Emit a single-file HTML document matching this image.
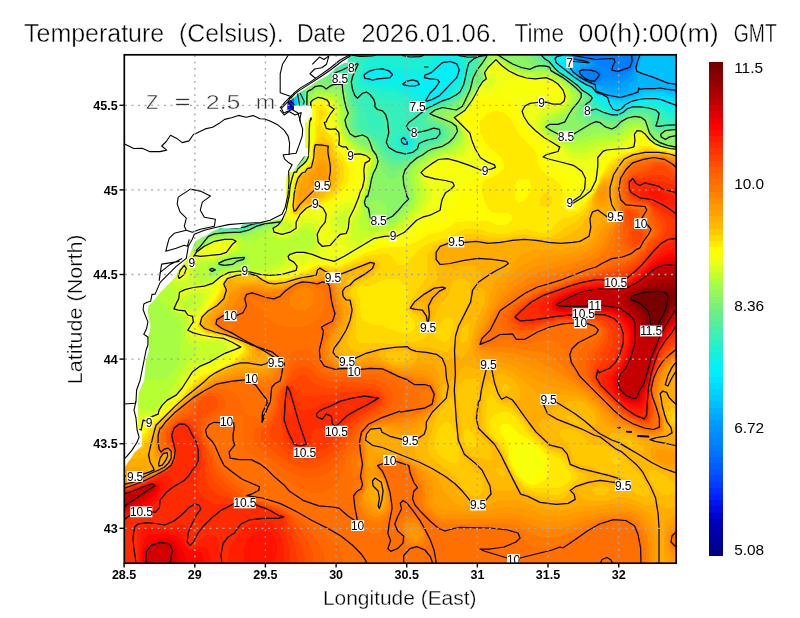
<!DOCTYPE html>
<html><head><meta charset="utf-8"><title>Temperature</title>
<style>
html,body{margin:0;padding:0;background:#fff;}
body{width:800px;height:618px;overflow:hidden;position:relative;}
svg{position:absolute;left:0;top:0;}
.t{font-family:"Liberation Sans",sans-serif;}
</style></head><body>
<svg width="800" height="618" viewBox="0 0 800 618">
<defs><clipPath id="pc"><rect x="124.5" y="54.5" width="552" height="509"/></clipPath></defs>
<g clip-path="url(#pc)">
<g shape-rendering="crispEdges"><rect x="124" y="54" width="553" height="510" fill="#007fff"/><path d="M124.5 54.5L124.5 563.5L676.5 563.5L676.5 54.5L633.5 54.5L633.5 64.5L631.5 66.5L631.5 68.5L628.5 70.5L626.5 70.5L624.5 72.5L620.5 72.5L618.5 74.5L612.5 72.5L609.5 68.5L602.5 65.5L598.5 62.5L596.5 62.5L593.5 59.5L583.5 59.5L581.5 57.5L575.5 57.5L574.5 54.5ZM580.5 73.5L583.5 70.5L591.5 70.5L592.5 69.5L593.5 70.5L598.5 70.5L602.5 73.5L602.5 75.5L600.5 76.5L600.5 78.5L595.5 82.5L594.5 81.5L589.5 81.5L588.5 79.5L585.5 79.5Z" fill="#0087ff"/><path d="M124.5 54.5L124.5 563.5L676.5 563.5L676.5 54.5L634.5 54.5L634.5 65.5L630.5 71.5L620.5 76.5L607.5 76.5L595.5 83.5L592.5 81.5L588.5 81.5L586.5 79.5L584.5 79.5L579.5 74.5L579.5 72.5L582.5 69.5L593.5 67.5L594.5 66.5L594.5 62.5L592.5 60.5L586.5 60.5L581.5 58.5L575.5 58.5L573.5 56.5L573.5 54.5Z" fill="#008fff"/><path d="M124.5 54.5L124.5 563.5L676.5 563.5L676.5 54.5L636.5 54.5L634.5 67.5L632.5 71.5L628.5 75.5L620.5 79.5L607.5 80.5L595.5 84.5L593.5 82.5L589.5 82.5L587.5 80.5L585.5 80.5L579.5 75.5L579.5 71.5L584.5 67.5L589.5 67.5L591.5 66.5L593.5 63.5L589.5 60.5L582.5 60.5L581.5 59.5L574.5 58.5L572.5 54.5Z" fill="#0096ff"/><path d="M124.5 54.5L124.5 563.5L676.5 563.5L676.5 54.5L637.5 54.5L636.5 64.5L632.5 74.5L626.5 80.5L619.5 83.5L614.5 83.5L613.5 84.5L594.5 84.5L593.5 82.5L588.5 82.5L587.5 80.5L584.5 80.5L583.5 78.5L579.5 76.5L578.5 70.5L583.5 66.5L588.5 66.5L592.5 63.5L590.5 61.5L587.5 61.5L586.5 60.5L574.5 59.5L572.5 57.5L572.5 54.5Z" fill="#009eff"/><path d="M124.5 54.5L124.5 563.5L676.5 563.5L676.5 54.5L638.5 54.5L637.5 64.5L635.5 67.5L634.5 75.5L631.5 81.5L626.5 85.5L624.5 85.5L621.5 87.5L615.5 87.5L614.5 88.5L604.5 87.5L598.5 84.5L594.5 84.5L592.5 82.5L588.5 82.5L586.5 80.5L584.5 80.5L581.5 78.5L577.5 73.5L577.5 69.5L580.5 66.5L590.5 64.5L591.5 62.5L588.5 62.5L585.5 60.5L575.5 60.5L571.5 57.5L571.5 54.5Z" fill="#00a9ff"/><path d="M124.5 54.5L124.5 563.5L676.5 563.5L676.5 54.5L640.5 54.5L638.5 60.5L638.5 64.5L636.5 66.5L637.5 80.5L632.5 87.5L625.5 91.5L622.5 91.5L621.5 92.5L609.5 92.5L602.5 90.5L597.5 85.5L595.5 85.5L593.5 83.5L589.5 83.5L587.5 81.5L585.5 81.5L580.5 78.5L575.5 71.5L576.5 67.5L579.5 64.5L590.5 63.5L590.5 62.5L586.5 62.5L580.5 60.5L573.5 60.5L570.5 57.5L570.5 54.5Z" fill="#00b4ff"/><path d="M124.5 54.5L124.5 563.5L676.5 563.5L676.5 54.5L641.5 54.5L641.5 60.5L639.5 61.5L639.5 66.5L637.5 67.5L637.5 72.5L642.5 72.5L643.5 74.5L648.5 74.5L649.5 76.5L654.5 76.5L655.5 78.5L658.5 78.5L659.5 80.5L664.5 80.5L665.5 82.5L668.5 82.5L670.5 85.5L673.5 85.5L674.5 87.5L672.5 88.5L671.5 90.5L668.5 90.5L667.5 91.5L666.5 89.5L643.5 89.5L642.5 91.5L639.5 91.5L638.5 93.5L636.5 93.5L634.5 95.5L630.5 95.5L628.5 97.5L622.5 97.5L620.5 99.5L617.5 97.5L609.5 97.5L608.5 95.5L603.5 95.5L602.5 93.5L597.5 93.5L596.5 92.5L596.5 85.5L584.5 81.5L575.5 73.5L573.5 73.5L572.5 72.5L572.5 68.5L574.5 65.5L574.5 63.5L575.5 62.5L584.5 62.5L584.5 61.5L572.5 61.5L569.5 57.5L569.5 54.5Z" fill="#00c0ff"/><path d="M124.5 54.5L124.5 563.5L676.5 563.5L676.5 93.5L667.5 93.5L663.5 91.5L645.5 91.5L635.5 96.5L632.5 96.5L629.5 98.5L625.5 98.5L621.5 100.5L618.5 100.5L614.5 98.5L610.5 98.5L607.5 95.5L603.5 95.5L601.5 93.5L597.5 93.5L595.5 86.5L592.5 84.5L589.5 84.5L583.5 80.5L581.5 80.5L575.5 74.5L571.5 72.5L571.5 70.5L569.5 68.5L571.5 64.5L568.5 58.5L568.5 54.5Z" fill="#00cbff"/><path d="M124.5 54.5L124.5 563.5L676.5 563.5L676.5 95.5L669.5 95.5L663.5 93.5L650.5 92.5L649.5 93.5L644.5 93.5L641.5 95.5L626.5 100.5L617.5 101.5L611.5 98.5L609.5 98.5L607.5 96.5L603.5 96.5L601.5 94.5L597.5 94.5L595.5 92.5L595.5 88.5L592.5 85.5L588.5 84.5L582.5 80.5L580.5 80.5L570.5 71.5L569.5 69.5L569.5 64.5L567.5 59.5L567.5 54.5Z" fill="#00d3ff"/><path d="M124.5 54.5L124.5 563.5L676.5 563.5L676.5 97.5L670.5 97.5L669.5 96.5L659.5 95.5L658.5 94.5L647.5 94.5L636.5 98.5L633.5 98.5L621.5 103.5L615.5 102.5L608.5 98.5L607.5 96.5L602.5 96.5L601.5 94.5L596.5 94.5L595.5 93.5L595.5 89.5L591.5 85.5L589.5 85.5L581.5 81.5L575.5 75.5L572.5 74.5L568.5 69.5L567.5 66.5L566.5 54.5Z" fill="#00dcff"/><path d="M124.5 54.5L124.5 563.5L676.5 563.5L676.5 99.5L670.5 99.5L660.5 96.5L644.5 96.5L640.5 98.5L631.5 100.5L623.5 104.5L615.5 104.5L606.5 96.5L603.5 97.5L600.5 94.5L597.5 95.5L595.5 93.5L595.5 90.5L593.5 87.5L580.5 81.5L573.5 74.5L571.5 74.5L567.5 69.5L564.5 62.5L565.5 54.5Z" fill="#00e4ff"/><path d="M124.5 54.5L124.5 563.5L676.5 563.5L676.5 102.5L666.5 100.5L665.5 99.5L661.5 99.5L657.5 97.5L645.5 97.5L642.5 99.5L638.5 99.5L631.5 101.5L620.5 107.5L617.5 107.5L613.5 105.5L607.5 97.5L602.5 97.5L600.5 95.5L596.5 95.5L594.5 93.5L594.5 90.5L592.5 87.5L588.5 86.5L582.5 82.5L580.5 82.5L573.5 75.5L570.5 74.5L562.5 63.5L563.5 54.5Z" fill="#00ecff"/><path d="M124.5 54.5L124.5 563.5L676.5 563.5L676.5 105.5L675.5 104.5L672.5 104.5L669.5 102.5L666.5 102.5L657.5 99.5L644.5 99.5L641.5 101.5L634.5 101.5L632.5 103.5L626.5 105.5L620.5 110.5L615.5 110.5L608.5 102.5L608.5 99.5L607.5 99.5L606.5 97.5L602.5 98.5L600.5 96.5L599.5 97.5L594.5 93.5L594.5 91.5L591.5 87.5L589.5 87.5L587.5 85.5L581.5 83.5L566.5 71.5L564.5 68.5L558.5 63.5L558.5 59.5L560.5 57.5L562.5 57.5L562.5 54.5Z" fill="#03f0f8"/><path d="M370.5 77.5L371.5 78.5L376.5 78.5L378.5 76.5L382.5 76.5L385.5 74.5L383.5 73.5L371.5 73.5L370.5 74.5ZM454.5 72.5L451.5 73.5L453.5 74.5ZM124.5 54.5L124.5 563.5L676.5 563.5L676.5 108.5L664.5 103.5L661.5 103.5L652.5 100.5L647.5 100.5L643.5 102.5L635.5 102.5L632.5 104.5L630.5 104.5L628.5 106.5L626.5 106.5L622.5 111.5L612.5 111.5L604.5 100.5L598.5 98.5L593.5 93.5L593.5 91.5L590.5 88.5L588.5 88.5L586.5 86.5L581.5 84.5L577.5 80.5L575.5 80.5L572.5 76.5L565.5 72.5L555.5 62.5L555.5 58.5L557.5 54.5ZM404.5 138.5L409.5 141.5L410.5 144.5L408.5 146.5L405.5 146.5L401.5 142.5ZM394.5 74.5L393.5 79.5L390.5 81.5L371.5 82.5L369.5 80.5L365.5 80.5L363.5 78.5L364.5 75.5L370.5 69.5L380.5 69.5L383.5 67.5L385.5 69.5L389.5 69.5ZM461.5 69.5L460.5 76.5L449.5 88.5L448.5 91.5L440.5 98.5L438.5 98.5L436.5 100.5L434.5 100.5L432.5 102.5L429.5 102.5L428.5 103.5L425.5 102.5L425.5 95.5L422.5 90.5L408.5 89.5L403.5 87.5L401.5 85.5L401.5 83.5L404.5 80.5L409.5 78.5L422.5 80.5L428.5 73.5L431.5 72.5L436.5 68.5L443.5 60.5L448.5 58.5L455.5 60.5L458.5 63.5Z" fill="#0af0ec"/><path d="M124.5 54.5L124.5 563.5L676.5 563.5L676.5 110.5L673.5 110.5L663.5 105.5L657.5 104.5L653.5 102.5L645.5 102.5L644.5 103.5L635.5 103.5L626.5 107.5L622.5 112.5L612.5 112.5L604.5 103.5L600.5 101.5L589.5 89.5L581.5 85.5L577.5 81.5L574.5 80.5L572.5 77.5L562.5 71.5L556.5 65.5L554.5 61.5L554.5 54.5L456.5 54.5L462.5 68.5L462.5 72.5L460.5 78.5L454.5 86.5L443.5 97.5L434.5 102.5L428.5 104.5L425.5 104.5L423.5 102.5L421.5 97.5L418.5 94.5L410.5 91.5L407.5 91.5L401.5 88.5L395.5 83.5L392.5 83.5L391.5 84.5L388.5 83.5L371.5 83.5L368.5 81.5L365.5 81.5L362.5 77.5L364.5 73.5L368.5 69.5L370.5 68.5L378.5 68.5L382.5 66.5L394.5 70.5L401.5 76.5L404.5 76.5L405.5 75.5L421.5 76.5L424.5 73.5L431.5 69.5L437.5 63.5L441.5 56.5L441.5 54.5ZM403.5 137.5L406.5 137.5L411.5 142.5L411.5 144.5L408.5 147.5L404.5 146.5L401.5 143.5L401.5 139.5Z" fill="#10f0e0"/><path d="M124.5 54.5L124.5 563.5L676.5 563.5L676.5 113.5L671.5 112.5L662.5 107.5L653.5 104.5L634.5 104.5L626.5 108.5L623.5 112.5L613.5 113.5L601.5 104.5L595.5 98.5L590.5 91.5L584.5 88.5L576.5 81.5L573.5 80.5L569.5 76.5L562.5 72.5L555.5 65.5L553.5 61.5L553.5 55.5L552.5 54.5L461.5 54.5L461.5 58.5L463.5 64.5L463.5 73.5L461.5 79.5L457.5 85.5L445.5 97.5L428.5 105.5L423.5 104.5L412.5 95.5L405.5 93.5L395.5 88.5L385.5 87.5L379.5 85.5L373.5 85.5L364.5 82.5L362.5 80.5L361.5 76.5L362.5 73.5L368.5 67.5L370.5 66.5L377.5 66.5L378.5 65.5L391.5 65.5L396.5 67.5L400.5 67.5L401.5 68.5L409.5 69.5L410.5 70.5L415.5 70.5L416.5 71.5L421.5 70.5L426.5 67.5L431.5 62.5L433.5 58.5L433.5 54.5ZM403.5 136.5L407.5 136.5L411.5 140.5L412.5 144.5L410.5 147.5L406.5 148.5L401.5 145.5L400.5 139.5Z" fill="#1cf0d4"/><path d="M124.5 54.5L124.5 563.5L676.5 563.5L676.5 116.5L670.5 115.5L663.5 110.5L650.5 105.5L633.5 105.5L627.5 108.5L624.5 112.5L621.5 113.5L611.5 113.5L600.5 106.5L596.5 102.5L593.5 95.5L590.5 92.5L584.5 89.5L576.5 82.5L573.5 81.5L569.5 77.5L562.5 73.5L553.5 64.5L550.5 54.5L465.5 54.5L465.5 71.5L460.5 84.5L450.5 95.5L440.5 101.5L428.5 106.5L421.5 106.5L411.5 99.5L403.5 95.5L393.5 92.5L383.5 91.5L363.5 84.5L360.5 81.5L359.5 76.5L362.5 69.5L372.5 54.5ZM402.5 134.5L406.5 134.5L412.5 138.5L413.5 140.5L413.5 145.5L411.5 148.5L409.5 149.5L404.5 149.5L400.5 146.5L398.5 140.5L399.5 137.5Z" fill="#28f0c8"/><path d="M124.5 54.5L124.5 563.5L676.5 563.5L676.5 119.5L668.5 118.5L658.5 109.5L652.5 107.5L644.5 107.5L643.5 106.5L632.5 106.5L620.5 114.5L611.5 114.5L606.5 112.5L604.5 110.5L599.5 108.5L594.5 103.5L593.5 96.5L591.5 94.5L585.5 91.5L575.5 82.5L573.5 82.5L569.5 78.5L559.5 72.5L552.5 64.5L548.5 56.5L548.5 54.5L469.5 54.5L465.5 77.5L459.5 89.5L454.5 94.5L446.5 99.5L444.5 99.5L436.5 104.5L421.5 109.5L417.5 109.5L410.5 107.5L405.5 103.5L398.5 100.5L391.5 100.5L390.5 99.5L383.5 98.5L368.5 90.5L361.5 90.5L358.5 87.5L357.5 84.5L357.5 75.5L361.5 67.5L361.5 63.5L357.5 56.5L357.5 54.5ZM401.5 131.5L407.5 132.5L415.5 138.5L416.5 143.5L415.5 146.5L411.5 150.5L409.5 151.5L404.5 151.5L400.5 149.5L396.5 145.5L395.5 139.5L397.5 134.5Z" fill="#34f0bc"/><path d="M124.5 54.5L124.5 563.5L676.5 563.5L676.5 123.5L666.5 123.5L662.5 119.5L661.5 114.5L658.5 111.5L653.5 110.5L650.5 108.5L632.5 107.5L620.5 115.5L611.5 115.5L610.5 114.5L607.5 114.5L601.5 110.5L595.5 109.5L591.5 105.5L592.5 96.5L583.5 91.5L575.5 83.5L573.5 83.5L569.5 79.5L559.5 73.5L552.5 66.5L549.5 60.5L545.5 57.5L545.5 54.5L475.5 54.5L474.5 57.5L468.5 65.5L468.5 71.5L466.5 73.5L466.5 79.5L464.5 81.5L464.5 86.5L462.5 89.5L452.5 98.5L449.5 98.5L447.5 100.5L442.5 101.5L439.5 104.5L427.5 108.5L423.5 112.5L419.5 113.5L411.5 118.5L406.5 123.5L405.5 127.5L407.5 130.5L412.5 133.5L416.5 134.5L419.5 137.5L420.5 140.5L418.5 143.5L417.5 148.5L413.5 152.5L408.5 154.5L405.5 154.5L393.5 149.5L390.5 146.5L389.5 140.5L391.5 134.5L391.5 121.5L386.5 111.5L378.5 104.5L371.5 94.5L369.5 94.5L367.5 92.5L364.5 92.5L359.5 96.5L356.5 94.5L353.5 87.5L353.5 80.5L357.5 69.5L359.5 67.5L359.5 64.5L354.5 63.5L351.5 60.5L350.5 54.5ZM365.5 94.5L367.5 94.5L370.5 96.5L373.5 102.5L373.5 112.5L382.5 119.5L383.5 127.5L380.5 130.5L377.5 130.5L371.5 127.5L366.5 121.5L366.5 114.5L359.5 101.5L362.5 96.5ZM470.5 71.5L471.5 74.5L469.5 76.5L468.5 73.5Z" fill="#41f0af"/><path d="M124.5 54.5L124.5 563.5L676.5 563.5L676.5 126.5L658.5 128.5L655.5 125.5L657.5 121.5L656.5 115.5L651.5 111.5L642.5 110.5L639.5 108.5L635.5 108.5L633.5 110.5L629.5 110.5L626.5 113.5L620.5 116.5L607.5 116.5L599.5 112.5L589.5 112.5L586.5 110.5L584.5 106.5L589.5 102.5L589.5 99.5L590.5 98.5L589.5 96.5L584.5 93.5L574.5 83.5L572.5 83.5L563.5 75.5L561.5 75.5L558.5 73.5L550.5 65.5L549.5 62.5L547.5 62.5L541.5 56.5L541.5 54.5L487.5 54.5L483.5 57.5L479.5 58.5L476.5 61.5L475.5 68.5L473.5 74.5L469.5 80.5L469.5 82.5L464.5 88.5L464.5 90.5L456.5 98.5L454.5 98.5L452.5 100.5L449.5 100.5L446.5 102.5L444.5 102.5L442.5 104.5L430.5 108.5L422.5 117.5L421.5 123.5L423.5 126.5L425.5 127.5L436.5 127.5L442.5 131.5L442.5 134.5L436.5 140.5L434.5 140.5L432.5 142.5L427.5 142.5L425.5 144.5L421.5 145.5L420.5 148.5L414.5 154.5L412.5 154.5L410.5 156.5L394.5 156.5L390.5 154.5L386.5 150.5L380.5 141.5L370.5 133.5L363.5 130.5L359.5 126.5L358.5 124.5L358.5 109.5L352.5 95.5L350.5 79.5L348.5 75.5L346.5 74.5L340.5 74.5L337.5 76.5L334.5 75.5L334.5 73.5L337.5 71.5L341.5 65.5L342.5 62.5L342.5 54.5ZM252.5 225.5L250.5 227.5L246.5 227.5L244.5 229.5L219.5 229.5L218.5 228.5L224.5 226.5L244.5 226.5L249.5 224.5ZM251.5 224.5L252.5 223.5L258.5 223.5L259.5 224.5L258.5 225.5L252.5 225.5Z" fill="#4df0a3"/><path d="M124.5 54.5L124.5 563.5L676.5 563.5L676.5 127.5L658.5 129.5L656.5 128.5L654.5 125.5L654.5 118.5L652.5 115.5L647.5 112.5L644.5 112.5L639.5 110.5L632.5 111.5L620.5 117.5L615.5 117.5L614.5 118.5L605.5 117.5L598.5 114.5L590.5 114.5L586.5 112.5L584.5 110.5L583.5 106.5L587.5 101.5L587.5 96.5L575.5 84.5L573.5 84.5L569.5 80.5L567.5 80.5L562.5 75.5L560.5 75.5L548.5 63.5L545.5 62.5L540.5 57.5L540.5 54.5L487.5 54.5L486.5 56.5L479.5 60.5L475.5 72.5L470.5 81.5L469.5 85.5L456.5 99.5L442.5 105.5L434.5 107.5L427.5 113.5L426.5 115.5L426.5 121.5L431.5 125.5L435.5 125.5L441.5 128.5L443.5 131.5L443.5 135.5L437.5 141.5L425.5 145.5L422.5 147.5L416.5 154.5L410.5 157.5L403.5 159.5L392.5 159.5L383.5 151.5L381.5 147.5L370.5 135.5L361.5 132.5L356.5 127.5L355.5 125.5L355.5 108.5L351.5 99.5L348.5 82.5L347.5 80.5L343.5 77.5L335.5 77.5L332.5 75.5L332.5 71.5L334.5 65.5L334.5 56.5L335.5 54.5ZM262.5 222.5L259.5 225.5L253.5 226.5L244.5 230.5L218.5 230.5L217.5 229.5L217.5 227.5L219.5 225.5L227.5 222.5L246.5 222.5L247.5 221.5L261.5 221.5Z" fill="#59f097"/><path d="M124.5 54.5L124.5 563.5L676.5 563.5L676.5 128.5L657.5 130.5L653.5 126.5L652.5 119.5L647.5 114.5L640.5 112.5L634.5 112.5L618.5 119.5L606.5 119.5L597.5 116.5L587.5 115.5L582.5 109.5L582.5 105.5L585.5 102.5L586.5 99.5L585.5 95.5L574.5 84.5L572.5 84.5L563.5 76.5L561.5 76.5L558.5 74.5L548.5 64.5L543.5 62.5L538.5 57.5L537.5 54.5L488.5 54.5L480.5 61.5L475.5 72.5L475.5 74.5L471.5 80.5L471.5 83.5L469.5 87.5L460.5 97.5L448.5 104.5L434.5 108.5L429.5 112.5L428.5 114.5L428.5 119.5L431.5 122.5L437.5 124.5L443.5 128.5L445.5 133.5L443.5 138.5L438.5 142.5L425.5 147.5L419.5 153.5L409.5 159.5L407.5 159.5L401.5 162.5L392.5 162.5L388.5 160.5L384.5 156.5L376.5 144.5L368.5 135.5L359.5 133.5L354.5 128.5L353.5 126.5L353.5 108.5L349.5 98.5L347.5 85.5L345.5 81.5L342.5 79.5L336.5 79.5L333.5 78.5L330.5 75.5L328.5 69.5L328.5 54.5ZM216.5 229.5L217.5 224.5L221.5 220.5L228.5 217.5L246.5 217.5L247.5 218.5L254.5 218.5L262.5 221.5L262.5 223.5L259.5 226.5L254.5 226.5L251.5 228.5L241.5 231.5L218.5 231.5Z" fill="#65f08b"/><path d="M124.5 54.5L124.5 563.5L676.5 563.5L676.5 128.5L675.5 129.5L666.5 129.5L661.5 131.5L656.5 131.5L652.5 127.5L649.5 118.5L647.5 116.5L641.5 114.5L632.5 114.5L617.5 121.5L606.5 121.5L598.5 118.5L588.5 118.5L582.5 114.5L580.5 109.5L580.5 107.5L584.5 101.5L584.5 95.5L573.5 84.5L571.5 84.5L562.5 76.5L560.5 76.5L557.5 74.5L548.5 65.5L540.5 62.5L536.5 58.5L535.5 54.5L488.5 54.5L480.5 63.5L472.5 80.5L471.5 85.5L468.5 90.5L455.5 102.5L449.5 105.5L434.5 109.5L430.5 112.5L429.5 114.5L430.5 118.5L432.5 120.5L441.5 124.5L446.5 129.5L446.5 136.5L445.5 138.5L438.5 144.5L433.5 145.5L425.5 149.5L421.5 153.5L412.5 159.5L400.5 165.5L394.5 166.5L389.5 164.5L382.5 157.5L368.5 136.5L358.5 134.5L353.5 130.5L351.5 126.5L351.5 116.5L352.5 115.5L352.5 112.5L348.5 100.5L345.5 84.5L342.5 81.5L331.5 79.5L325.5 73.5L322.5 67.5L320.5 54.5ZM214.5 228.5L214.5 222.5L215.5 220.5L223.5 213.5L229.5 211.5L240.5 211.5L241.5 212.5L249.5 213.5L255.5 216.5L257.5 216.5L260.5 218.5L263.5 222.5L260.5 226.5L256.5 226.5L244.5 231.5L224.5 231.5L223.5 232.5L218.5 232.5Z" fill="#71f07f"/><path d="M124.5 54.5L124.5 563.5L676.5 563.5L676.5 129.5L674.5 130.5L665.5 130.5L657.5 133.5L651.5 128.5L649.5 121.5L647.5 118.5L638.5 115.5L634.5 115.5L628.5 117.5L617.5 123.5L614.5 123.5L613.5 124.5L606.5 123.5L600.5 120.5L585.5 120.5L579.5 115.5L578.5 112.5L578.5 108.5L583.5 100.5L583.5 94.5L574.5 85.5L571.5 84.5L562.5 76.5L560.5 76.5L552.5 70.5L549.5 66.5L543.5 65.5L536.5 62.5L532.5 58.5L531.5 54.5L488.5 54.5L478.5 68.5L478.5 70.5L476.5 72.5L476.5 75.5L472.5 81.5L472.5 85.5L469.5 91.5L453.5 105.5L436.5 109.5L431.5 112.5L430.5 114.5L431.5 117.5L443.5 123.5L448.5 128.5L449.5 130.5L449.5 135.5L447.5 139.5L443.5 143.5L428.5 149.5L401.5 168.5L396.5 170.5L391.5 170.5L383.5 163.5L369.5 138.5L367.5 136.5L356.5 135.5L351.5 130.5L349.5 125.5L350.5 109.5L346.5 99.5L346.5 92.5L343.5 83.5L340.5 82.5L332.5 82.5L331.5 81.5L328.5 81.5L323.5 78.5L318.5 73.5L313.5 64.5L312.5 54.5ZM210.5 226.5L210.5 218.5L212.5 214.5L221.5 206.5L228.5 204.5L237.5 204.5L247.5 207.5L259.5 214.5L264.5 220.5L264.5 222.5L260.5 226.5L257.5 226.5L254.5 228.5L252.5 228.5L250.5 230.5L246.5 230.5L244.5 232.5L223.5 232.5L222.5 233.5L217.5 233.5L215.5 232.5ZM479.5 73.5L481.5 75.5L481.5 78.5L477.5 83.5L475.5 83.5L474.5 82.5L475.5 78.5Z" fill="#7ef372"/><path d="M475.5 77.5L475.5 78.5ZM477.5 73.5L477.5 74.5ZM124.5 54.5L124.5 563.5L676.5 563.5L676.5 130.5L666.5 131.5L665.5 132.5L662.5 132.5L658.5 135.5L655.5 135.5L653.5 134.5L650.5 130.5L647.5 123.5L647.5 120.5L645.5 118.5L640.5 118.5L637.5 116.5L634.5 116.5L632.5 118.5L628.5 118.5L618.5 125.5L615.5 126.5L608.5 126.5L601.5 122.5L593.5 122.5L588.5 124.5L579.5 123.5L575.5 118.5L575.5 110.5L578.5 104.5L582.5 100.5L583.5 96.5L573.5 85.5L571.5 85.5L562.5 77.5L560.5 77.5L547.5 66.5L539.5 66.5L538.5 65.5L530.5 64.5L524.5 58.5L523.5 54.5L489.5 54.5L478.5 70.5L480.5 71.5L482.5 74.5L482.5 78.5L479.5 83.5L475.5 86.5L473.5 84.5L473.5 81.5L473.5 84.5L470.5 89.5L470.5 92.5L455.5 106.5L450.5 108.5L441.5 108.5L439.5 110.5L435.5 110.5L431.5 114.5L431.5 115.5L434.5 117.5L444.5 121.5L452.5 128.5L453.5 131.5L452.5 137.5L444.5 145.5L442.5 145.5L436.5 148.5L432.5 148.5L422.5 156.5L420.5 156.5L415.5 159.5L408.5 165.5L398.5 176.5L391.5 178.5L386.5 176.5L383.5 173.5L381.5 169.5L380.5 161.5L377.5 156.5L377.5 154.5L374.5 151.5L373.5 147.5L369.5 141.5L369.5 139.5L364.5 136.5L355.5 136.5L349.5 130.5L349.5 128.5L347.5 125.5L347.5 120.5L349.5 117.5L349.5 110.5L345.5 101.5L345.5 92.5L343.5 90.5L343.5 85.5L342.5 84.5L324.5 84.5L312.5 79.5L307.5 74.5L302.5 65.5L300.5 54.5ZM202.5 217.5L205.5 207.5L212.5 199.5L221.5 195.5L235.5 195.5L241.5 197.5L253.5 204.5L264.5 215.5L266.5 221.5L265.5 223.5L260.5 227.5L256.5 227.5L245.5 232.5L215.5 234.5L209.5 232.5L204.5 227.5ZM359.5 140.5L364.5 137.5L367.5 139.5L368.5 143.5L367.5 144.5L363.5 144.5Z" fill="#8af666"/><path d="M374.5 199.5L369.5 202.5L368.5 204.5L372.5 212.5L373.5 217.5L375.5 218.5L380.5 218.5L385.5 214.5L386.5 212.5L386.5 206.5L382.5 201.5L378.5 199.5ZM124.5 54.5L124.5 563.5L676.5 563.5L676.5 147.5L669.5 147.5L667.5 145.5L663.5 145.5L661.5 143.5L659.5 143.5L655.5 139.5L653.5 139.5L652.5 136.5L648.5 131.5L648.5 127.5L645.5 124.5L645.5 122.5L643.5 120.5L638.5 120.5L637.5 119.5L629.5 120.5L627.5 122.5L625.5 122.5L616.5 130.5L613.5 131.5L608.5 130.5L601.5 126.5L594.5 126.5L585.5 130.5L579.5 134.5L577.5 134.5L575.5 136.5L571.5 136.5L568.5 138.5L558.5 135.5L546.5 128.5L551.5 123.5L559.5 123.5L563.5 121.5L565.5 118.5L567.5 117.5L580.5 98.5L580.5 95.5L576.5 89.5L571.5 86.5L565.5 81.5L564.5 79.5L562.5 79.5L559.5 77.5L558.5 75.5L556.5 75.5L553.5 72.5L550.5 71.5L548.5 68.5L536.5 68.5L531.5 71.5L527.5 69.5L520.5 69.5L518.5 67.5L516.5 67.5L514.5 65.5L508.5 63.5L501.5 57.5L499.5 57.5L498.5 54.5L490.5 54.5L483.5 66.5L483.5 69.5L482.5 70.5L483.5 78.5L480.5 83.5L476.5 87.5L472.5 89.5L471.5 93.5L467.5 98.5L467.5 100.5L465.5 101.5L465.5 104.5L464.5 105.5L463.5 103.5L462.5 103.5L460.5 105.5L461.5 108.5L456.5 111.5L448.5 110.5L445.5 111.5L443.5 114.5L444.5 117.5L448.5 121.5L452.5 122.5L457.5 127.5L457.5 129.5L459.5 131.5L457.5 137.5L450.5 144.5L445.5 147.5L440.5 148.5L437.5 150.5L434.5 150.5L432.5 152.5L426.5 154.5L422.5 158.5L420.5 158.5L417.5 160.5L408.5 169.5L408.5 171.5L406.5 174.5L406.5 187.5L408.5 190.5L408.5 194.5L410.5 197.5L410.5 200.5L406.5 205.5L390.5 220.5L388.5 220.5L385.5 222.5L378.5 222.5L377.5 221.5L374.5 221.5L370.5 218.5L369.5 212.5L364.5 205.5L364.5 202.5L366.5 200.5L366.5 196.5L370.5 190.5L370.5 182.5L372.5 180.5L372.5 176.5L377.5 165.5L376.5 156.5L371.5 149.5L360.5 145.5L353.5 137.5L349.5 134.5L349.5 132.5L346.5 127.5L347.5 111.5L343.5 102.5L343.5 95.5L338.5 88.5L331.5 88.5L327.5 91.5L326.5 91.5L324.5 88.5L317.5 88.5L312.5 92.5L310.5 92.5L307.5 97.5L307.5 104.5L306.5 105.5L305.5 104.5L304.5 91.5L287.5 71.5L283.5 62.5L282.5 54.5ZM210.5 271.5L212.5 268.5L217.5 270.5L213.5 273.5ZM218.5 265.5L220.5 262.5L222.5 262.5L224.5 260.5L228.5 260.5L230.5 258.5L244.5 258.5L245.5 259.5L244.5 261.5L240.5 261.5L237.5 263.5L235.5 263.5L233.5 265.5L229.5 265.5L227.5 267.5L219.5 266.5ZM197.5 248.5L198.5 247.5L199.5 248.5L198.5 249.5ZM199.5 245.5L200.5 244.5L201.5 246.5L200.5 247.5ZM189.5 200.5L194.5 189.5L202.5 182.5L213.5 178.5L226.5 179.5L240.5 185.5L248.5 191.5L263.5 207.5L269.5 219.5L271.5 221.5L275.5 221.5L276.5 222.5L275.5 223.5L271.5 223.5L269.5 225.5L263.5 226.5L260.5 228.5L257.5 228.5L244.5 234.5L240.5 234.5L239.5 233.5L225.5 233.5L223.5 235.5L213.5 235.5L211.5 237.5L209.5 237.5L207.5 240.5L201.5 245.5L200.5 244.5L201.5 241.5L200.5 237.5L193.5 226.5L193.5 224.5L190.5 218.5L190.5 215.5L189.5 214.5ZM296.5 166.5L297.5 165.5L299.5 166.5L298.5 167.5ZM299.5 163.5L300.5 162.5L301.5 164.5L300.5 165.5ZM301.5 159.5L302.5 158.5L303.5 160.5L302.5 161.5ZM461.5 106.5L462.5 105.5L463.5 106.5L462.5 107.5Z" fill="#98f957"/><path d="M676.5 149.5L674.5 147.5L668.5 147.5L665.5 145.5L659.5 144.5L655.5 140.5L653.5 140.5L649.5 135.5L649.5 133.5L647.5 131.5L646.5 127.5L643.5 124.5L638.5 122.5L631.5 123.5L625.5 126.5L619.5 131.5L612.5 134.5L611.5 133.5L598.5 132.5L577.5 139.5L572.5 139.5L571.5 140.5L563.5 139.5L554.5 135.5L552.5 133.5L547.5 131.5L545.5 129.5L545.5 127.5L549.5 122.5L562.5 117.5L569.5 110.5L575.5 100.5L575.5 93.5L574.5 91.5L564.5 81.5L561.5 80.5L558.5 77.5L546.5 70.5L537.5 70.5L532.5 72.5L523.5 71.5L511.5 66.5L503.5 60.5L498.5 58.5L495.5 54.5L492.5 54.5L484.5 68.5L483.5 71.5L484.5 77.5L482.5 81.5L470.5 95.5L470.5 97.5L466.5 102.5L466.5 104.5L457.5 112.5L451.5 113.5L449.5 115.5L449.5 118.5L458.5 126.5L458.5 128.5L460.5 130.5L460.5 134.5L458.5 139.5L448.5 148.5L435.5 152.5L429.5 155.5L420.5 161.5L413.5 168.5L410.5 177.5L410.5 183.5L411.5 184.5L411.5 190.5L412.5 191.5L412.5 201.5L408.5 207.5L393.5 221.5L386.5 224.5L377.5 224.5L369.5 220.5L366.5 210.5L363.5 206.5L363.5 202.5L369.5 186.5L370.5 177.5L374.5 169.5L375.5 159.5L373.5 154.5L371.5 152.5L356.5 145.5L348.5 136.5L344.5 127.5L344.5 111.5L343.5 110.5L343.5 107.5L340.5 98.5L337.5 94.5L333.5 92.5L325.5 92.5L320.5 90.5L319.5 91.5L316.5 91.5L309.5 97.5L308.5 99.5L308.5 106.5L306.5 108.5L299.5 100.5L290.5 95.5L262.5 87.5L249.5 86.5L248.5 85.5L240.5 85.5L239.5 86.5L231.5 87.5L224.5 91.5L219.5 97.5L216.5 105.5L216.5 119.5L219.5 129.5L227.5 144.5L254.5 182.5L263.5 199.5L265.5 201.5L272.5 216.5L275.5 219.5L280.5 221.5L281.5 223.5L280.5 224.5L279.5 223.5L273.5 224.5L267.5 228.5L262.5 229.5L246.5 236.5L240.5 236.5L239.5 235.5L216.5 236.5L209.5 239.5L205.5 244.5L196.5 251.5L192.5 241.5L154.5 208.5L138.5 198.5L124.5 195.5L124.5 563.5L676.5 563.5ZM247.5 259.5L244.5 263.5L240.5 263.5L232.5 267.5L219.5 268.5L219.5 270.5L214.5 274.5L211.5 274.5L209.5 272.5L209.5 269.5L212.5 266.5L216.5 266.5L216.5 264.5L219.5 261.5L231.5 256.5L244.5 256.5ZM304.5 155.5L305.5 156.5L304.5 161.5L298.5 168.5L296.5 168.5L295.5 167.5L296.5 161.5L301.5 156.5Z" fill="#a7fc44"/><path d="M676.5 149.5L675.5 148.5L668.5 148.5L666.5 146.5L662.5 146.5L651.5 139.5L647.5 131.5L640.5 125.5L634.5 125.5L628.5 128.5L620.5 134.5L615.5 136.5L612.5 136.5L611.5 137.5L600.5 137.5L599.5 138.5L595.5 138.5L587.5 141.5L578.5 142.5L577.5 143.5L570.5 143.5L556.5 138.5L548.5 133.5L544.5 129.5L544.5 125.5L549.5 119.5L561.5 114.5L565.5 111.5L570.5 105.5L573.5 97.5L570.5 89.5L559.5 79.5L545.5 72.5L536.5 72.5L535.5 73.5L522.5 72.5L507.5 65.5L501.5 60.5L494.5 57.5L489.5 61.5L484.5 70.5L484.5 79.5L471.5 95.5L466.5 105.5L460.5 111.5L453.5 114.5L451.5 117.5L452.5 120.5L458.5 125.5L461.5 130.5L461.5 137.5L458.5 143.5L451.5 149.5L436.5 154.5L428.5 158.5L418.5 166.5L414.5 174.5L414.5 183.5L415.5 184.5L415.5 190.5L416.5 191.5L415.5 201.5L412.5 207.5L399.5 220.5L393.5 224.5L387.5 226.5L374.5 226.5L367.5 221.5L362.5 208.5L362.5 201.5L367.5 189.5L369.5 176.5L374.5 163.5L374.5 159.5L372.5 155.5L368.5 152.5L357.5 148.5L346.5 136.5L342.5 125.5L341.5 108.5L337.5 99.5L333.5 95.5L330.5 94.5L316.5 93.5L310.5 98.5L307.5 108.5L304.5 108.5L300.5 106.5L289.5 106.5L282.5 108.5L275.5 112.5L267.5 121.5L263.5 131.5L263.5 137.5L262.5 138.5L263.5 173.5L264.5 174.5L264.5 180.5L265.5 181.5L266.5 189.5L269.5 196.5L269.5 199.5L271.5 202.5L275.5 215.5L277.5 218.5L282.5 222.5L281.5 224.5L276.5 224.5L272.5 226.5L263.5 235.5L252.5 240.5L244.5 240.5L239.5 237.5L236.5 237.5L235.5 236.5L225.5 236.5L224.5 237.5L213.5 238.5L196.5 252.5L191.5 248.5L181.5 244.5L177.5 244.5L176.5 243.5L163.5 243.5L162.5 244.5L157.5 244.5L148.5 247.5L133.5 255.5L124.5 257.5L124.5 283.5L129.5 283.5L143.5 290.5L161.5 301.5L168.5 309.5L179.5 319.5L181.5 324.5L181.5 327.5L180.5 328.5L180.5 339.5L179.5 340.5L179.5 358.5L176.5 366.5L172.5 372.5L167.5 377.5L163.5 379.5L156.5 380.5L155.5 379.5L146.5 379.5L145.5 378.5L139.5 378.5L138.5 377.5L132.5 377.5L131.5 376.5L124.5 376.5L124.5 563.5L676.5 563.5ZM250.5 258.5L249.5 262.5L245.5 265.5L222.5 270.5L213.5 276.5L210.5 276.5L206.5 273.5L206.5 268.5L209.5 265.5L230.5 255.5L240.5 252.5L244.5 252.5L246.5 253.5ZM304.5 154.5L306.5 156.5L304.5 162.5L301.5 166.5L298.5 168.5L295.5 168.5L292.5 164.5L292.5 159.5L298.5 154.5Z" fill="#b6ff32"/><path d="M675.5 148.5L668.5 148.5L665.5 146.5L661.5 146.5L657.5 144.5L649.5 137.5L646.5 131.5L641.5 127.5L633.5 128.5L619.5 138.5L613.5 140.5L608.5 140.5L607.5 141.5L595.5 143.5L588.5 146.5L573.5 147.5L564.5 144.5L548.5 135.5L543.5 130.5L542.5 124.5L544.5 120.5L548.5 116.5L562.5 110.5L567.5 106.5L570.5 100.5L570.5 93.5L568.5 89.5L561.5 82.5L549.5 75.5L546.5 74.5L532.5 74.5L530.5 75.5L529.5 74.5L521.5 73.5L510.5 68.5L501.5 61.5L497.5 59.5L494.5 59.5L490.5 62.5L484.5 71.5L485.5 78.5L469.5 100.5L467.5 105.5L461.5 111.5L453.5 116.5L453.5 119.5L458.5 124.5L462.5 130.5L462.5 133.5L463.5 134.5L462.5 141.5L460.5 145.5L453.5 151.5L436.5 156.5L430.5 159.5L420.5 167.5L417.5 173.5L417.5 179.5L418.5 180.5L418.5 184.5L420.5 190.5L420.5 197.5L416.5 207.5L406.5 218.5L393.5 227.5L386.5 229.5L378.5 229.5L377.5 230.5L361.5 230.5L358.5 227.5L358.5 220.5L360.5 215.5L360.5 207.5L361.5 206.5L362.5 197.5L366.5 189.5L368.5 175.5L373.5 161.5L372.5 157.5L369.5 154.5L363.5 151.5L357.5 150.5L354.5 148.5L345.5 138.5L340.5 124.5L339.5 108.5L335.5 100.5L329.5 96.5L322.5 95.5L321.5 94.5L314.5 96.5L309.5 102.5L309.5 107.5L307.5 109.5L299.5 110.5L293.5 113.5L288.5 118.5L284.5 126.5L283.5 137.5L285.5 143.5L290.5 148.5L303.5 152.5L307.5 157.5L304.5 163.5L300.5 166.5L298.5 169.5L294.5 169.5L287.5 166.5L282.5 166.5L277.5 170.5L275.5 174.5L274.5 182.5L273.5 183.5L274.5 197.5L275.5 198.5L278.5 215.5L283.5 223.5L281.5 225.5L278.5 224.5L274.5 226.5L271.5 230.5L271.5 233.5L273.5 236.5L277.5 238.5L286.5 238.5L294.5 234.5L296.5 234.5L304.5 228.5L307.5 228.5L311.5 232.5L312.5 235.5L312.5 246.5L309.5 248.5L291.5 250.5L287.5 252.5L277.5 263.5L266.5 268.5L263.5 268.5L262.5 269.5L252.5 269.5L251.5 268.5L231.5 269.5L220.5 273.5L210.5 280.5L198.5 282.5L197.5 281.5L194.5 281.5L192.5 278.5L193.5 270.5L197.5 265.5L202.5 262.5L212.5 261.5L218.5 258.5L224.5 257.5L237.5 250.5L241.5 244.5L238.5 239.5L233.5 237.5L217.5 238.5L210.5 241.5L201.5 249.5L198.5 250.5L197.5 252.5L184.5 252.5L172.5 256.5L166.5 261.5L163.5 267.5L164.5 276.5L176.5 289.5L175.5 298.5L173.5 303.5L173.5 310.5L176.5 313.5L181.5 314.5L185.5 319.5L184.5 334.5L188.5 343.5L195.5 350.5L195.5 352.5L183.5 367.5L168.5 394.5L154.5 408.5L152.5 409.5L142.5 409.5L131.5 404.5L124.5 403.5L124.5 563.5L676.5 563.5L676.5 150.5ZM204.5 350.5L205.5 349.5L209.5 349.5L210.5 350.5L207.5 352.5ZM194.5 300.5L193.5 304.5L190.5 306.5L186.5 306.5L183.5 304.5L184.5 300.5L190.5 297.5Z" fill="#c9ff28"/><path d="M238.5 241.5L235.5 239.5L217.5 239.5L212.5 241.5L197.5 252.5L191.5 254.5L186.5 259.5L177.5 263.5L173.5 268.5L173.5 276.5L174.5 278.5L179.5 282.5L185.5 281.5L188.5 277.5L190.5 267.5L198.5 260.5L201.5 259.5L212.5 259.5L216.5 257.5L226.5 255.5L231.5 252.5L237.5 246.5ZM676.5 150.5L674.5 148.5L667.5 148.5L664.5 146.5L659.5 146.5L655.5 142.5L653.5 142.5L649.5 138.5L646.5 132.5L642.5 129.5L636.5 129.5L626.5 138.5L621.5 141.5L611.5 144.5L603.5 145.5L587.5 152.5L573.5 152.5L547.5 136.5L541.5 130.5L539.5 124.5L541.5 118.5L546.5 113.5L561.5 108.5L567.5 103.5L568.5 93.5L566.5 89.5L559.5 82.5L548.5 76.5L527.5 76.5L518.5 73.5L513.5 70.5L511.5 70.5L502.5 64.5L498.5 60.5L494.5 60.5L484.5 72.5L486.5 75.5L486.5 78.5L482.5 82.5L482.5 84.5L478.5 88.5L470.5 100.5L468.5 105.5L461.5 112.5L458.5 113.5L454.5 117.5L454.5 119.5L462.5 128.5L465.5 135.5L465.5 141.5L463.5 147.5L458.5 152.5L454.5 154.5L445.5 155.5L432.5 160.5L426.5 164.5L420.5 171.5L420.5 178.5L425.5 190.5L425.5 197.5L420.5 208.5L400.5 227.5L390.5 231.5L375.5 233.5L361.5 240.5L354.5 241.5L351.5 239.5L350.5 236.5L351.5 235.5L351.5 225.5L354.5 216.5L356.5 214.5L359.5 207.5L360.5 200.5L366.5 185.5L366.5 178.5L367.5 177.5L368.5 168.5L372.5 161.5L371.5 157.5L365.5 153.5L355.5 151.5L344.5 140.5L341.5 130.5L338.5 124.5L337.5 108.5L333.5 101.5L331.5 99.5L323.5 96.5L317.5 96.5L315.5 97.5L310.5 102.5L309.5 108.5L299.5 115.5L296.5 120.5L294.5 127.5L294.5 133.5L296.5 140.5L300.5 146.5L306.5 152.5L307.5 154.5L307.5 160.5L299.5 169.5L287.5 172.5L283.5 176.5L280.5 184.5L280.5 210.5L281.5 211.5L281.5 219.5L282.5 221.5L290.5 223.5L292.5 226.5L289.5 230.5L283.5 232.5L280.5 230.5L280.5 225.5L277.5 225.5L277.5 226.5L273.5 229.5L273.5 233.5L278.5 236.5L287.5 236.5L289.5 234.5L295.5 232.5L303.5 223.5L309.5 222.5L311.5 223.5L315.5 228.5L315.5 237.5L316.5 238.5L316.5 246.5L317.5 247.5L314.5 251.5L294.5 251.5L288.5 254.5L286.5 257.5L285.5 263.5L281.5 267.5L271.5 271.5L265.5 271.5L264.5 272.5L244.5 271.5L243.5 270.5L228.5 271.5L221.5 274.5L211.5 282.5L205.5 284.5L187.5 286.5L184.5 287.5L179.5 291.5L177.5 300.5L175.5 302.5L174.5 310.5L177.5 312.5L182.5 312.5L186.5 315.5L188.5 319.5L188.5 325.5L186.5 330.5L187.5 334.5L191.5 338.5L196.5 340.5L209.5 340.5L210.5 341.5L220.5 342.5L225.5 346.5L225.5 348.5L220.5 354.5L215.5 357.5L205.5 361.5L195.5 363.5L190.5 366.5L183.5 375.5L174.5 392.5L160.5 407.5L153.5 413.5L141.5 415.5L140.5 414.5L134.5 414.5L133.5 413.5L124.5 412.5L124.5 563.5L676.5 563.5ZM202.5 292.5L204.5 295.5L202.5 302.5L199.5 307.5L195.5 311.5L191.5 312.5L187.5 309.5L180.5 309.5L178.5 307.5L178.5 304.5L181.5 298.5L186.5 293.5L189.5 293.5L190.5 292.5ZM346.5 210.5L347.5 211.5L346.5 221.5L342.5 227.5L339.5 227.5L336.5 222.5L337.5 217.5L343.5 210.5Z" fill="#ddff1f"/><path d="M185.5 265.5L181.5 266.5L178.5 269.5L177.5 277.5L179.5 279.5L182.5 279.5L186.5 276.5L187.5 267.5ZM237.5 242.5L235.5 240.5L216.5 240.5L207.5 246.5L205.5 246.5L197.5 253.5L195.5 253.5L192.5 257.5L191.5 262.5L193.5 263.5L197.5 258.5L213.5 257.5L217.5 255.5L223.5 255.5L227.5 253.5ZM676.5 150.5L675.5 149.5L668.5 149.5L665.5 147.5L658.5 146.5L654.5 142.5L652.5 142.5L647.5 137.5L647.5 135.5L641.5 130.5L637.5 130.5L632.5 135.5L631.5 138.5L626.5 143.5L622.5 145.5L606.5 148.5L588.5 159.5L583.5 159.5L581.5 160.5L580.5 159.5L572.5 158.5L568.5 156.5L559.5 145.5L551.5 141.5L547.5 137.5L543.5 135.5L537.5 128.5L535.5 124.5L535.5 117.5L542.5 109.5L560.5 106.5L565.5 103.5L567.5 98.5L567.5 95.5L565.5 90.5L557.5 82.5L549.5 78.5L546.5 78.5L545.5 77.5L525.5 77.5L504.5 67.5L496.5 60.5L485.5 72.5L486.5 74.5L486.5 79.5L478.5 89.5L478.5 91.5L470.5 102.5L469.5 105.5L460.5 114.5L458.5 114.5L454.5 118.5L458.5 123.5L460.5 124.5L467.5 134.5L467.5 137.5L468.5 138.5L468.5 147.5L465.5 153.5L461.5 156.5L458.5 157.5L445.5 157.5L434.5 161.5L429.5 164.5L422.5 171.5L421.5 174.5L422.5 177.5L430.5 186.5L432.5 191.5L431.5 199.5L424.5 210.5L407.5 226.5L396.5 233.5L384.5 234.5L383.5 235.5L376.5 236.5L359.5 245.5L353.5 247.5L348.5 247.5L343.5 243.5L343.5 240.5L344.5 238.5L347.5 236.5L349.5 232.5L349.5 224.5L351.5 221.5L351.5 218.5L359.5 203.5L359.5 198.5L365.5 185.5L366.5 168.5L371.5 161.5L371.5 159.5L365.5 154.5L359.5 154.5L353.5 152.5L348.5 146.5L343.5 143.5L339.5 129.5L337.5 127.5L335.5 121.5L335.5 108.5L331.5 102.5L328.5 99.5L325.5 99.5L324.5 98.5L316.5 98.5L310.5 103.5L310.5 108.5L309.5 110.5L304.5 115.5L302.5 120.5L302.5 135.5L308.5 153.5L308.5 160.5L299.5 170.5L293.5 172.5L290.5 175.5L287.5 181.5L286.5 188.5L285.5 189.5L284.5 211.5L283.5 212.5L282.5 220.5L283.5 221.5L285.5 219.5L290.5 219.5L295.5 223.5L295.5 228.5L286.5 234.5L281.5 234.5L277.5 231.5L279.5 227.5L279.5 225.5L278.5 225.5L278.5 226.5L274.5 229.5L274.5 233.5L276.5 233.5L278.5 235.5L287.5 235.5L297.5 229.5L299.5 222.5L303.5 218.5L305.5 217.5L314.5 218.5L318.5 222.5L319.5 225.5L317.5 232.5L317.5 238.5L318.5 239.5L318.5 244.5L321.5 249.5L321.5 251.5L318.5 254.5L313.5 254.5L307.5 252.5L294.5 252.5L292.5 254.5L290.5 254.5L288.5 256.5L288.5 260.5L290.5 263.5L290.5 266.5L283.5 271.5L276.5 272.5L272.5 274.5L268.5 274.5L267.5 273.5L256.5 274.5L253.5 272.5L228.5 272.5L220.5 276.5L211.5 284.5L208.5 284.5L205.5 286.5L200.5 286.5L195.5 288.5L189.5 288.5L180.5 292.5L180.5 296.5L178.5 298.5L178.5 301.5L176.5 302.5L176.5 307.5L175.5 309.5L177.5 311.5L184.5 311.5L191.5 320.5L191.5 324.5L188.5 329.5L188.5 332.5L192.5 335.5L202.5 337.5L203.5 338.5L223.5 340.5L229.5 344.5L230.5 348.5L222.5 355.5L214.5 360.5L204.5 363.5L191.5 370.5L178.5 391.5L162.5 406.5L155.5 415.5L138.5 420.5L135.5 420.5L134.5 419.5L124.5 419.5L124.5 563.5L676.5 563.5ZM210.5 289.5L210.5 292.5L204.5 304.5L200.5 310.5L195.5 315.5L191.5 315.5L187.5 310.5L178.5 310.5L176.5 308.5L177.5 307.5L177.5 302.5L179.5 301.5L181.5 295.5L184.5 292.5L194.5 289.5L200.5 289.5L201.5 288.5L209.5 288.5ZM292.5 257.5L295.5 254.5L305.5 254.5L309.5 258.5L307.5 261.5L303.5 263.5L299.5 263.5L294.5 260.5ZM351.5 202.5L353.5 204.5L353.5 209.5L348.5 221.5L347.5 229.5L344.5 232.5L341.5 233.5L332.5 233.5L329.5 229.5L330.5 219.5L332.5 213.5L336.5 208.5L345.5 202.5ZM492.5 72.5L495.5 75.5L495.5 81.5L494.5 83.5L488.5 88.5L484.5 88.5L483.5 87.5L484.5 86.5L484.5 83.5L488.5 79.5L489.5 74.5Z" fill="#efff16"/><path d="M322.5 99.5L317.5 99.5L313.5 103.5L311.5 103.5L311.5 113.5L308.5 115.5L308.5 122.5L309.5 125.5L311.5 126.5L311.5 144.5L309.5 146.5L309.5 160.5L303.5 167.5L301.5 167.5L301.5 169.5L299.5 171.5L295.5 173.5L293.5 176.5L293.5 182.5L291.5 184.5L291.5 196.5L289.5 198.5L289.5 206.5L287.5 208.5L287.5 215.5L296.5 219.5L298.5 219.5L300.5 217.5L300.5 215.5L304.5 212.5L305.5 210.5L306.5 211.5L316.5 211.5L322.5 208.5L324.5 208.5L326.5 211.5L343.5 198.5L353.5 194.5L360.5 194.5L360.5 191.5L362.5 190.5L362.5 185.5L364.5 184.5L364.5 166.5L366.5 163.5L370.5 160.5L370.5 159.5L367.5 159.5L364.5 155.5L351.5 155.5L346.5 147.5L339.5 147.5L338.5 146.5L338.5 143.5L340.5 141.5L340.5 137.5L338.5 135.5L338.5 131.5L334.5 128.5L333.5 122.5L330.5 117.5L330.5 115.5L332.5 114.5L332.5 112.5L334.5 109.5L330.5 106.5L328.5 103.5L328.5 101.5L324.5 101.5ZM676.5 151.5L674.5 149.5L666.5 149.5L664.5 147.5L658.5 147.5L655.5 145.5L654.5 143.5L652.5 143.5L646.5 137.5L646.5 135.5L645.5 135.5L644.5 133.5L641.5 133.5L640.5 131.5L639.5 131.5L639.5 132.5L635.5 135.5L635.5 146.5L633.5 147.5L632.5 149.5L620.5 149.5L618.5 151.5L607.5 151.5L599.5 159.5L599.5 168.5L598.5 169.5L583.5 172.5L580.5 171.5L576.5 167.5L572.5 167.5L570.5 165.5L565.5 165.5L563.5 163.5L559.5 163.5L557.5 161.5L553.5 161.5L551.5 155.5L555.5 152.5L558.5 152.5L558.5 147.5L555.5 147.5L552.5 143.5L550.5 143.5L545.5 139.5L544.5 137.5L542.5 137.5L528.5 124.5L526.5 118.5L522.5 114.5L522.5 111.5L525.5 106.5L527.5 106.5L529.5 104.5L532.5 104.5L534.5 102.5L550.5 102.5L551.5 104.5L560.5 104.5L561.5 102.5L564.5 102.5L564.5 91.5L563.5 91.5L556.5 83.5L553.5 83.5L552.5 81.5L549.5 81.5L548.5 79.5L523.5 79.5L522.5 77.5L519.5 77.5L518.5 75.5L515.5 75.5L514.5 73.5L513.5 77.5L503.5 86.5L490.5 92.5L477.5 94.5L475.5 97.5L475.5 99.5L471.5 103.5L471.5 105.5L461.5 115.5L459.5 115.5L457.5 117.5L457.5 120.5L459.5 121.5L471.5 135.5L471.5 139.5L475.5 145.5L475.5 149.5L479.5 155.5L479.5 158.5L481.5 159.5L476.5 166.5L476.5 168.5L475.5 169.5L474.5 167.5L471.5 167.5L469.5 165.5L464.5 165.5L462.5 163.5L457.5 163.5L456.5 161.5L449.5 161.5L448.5 159.5L445.5 159.5L444.5 161.5L439.5 161.5L438.5 163.5L435.5 163.5L434.5 165.5L431.5 165.5L431.5 166.5L423.5 173.5L425.5 176.5L428.5 176.5L429.5 178.5L438.5 178.5L439.5 180.5L448.5 180.5L452.5 183.5L452.5 187.5L453.5 188.5L451.5 189.5L448.5 193.5L445.5 194.5L445.5 196.5L443.5 198.5L443.5 204.5L441.5 205.5L440.5 207.5L438.5 207.5L433.5 210.5L428.5 217.5L424.5 217.5L419.5 221.5L417.5 221.5L405.5 233.5L402.5 235.5L400.5 235.5L398.5 237.5L383.5 237.5L381.5 239.5L375.5 239.5L373.5 241.5L371.5 241.5L367.5 245.5L365.5 245.5L356.5 251.5L350.5 253.5L346.5 257.5L344.5 257.5L342.5 259.5L339.5 259.5L338.5 261.5L327.5 261.5L325.5 259.5L320.5 259.5L318.5 257.5L315.5 257.5L315.5 259.5L313.5 261.5L304.5 266.5L298.5 267.5L297.5 270.5L292.5 273.5L288.5 273.5L286.5 275.5L276.5 275.5L274.5 277.5L269.5 277.5L267.5 275.5L255.5 275.5L253.5 273.5L229.5 273.5L227.5 275.5L221.5 277.5L219.5 280.5L217.5 281.5L216.5 288.5L203.5 309.5L195.5 318.5L195.5 322.5L191.5 327.5L191.5 332.5L195.5 332.5L197.5 334.5L202.5 334.5L203.5 336.5L212.5 336.5L213.5 338.5L224.5 338.5L226.5 340.5L228.5 340.5L230.5 342.5L236.5 344.5L239.5 348.5L236.5 351.5L233.5 351.5L230.5 353.5L229.5 357.5L222.5 363.5L212.5 367.5L201.5 367.5L197.5 371.5L195.5 371.5L189.5 378.5L189.5 380.5L185.5 384.5L185.5 386.5L179.5 392.5L179.5 394.5L171.5 401.5L169.5 401.5L168.5 404.5L163.5 408.5L156.5 417.5L154.5 417.5L148.5 421.5L145.5 421.5L143.5 423.5L143.5 426.5L142.5 427.5L135.5 425.5L124.5 425.5L124.5 563.5L676.5 563.5Z" fill="#f8ff0a"/><path d="M593.5 180.5L590.5 181.5L589.5 187.5L590.5 188.5L594.5 182.5ZM323.5 102.5L317.5 102.5L315.5 103.5L313.5 106.5L313.5 109.5L314.5 110.5L314.5 121.5L312.5 126.5L312.5 145.5L310.5 147.5L310.5 160.5L294.5 177.5L294.5 182.5L292.5 185.5L292.5 196.5L290.5 199.5L290.5 207.5L289.5 208.5L289.5 213.5L293.5 216.5L297.5 216.5L304.5 209.5L307.5 207.5L309.5 207.5L311.5 205.5L327.5 205.5L331.5 203.5L347.5 191.5L351.5 187.5L355.5 179.5L355.5 168.5L353.5 163.5L345.5 153.5L337.5 147.5L335.5 134.5L327.5 130.5L323.5 125.5L323.5 122.5L326.5 120.5L329.5 114.5L329.5 108.5L328.5 106.5ZM676.5 152.5L674.5 150.5L667.5 150.5L664.5 148.5L658.5 148.5L645.5 141.5L642.5 141.5L640.5 142.5L633.5 150.5L622.5 151.5L619.5 153.5L610.5 155.5L607.5 157.5L603.5 162.5L601.5 171.5L598.5 176.5L598.5 182.5L596.5 184.5L593.5 191.5L589.5 194.5L580.5 204.5L576.5 207.5L571.5 208.5L566.5 205.5L571.5 190.5L570.5 184.5L568.5 180.5L561.5 173.5L548.5 166.5L542.5 160.5L543.5 150.5L541.5 145.5L538.5 141.5L524.5 128.5L517.5 116.5L516.5 111.5L513.5 105.5L508.5 100.5L501.5 97.5L485.5 97.5L484.5 98.5L481.5 98.5L475.5 102.5L473.5 106.5L468.5 111.5L465.5 116.5L465.5 121.5L474.5 133.5L474.5 135.5L482.5 150.5L487.5 155.5L497.5 162.5L499.5 165.5L499.5 169.5L493.5 173.5L480.5 175.5L470.5 180.5L465.5 186.5L456.5 201.5L441.5 215.5L428.5 221.5L416.5 232.5L403.5 240.5L400.5 240.5L399.5 241.5L389.5 241.5L388.5 242.5L383.5 242.5L376.5 244.5L367.5 249.5L361.5 251.5L346.5 260.5L344.5 260.5L336.5 264.5L327.5 263.5L326.5 262.5L316.5 262.5L312.5 265.5L303.5 268.5L293.5 274.5L287.5 276.5L278.5 276.5L275.5 278.5L268.5 278.5L265.5 276.5L254.5 275.5L252.5 273.5L230.5 274.5L224.5 277.5L221.5 280.5L219.5 287.5L214.5 296.5L198.5 317.5L196.5 322.5L196.5 329.5L198.5 331.5L208.5 335.5L213.5 335.5L218.5 337.5L224.5 337.5L231.5 341.5L233.5 341.5L235.5 343.5L237.5 343.5L242.5 347.5L242.5 349.5L224.5 364.5L211.5 370.5L201.5 372.5L197.5 374.5L191.5 380.5L185.5 389.5L171.5 405.5L156.5 419.5L148.5 424.5L143.5 432.5L140.5 433.5L131.5 430.5L124.5 430.5L124.5 563.5L676.5 563.5ZM520.5 444.5L527.5 444.5L533.5 447.5L540.5 454.5L542.5 458.5L542.5 466.5L540.5 472.5L535.5 478.5L532.5 479.5L525.5 478.5L518.5 472.5L514.5 465.5L513.5 457.5L512.5 456.5L514.5 449.5Z" fill="#fffb00"/><path d="M676.5 152.5L668.5 151.5L664.5 149.5L658.5 149.5L649.5 145.5L641.5 145.5L633.5 151.5L625.5 152.5L612.5 158.5L606.5 164.5L602.5 173.5L599.5 177.5L598.5 183.5L596.5 185.5L594.5 191.5L589.5 195.5L585.5 202.5L576.5 210.5L568.5 211.5L564.5 208.5L562.5 204.5L563.5 194.5L560.5 185.5L553.5 178.5L547.5 175.5L541.5 170.5L538.5 165.5L536.5 159.5L536.5 154.5L534.5 149.5L519.5 135.5L511.5 120.5L506.5 114.5L501.5 111.5L498.5 111.5L497.5 110.5L491.5 111.5L486.5 114.5L480.5 120.5L479.5 122.5L479.5 130.5L485.5 143.5L500.5 156.5L503.5 162.5L503.5 168.5L499.5 173.5L494.5 176.5L485.5 179.5L481.5 183.5L481.5 191.5L486.5 205.5L490.5 211.5L492.5 212.5L508.5 213.5L511.5 215.5L511.5 219.5L507.5 223.5L505.5 224.5L495.5 224.5L487.5 220.5L463.5 220.5L462.5 221.5L458.5 221.5L455.5 222.5L442.5 231.5L428.5 234.5L415.5 242.5L413.5 242.5L407.5 245.5L404.5 245.5L403.5 246.5L388.5 246.5L387.5 247.5L378.5 248.5L364.5 253.5L347.5 262.5L335.5 266.5L328.5 265.5L327.5 264.5L317.5 264.5L306.5 270.5L304.5 270.5L297.5 274.5L288.5 277.5L280.5 277.5L275.5 279.5L268.5 279.5L260.5 276.5L255.5 276.5L253.5 274.5L236.5 274.5L235.5 275.5L230.5 275.5L226.5 277.5L222.5 281.5L218.5 293.5L209.5 306.5L200.5 316.5L197.5 323.5L197.5 326.5L201.5 331.5L205.5 333.5L226.5 337.5L240.5 344.5L243.5 347.5L242.5 351.5L233.5 360.5L225.5 365.5L208.5 373.5L203.5 374.5L196.5 378.5L173.5 405.5L164.5 414.5L152.5 423.5L143.5 434.5L141.5 435.5L124.5 435.5L124.5 563.5L676.5 563.5ZM501.5 424.5L503.5 423.5L508.5 423.5L510.5 424.5L517.5 432.5L538.5 446.5L547.5 456.5L549.5 461.5L549.5 467.5L548.5 468.5L548.5 472.5L545.5 478.5L542.5 481.5L535.5 484.5L530.5 484.5L523.5 481.5L517.5 475.5L511.5 464.5L509.5 458.5L508.5 448.5L506.5 441.5L499.5 431.5L499.5 427.5ZM526.5 178.5L528.5 179.5L530.5 182.5L530.5 189.5L526.5 197.5L522.5 201.5L518.5 202.5L514.5 197.5L514.5 185.5L518.5 179.5L520.5 178.5ZM320.5 104.5L315.5 107.5L316.5 120.5L314.5 125.5L314.5 140.5L311.5 148.5L311.5 159.5L309.5 163.5L296.5 176.5L293.5 185.5L292.5 198.5L291.5 199.5L291.5 208.5L290.5 210.5L291.5 213.5L294.5 215.5L298.5 214.5L304.5 208.5L310.5 205.5L324.5 203.5L334.5 197.5L345.5 186.5L348.5 180.5L348.5 176.5L349.5 175.5L348.5 166.5L342.5 155.5L335.5 147.5L333.5 136.5L326.5 131.5L322.5 125.5L322.5 122.5L326.5 116.5L327.5 110.5L323.5 105.5Z" fill="#ffe900"/><path d="M547.5 192.5L543.5 193.5L540.5 198.5L539.5 204.5L542.5 206.5L548.5 206.5L550.5 205.5L551.5 203.5L551.5 197.5ZM676.5 153.5L669.5 152.5L664.5 150.5L658.5 150.5L649.5 147.5L643.5 147.5L633.5 152.5L625.5 154.5L617.5 158.5L610.5 164.5L601.5 176.5L599.5 182.5L597.5 184.5L593.5 193.5L589.5 197.5L585.5 206.5L578.5 213.5L569.5 217.5L561.5 218.5L550.5 230.5L545.5 232.5L537.5 232.5L524.5 228.5L523.5 229.5L518.5 229.5L507.5 233.5L497.5 234.5L496.5 233.5L487.5 232.5L484.5 230.5L477.5 228.5L465.5 228.5L445.5 238.5L439.5 239.5L426.5 244.5L418.5 250.5L413.5 256.5L403.5 265.5L397.5 264.5L394.5 259.5L388.5 254.5L378.5 253.5L377.5 254.5L372.5 254.5L365.5 256.5L340.5 267.5L329.5 267.5L328.5 266.5L320.5 265.5L309.5 271.5L284.5 279.5L269.5 280.5L258.5 276.5L254.5 276.5L253.5 274.5L234.5 275.5L226.5 278.5L222.5 284.5L222.5 288.5L215.5 301.5L200.5 318.5L198.5 325.5L199.5 327.5L205.5 332.5L225.5 336.5L242.5 344.5L244.5 347.5L244.5 351.5L243.5 353.5L233.5 362.5L197.5 380.5L188.5 389.5L181.5 398.5L150.5 428.5L148.5 432.5L143.5 437.5L135.5 440.5L126.5 440.5L124.5 441.5L124.5 563.5L676.5 563.5ZM491.5 417.5L494.5 414.5L502.5 411.5L508.5 412.5L513.5 415.5L518.5 420.5L525.5 431.5L534.5 440.5L542.5 446.5L549.5 453.5L559.5 458.5L564.5 463.5L565.5 466.5L571.5 474.5L570.5 479.5L566.5 483.5L559.5 487.5L533.5 488.5L524.5 485.5L514.5 474.5L509.5 464.5L505.5 450.5L502.5 445.5L492.5 434.5L489.5 428.5L489.5 421.5ZM356.5 289.5L361.5 285.5L371.5 285.5L381.5 280.5L388.5 278.5L396.5 278.5L398.5 279.5L405.5 286.5L408.5 292.5L405.5 309.5L415.5 323.5L414.5 329.5L410.5 332.5L399.5 332.5L387.5 328.5L382.5 325.5L373.5 324.5L364.5 321.5L360.5 316.5L360.5 312.5L359.5 311.5L360.5 300.5L356.5 292.5ZM321.5 109.5L318.5 111.5L319.5 122.5L316.5 128.5L316.5 138.5L312.5 147.5L312.5 158.5L311.5 161.5L298.5 175.5L295.5 181.5L295.5 184.5L293.5 189.5L293.5 197.5L292.5 198.5L292.5 212.5L294.5 214.5L296.5 214.5L304.5 207.5L310.5 204.5L318.5 203.5L329.5 197.5L338.5 189.5L343.5 179.5L343.5 166.5L342.5 163.5L334.5 149.5L332.5 141.5L329.5 135.5L322.5 128.5L319.5 123.5L319.5 121.5L323.5 114.5L323.5 111.5Z" fill="#ffd800"/><path d="M676.5 154.5L669.5 153.5L665.5 151.5L643.5 149.5L637.5 152.5L631.5 153.5L621.5 158.5L616.5 162.5L609.5 171.5L601.5 178.5L599.5 183.5L597.5 185.5L597.5 187.5L595.5 189.5L595.5 191.5L591.5 196.5L588.5 206.5L583.5 214.5L574.5 222.5L568.5 225.5L556.5 234.5L554.5 234.5L551.5 236.5L540.5 237.5L539.5 236.5L534.5 236.5L527.5 234.5L516.5 234.5L506.5 237.5L489.5 237.5L480.5 234.5L467.5 233.5L440.5 242.5L434.5 245.5L428.5 251.5L426.5 255.5L426.5 271.5L427.5 272.5L426.5 273.5L426.5 277.5L411.5 299.5L408.5 308.5L412.5 313.5L415.5 314.5L420.5 319.5L423.5 326.5L427.5 331.5L427.5 334.5L423.5 338.5L416.5 341.5L408.5 341.5L407.5 342.5L402.5 342.5L395.5 344.5L393.5 343.5L385.5 343.5L384.5 342.5L361.5 343.5L359.5 342.5L355.5 337.5L356.5 304.5L355.5 303.5L355.5 300.5L351.5 295.5L350.5 292.5L351.5 289.5L356.5 283.5L369.5 278.5L377.5 271.5L379.5 267.5L379.5 263.5L376.5 259.5L373.5 258.5L365.5 259.5L341.5 269.5L336.5 269.5L335.5 270.5L334.5 269.5L329.5 269.5L324.5 267.5L319.5 267.5L309.5 273.5L300.5 275.5L294.5 278.5L291.5 278.5L286.5 280.5L269.5 281.5L257.5 276.5L254.5 277.5L252.5 274.5L242.5 274.5L239.5 276.5L233.5 276.5L227.5 278.5L223.5 283.5L223.5 289.5L217.5 301.5L201.5 318.5L199.5 325.5L201.5 328.5L207.5 332.5L224.5 335.5L242.5 343.5L246.5 348.5L246.5 352.5L244.5 356.5L236.5 362.5L230.5 365.5L228.5 365.5L218.5 371.5L216.5 371.5L211.5 375.5L199.5 381.5L177.5 404.5L153.5 427.5L148.5 436.5L143.5 441.5L135.5 445.5L124.5 446.5L124.5 563.5L676.5 563.5L676.5 424.5L674.5 424.5L670.5 420.5L670.5 415.5L672.5 413.5L676.5 412.5ZM610.5 458.5L612.5 456.5L616.5 457.5L619.5 460.5L619.5 462.5L618.5 463.5L614.5 463.5ZM467.5 428.5L473.5 434.5L476.5 440.5L476.5 444.5L473.5 447.5L467.5 446.5L463.5 440.5L463.5 433.5L464.5 430.5ZM444.5 421.5L447.5 421.5L451.5 425.5L455.5 433.5L455.5 438.5L456.5 439.5L457.5 447.5L458.5 448.5L458.5 453.5L459.5 454.5L458.5 459.5L455.5 462.5L450.5 462.5L442.5 458.5L437.5 453.5L434.5 446.5L434.5 440.5L436.5 433.5L440.5 425.5ZM489.5 394.5L492.5 395.5L497.5 403.5L506.5 406.5L513.5 410.5L522.5 420.5L529.5 431.5L548.5 449.5L561.5 454.5L567.5 461.5L568.5 465.5L577.5 473.5L578.5 478.5L563.5 492.5L558.5 494.5L549.5 494.5L548.5 493.5L535.5 492.5L524.5 488.5L517.5 481.5L508.5 465.5L503.5 451.5L499.5 445.5L490.5 436.5L485.5 428.5L485.5 423.5L484.5 421.5L485.5 420.5L487.5 398.5ZM449.5 317.5L452.5 320.5L453.5 323.5L452.5 325.5L452.5 330.5L450.5 336.5L445.5 341.5L442.5 341.5L436.5 338.5L433.5 335.5L433.5 332.5L443.5 319.5L446.5 317.5ZM323.5 135.5L320.5 136.5L313.5 147.5L313.5 158.5L311.5 163.5L297.5 178.5L297.5 180.5L295.5 183.5L294.5 194.5L293.5 195.5L293.5 212.5L294.5 213.5L296.5 213.5L302.5 207.5L308.5 204.5L314.5 203.5L322.5 199.5L335.5 188.5L338.5 182.5L338.5 179.5L339.5 178.5L339.5 167.5L338.5 166.5L338.5 163.5L330.5 143.5Z" fill="#ffc800"/><path d="M676.5 155.5L669.5 154.5L665.5 152.5L642.5 151.5L639.5 153.5L632.5 154.5L623.5 159.5L615.5 167.5L609.5 175.5L602.5 179.5L598.5 185.5L592.5 197.5L591.5 206.5L588.5 212.5L588.5 214.5L581.5 225.5L571.5 233.5L560.5 238.5L550.5 239.5L549.5 240.5L542.5 240.5L541.5 239.5L526.5 238.5L525.5 237.5L511.5 238.5L506.5 240.5L486.5 240.5L479.5 238.5L463.5 238.5L439.5 245.5L434.5 250.5L432.5 254.5L432.5 261.5L437.5 271.5L438.5 277.5L430.5 286.5L425.5 289.5L413.5 301.5L411.5 304.5L410.5 309.5L414.5 312.5L419.5 313.5L423.5 317.5L425.5 322.5L427.5 324.5L430.5 324.5L435.5 316.5L438.5 307.5L449.5 292.5L452.5 281.5L458.5 278.5L462.5 278.5L465.5 279.5L469.5 283.5L469.5 298.5L468.5 299.5L468.5 302.5L461.5 315.5L460.5 320.5L458.5 323.5L457.5 329.5L455.5 332.5L454.5 341.5L451.5 347.5L447.5 351.5L442.5 351.5L427.5 346.5L415.5 347.5L410.5 345.5L402.5 345.5L399.5 347.5L380.5 347.5L379.5 348.5L368.5 349.5L363.5 351.5L355.5 351.5L349.5 347.5L347.5 343.5L347.5 338.5L352.5 324.5L352.5 320.5L354.5 315.5L354.5 306.5L352.5 300.5L347.5 294.5L347.5 291.5L351.5 287.5L354.5 282.5L359.5 280.5L361.5 278.5L365.5 277.5L374.5 270.5L376.5 267.5L376.5 264.5L373.5 261.5L368.5 261.5L359.5 265.5L354.5 266.5L349.5 269.5L339.5 272.5L333.5 272.5L322.5 268.5L319.5 268.5L312.5 274.5L299.5 277.5L289.5 281.5L282.5 281.5L281.5 282.5L268.5 282.5L256.5 277.5L255.5 279.5L245.5 279.5L244.5 278.5L245.5 276.5L251.5 276.5L252.5 275.5L242.5 275.5L241.5 276.5L235.5 276.5L232.5 278.5L228.5 278.5L224.5 282.5L224.5 292.5L221.5 298.5L216.5 305.5L202.5 318.5L202.5 320.5L200.5 322.5L200.5 325.5L206.5 331.5L210.5 331.5L213.5 333.5L220.5 333.5L223.5 335.5L232.5 337.5L238.5 341.5L241.5 341.5L247.5 346.5L248.5 348.5L248.5 354.5L243.5 360.5L230.5 366.5L228.5 366.5L218.5 372.5L216.5 372.5L213.5 375.5L197.5 385.5L156.5 425.5L149.5 440.5L143.5 447.5L136.5 451.5L124.5 452.5L124.5 563.5L676.5 563.5L676.5 490.5L669.5 494.5L666.5 494.5L665.5 495.5L664.5 494.5L661.5 494.5L656.5 489.5L648.5 476.5L648.5 471.5L651.5 469.5L664.5 475.5L676.5 485.5L676.5 429.5L668.5 422.5L668.5 419.5L666.5 415.5L667.5 411.5L672.5 407.5L676.5 408.5ZM592.5 491.5L592.5 489.5L599.5 484.5L602.5 484.5L609.5 489.5L609.5 490.5L604.5 494.5L596.5 494.5ZM496.5 468.5L497.5 467.5L501.5 468.5L504.5 472.5L504.5 474.5L502.5 476.5L500.5 475.5L496.5 471.5ZM621.5 439.5L622.5 438.5L627.5 438.5L633.5 443.5L633.5 445.5L632.5 446.5L629.5 446.5L625.5 444.5ZM560.5 430.5L563.5 428.5L568.5 428.5L574.5 430.5L581.5 434.5L588.5 442.5L592.5 444.5L603.5 445.5L609.5 447.5L622.5 454.5L631.5 466.5L640.5 475.5L648.5 488.5L648.5 493.5L645.5 496.5L642.5 496.5L637.5 494.5L630.5 488.5L627.5 480.5L620.5 475.5L603.5 472.5L586.5 465.5L582.5 465.5L575.5 463.5L573.5 461.5L572.5 454.5L568.5 445.5L560.5 436.5L559.5 433.5ZM566.5 416.5L567.5 415.5L571.5 415.5L576.5 418.5L579.5 422.5L578.5 423.5L574.5 423.5L570.5 421.5ZM450.5 396.5L452.5 397.5L455.5 405.5L454.5 423.5L457.5 430.5L457.5 438.5L464.5 459.5L479.5 473.5L483.5 481.5L484.5 489.5L479.5 495.5L476.5 496.5L472.5 495.5L467.5 492.5L461.5 486.5L457.5 479.5L448.5 470.5L438.5 464.5L429.5 455.5L427.5 451.5L427.5 441.5L430.5 435.5L435.5 419.5L438.5 414.5L438.5 412.5ZM502.5 383.5L505.5 383.5L508.5 386.5L508.5 390.5L506.5 392.5L503.5 392.5L501.5 389.5L501.5 384.5ZM489.5 382.5L494.5 386.5L499.5 399.5L502.5 402.5L508.5 402.5L510.5 403.5L524.5 419.5L533.5 432.5L546.5 445.5L550.5 448.5L556.5 449.5L563.5 452.5L567.5 456.5L570.5 465.5L573.5 468.5L577.5 469.5L587.5 476.5L584.5 480.5L576.5 484.5L569.5 490.5L567.5 495.5L563.5 498.5L560.5 498.5L559.5 499.5L549.5 499.5L548.5 498.5L539.5 497.5L527.5 493.5L521.5 489.5L514.5 479.5L501.5 451.5L498.5 448.5L497.5 445.5L486.5 434.5L481.5 425.5L481.5 403.5L482.5 402.5L482.5 395.5L485.5 386.5ZM466.5 378.5L475.5 378.5L479.5 382.5L478.5 398.5L472.5 415.5L472.5 421.5L477.5 432.5L489.5 445.5L491.5 449.5L491.5 458.5L488.5 460.5L479.5 457.5L476.5 457.5L469.5 454.5L463.5 447.5L460.5 440.5L460.5 426.5L459.5 425.5L460.5 416.5L459.5 415.5L458.5 402.5L456.5 398.5L456.5 393.5L457.5 392.5L458.5 385.5ZM409.5 354.5L409.5 357.5L406.5 360.5L403.5 361.5L394.5 361.5L385.5 356.5L385.5 353.5L387.5 351.5L390.5 351.5L391.5 350.5L403.5 350.5L404.5 349.5L406.5 350.5ZM468.5 323.5L469.5 324.5L468.5 336.5L466.5 340.5L462.5 343.5L460.5 341.5L459.5 334.5L462.5 327.5L466.5 323.5ZM353.5 275.5L354.5 278.5L348.5 283.5L346.5 281.5L347.5 278.5ZM326.5 143.5L319.5 142.5L314.5 146.5L314.5 158.5L311.5 165.5L298.5 178.5L298.5 180.5L296.5 182.5L296.5 187.5L294.5 190.5L294.5 212.5L295.5 213.5L303.5 205.5L317.5 200.5L325.5 192.5L329.5 190.5L333.5 186.5L335.5 180.5L335.5 165.5L331.5 154.5L330.5 146.5Z" fill="#ffba00"/><path d="M512.5 477.5L512.5 479.5ZM510.5 473.5L510.5 474.5ZM508.5 469.5L508.5 470.5ZM573.5 466.5L576.5 467.5L576.5 466.5ZM506.5 465.5L506.5 466.5ZM631.5 461.5L635.5 465.5L637.5 465.5L638.5 467.5L642.5 470.5L642.5 472.5L644.5 474.5L646.5 480.5L647.5 480.5L641.5 468.5L637.5 464.5L634.5 464.5L633.5 462.5ZM571.5 461.5L571.5 464.5ZM504.5 461.5L504.5 462.5ZM500.5 453.5L500.5 455.5L502.5 456.5L502.5 459.5L502.5 456.5ZM498.5 451.5ZM619.5 450.5L620.5 450.5ZM463.5 450.5ZM615.5 448.5L616.5 448.5ZM496.5 447.5L496.5 449.5ZM623.5 446.5L623.5 447.5L624.5 447.5L624.5 446.5ZM494.5 445.5ZM458.5 429.5ZM457.5 411.5L456.5 414.5L457.5 426.5ZM478.5 403.5L478.5 413.5L476.5 415.5L476.5 421.5L478.5 423.5L478.5 428.5L484.5 434.5L479.5 429.5L479.5 423.5L477.5 421.5L477.5 414.5L479.5 412.5L479.5 403.5ZM456.5 403.5ZM455.5 400.5ZM480.5 395.5L480.5 400.5ZM481.5 393.5ZM498.5 391.5L499.5 394.5L499.5 391.5ZM459.5 327.5L458.5 330.5ZM446.5 288.5L434.5 288.5L432.5 290.5L430.5 290.5L422.5 296.5L421.5 298.5L419.5 298.5L413.5 304.5L413.5 306.5L411.5 308.5L414.5 310.5L422.5 311.5L426.5 315.5L426.5 318.5L428.5 320.5L428.5 322.5L429.5 322.5L429.5 319.5L431.5 316.5L431.5 311.5L430.5 310.5L431.5 305.5L435.5 299.5L444.5 291.5ZM414.5 308.5L414.5 305.5L419.5 301.5L423.5 301.5L425.5 303.5L425.5 306.5L421.5 309.5L415.5 309.5ZM350.5 285.5L349.5 286.5L350.5 286.5ZM355.5 280.5L356.5 280.5ZM235.5 277.5L240.5 277.5ZM676.5 157.5L673.5 155.5L667.5 155.5L665.5 153.5L642.5 153.5L638.5 155.5L632.5 155.5L629.5 158.5L626.5 159.5L622.5 164.5L618.5 167.5L614.5 175.5L611.5 178.5L602.5 181.5L597.5 188.5L593.5 198.5L594.5 210.5L592.5 212.5L592.5 215.5L590.5 218.5L588.5 231.5L582.5 238.5L578.5 240.5L568.5 241.5L564.5 243.5L540.5 242.5L534.5 240.5L511.5 240.5L509.5 242.5L495.5 242.5L492.5 244.5L487.5 244.5L484.5 242.5L454.5 242.5L451.5 244.5L441.5 246.5L436.5 253.5L436.5 261.5L440.5 265.5L442.5 266.5L448.5 266.5L449.5 267.5L451.5 266.5L456.5 266.5L457.5 265.5L472.5 265.5L476.5 267.5L480.5 272.5L480.5 277.5L477.5 283.5L477.5 285.5L472.5 291.5L472.5 299.5L470.5 301.5L470.5 305.5L468.5 307.5L468.5 309.5L466.5 311.5L466.5 313.5L464.5 315.5L464.5 317.5L462.5 319.5L462.5 321.5L460.5 324.5L461.5 324.5L461.5 322.5L463.5 320.5L463.5 318.5L465.5 316.5L465.5 314.5L471.5 304.5L471.5 300.5L473.5 298.5L473.5 292.5L474.5 290.5L478.5 287.5L481.5 287.5L484.5 291.5L484.5 302.5L476.5 320.5L468.5 349.5L464.5 356.5L461.5 358.5L456.5 354.5L455.5 351.5L455.5 344.5L457.5 342.5L457.5 333.5L457.5 340.5L454.5 345.5L454.5 354.5L452.5 358.5L449.5 360.5L445.5 359.5L437.5 354.5L433.5 354.5L429.5 352.5L417.5 352.5L415.5 350.5L412.5 350.5L409.5 347.5L403.5 347.5L409.5 347.5L411.5 351.5L413.5 351.5L416.5 353.5L417.5 357.5L412.5 362.5L404.5 365.5L393.5 364.5L382.5 359.5L377.5 353.5L382.5 349.5L387.5 349.5L375.5 350.5L373.5 352.5L369.5 352.5L359.5 357.5L348.5 357.5L343.5 355.5L339.5 350.5L340.5 343.5L343.5 339.5L347.5 328.5L349.5 326.5L350.5 319.5L352.5 315.5L352.5 306.5L350.5 300.5L347.5 300.5L343.5 294.5L346.5 288.5L343.5 286.5L341.5 278.5L345.5 273.5L348.5 273.5L350.5 271.5L353.5 271.5L356.5 269.5L363.5 268.5L365.5 266.5L371.5 264.5L373.5 265.5L373.5 267.5L369.5 271.5L365.5 272.5L362.5 276.5L360.5 276.5L363.5 276.5L366.5 273.5L368.5 273.5L374.5 267.5L374.5 264.5L373.5 263.5L365.5 264.5L359.5 268.5L355.5 268.5L353.5 270.5L351.5 270.5L349.5 272.5L345.5 272.5L343.5 274.5L331.5 274.5L320.5 269.5L315.5 276.5L310.5 276.5L282.5 284.5L270.5 284.5L265.5 281.5L262.5 281.5L260.5 279.5L258.5 279.5L256.5 281.5L245.5 281.5L244.5 282.5L235.5 282.5L233.5 279.5L229.5 279.5L229.5 280.5L225.5 283.5L226.5 293.5L223.5 299.5L214.5 309.5L212.5 309.5L203.5 319.5L203.5 321.5L201.5 324.5L207.5 330.5L211.5 330.5L213.5 332.5L220.5 332.5L222.5 334.5L226.5 334.5L228.5 336.5L232.5 336.5L234.5 338.5L237.5 338.5L239.5 340.5L242.5 340.5L248.5 344.5L251.5 347.5L251.5 359.5L247.5 362.5L242.5 362.5L237.5 365.5L234.5 365.5L232.5 367.5L229.5 367.5L219.5 373.5L217.5 373.5L210.5 379.5L208.5 379.5L202.5 385.5L199.5 386.5L191.5 394.5L188.5 395.5L157.5 426.5L149.5 450.5L143.5 457.5L124.5 460.5L124.5 563.5L676.5 563.5L676.5 506.5L671.5 506.5L670.5 507.5L663.5 507.5L658.5 503.5L657.5 498.5L653.5 493.5L653.5 489.5L651.5 487.5L651.5 485.5L650.5 485.5L650.5 486.5L652.5 488.5L652.5 492.5L654.5 494.5L654.5 497.5L655.5 498.5L655.5 502.5L651.5 505.5L643.5 504.5L635.5 500.5L623.5 496.5L620.5 496.5L607.5 500.5L602.5 500.5L601.5 501.5L589.5 500.5L582.5 498.5L577.5 494.5L576.5 490.5L581.5 486.5L585.5 485.5L587.5 483.5L594.5 483.5L596.5 481.5L605.5 481.5L607.5 483.5L622.5 483.5L621.5 480.5L618.5 478.5L614.5 478.5L612.5 476.5L608.5 476.5L605.5 474.5L600.5 474.5L598.5 472.5L592.5 472.5L590.5 470.5L584.5 470.5L582.5 468.5L579.5 468.5L580.5 469.5L583.5 469.5L585.5 471.5L591.5 471.5L593.5 473.5L599.5 473.5L601.5 475.5L607.5 475.5L608.5 477.5L612.5 477.5L614.5 480.5L612.5 482.5L606.5 482.5L604.5 480.5L597.5 480.5L595.5 482.5L587.5 482.5L585.5 484.5L581.5 484.5L579.5 486.5L577.5 486.5L573.5 490.5L571.5 490.5L571.5 492.5L573.5 495.5L573.5 498.5L569.5 502.5L562.5 504.5L549.5 504.5L545.5 502.5L540.5 502.5L537.5 500.5L535.5 500.5L533.5 498.5L531.5 498.5L528.5 496.5L525.5 496.5L519.5 491.5L519.5 489.5L514.5 481.5L514.5 487.5L512.5 489.5L509.5 490.5L496.5 490.5L494.5 489.5L485.5 476.5L483.5 470.5L474.5 462.5L473.5 460.5L470.5 460.5L469.5 458.5L465.5 455.5L465.5 453.5L464.5 453.5L471.5 461.5L473.5 461.5L474.5 463.5L482.5 470.5L482.5 472.5L488.5 482.5L488.5 485.5L490.5 487.5L489.5 496.5L483.5 501.5L478.5 503.5L475.5 503.5L468.5 498.5L467.5 496.5L457.5 487.5L457.5 485.5L447.5 476.5L442.5 474.5L434.5 468.5L423.5 462.5L417.5 457.5L414.5 452.5L414.5 447.5L415.5 445.5L425.5 435.5L425.5 433.5L427.5 431.5L427.5 425.5L430.5 418.5L433.5 415.5L433.5 413.5L444.5 401.5L444.5 400.5L443.5 401.5L441.5 400.5L441.5 389.5L443.5 384.5L446.5 383.5L448.5 385.5L448.5 393.5L446.5 395.5L446.5 398.5L447.5 394.5L449.5 392.5L449.5 384.5L451.5 378.5L453.5 380.5L453.5 383.5L454.5 384.5L454.5 395.5L455.5 381.5L457.5 379.5L459.5 370.5L463.5 366.5L466.5 365.5L474.5 368.5L477.5 368.5L484.5 373.5L484.5 383.5L482.5 385.5L482.5 390.5L483.5 384.5L485.5 382.5L485.5 377.5L488.5 374.5L491.5 374.5L494.5 377.5L494.5 382.5L496.5 384.5L497.5 388.5L497.5 385.5L495.5 383.5L495.5 376.5L499.5 373.5L504.5 374.5L511.5 378.5L515.5 382.5L519.5 389.5L520.5 398.5L518.5 400.5L515.5 400.5L508.5 397.5L506.5 397.5L503.5 399.5L500.5 397.5L502.5 400.5L504.5 399.5L510.5 399.5L513.5 401.5L514.5 403.5L516.5 404.5L516.5 406.5L520.5 410.5L520.5 412.5L534.5 428.5L534.5 430.5L550.5 446.5L563.5 449.5L568.5 454.5L569.5 458.5L569.5 455.5L563.5 448.5L560.5 448.5L555.5 445.5L552.5 445.5L545.5 438.5L540.5 430.5L538.5 422.5L543.5 418.5L551.5 418.5L563.5 423.5L567.5 423.5L573.5 427.5L577.5 427.5L579.5 429.5L583.5 429.5L594.5 437.5L602.5 439.5L609.5 445.5L613.5 446.5L612.5 446.5L610.5 443.5L612.5 441.5L615.5 441.5L620.5 444.5L618.5 442.5L616.5 442.5L614.5 440.5L612.5 440.5L609.5 438.5L608.5 435.5L612.5 432.5L622.5 432.5L634.5 437.5L643.5 445.5L644.5 451.5L640.5 454.5L637.5 452.5L634.5 452.5L628.5 448.5L627.5 448.5L627.5 449.5L629.5 449.5L631.5 451.5L637.5 453.5L640.5 457.5L647.5 460.5L650.5 463.5L676.5 475.5L676.5 438.5L673.5 436.5L673.5 429.5L671.5 427.5L670.5 427.5L670.5 430.5L669.5 431.5L667.5 429.5L668.5 424.5L666.5 422.5L666.5 418.5L664.5 416.5L664.5 413.5L665.5 412.5L664.5 410.5L664.5 405.5L665.5 403.5L668.5 401.5L676.5 404.5ZM455.5 490.5L456.5 489.5L458.5 490.5L462.5 495.5L459.5 496.5L455.5 492.5ZM551.5 410.5L554.5 406.5L560.5 406.5L564.5 409.5L569.5 409.5L573.5 413.5L575.5 413.5L579.5 417.5L581.5 417.5L591.5 426.5L592.5 429.5L590.5 431.5L584.5 430.5L582.5 428.5L578.5 428.5L576.5 426.5L572.5 426.5L566.5 422.5L562.5 422.5L561.5 420.5L559.5 420.5L553.5 415.5ZM564.5 403.5L568.5 400.5L578.5 400.5L586.5 404.5L594.5 413.5L596.5 418.5L596.5 423.5L593.5 425.5L589.5 422.5L586.5 422.5L585.5 420.5L580.5 416.5L578.5 416.5L574.5 412.5L572.5 412.5L569.5 408.5L565.5 407.5L564.5 406.5ZM327.5 146.5L323.5 146.5L320.5 144.5L315.5 147.5L315.5 160.5L313.5 162.5L312.5 167.5L308.5 169.5L307.5 171.5L301.5 176.5L297.5 182.5L297.5 188.5L295.5 190.5L295.5 211.5L301.5 204.5L305.5 202.5L309.5 202.5L315.5 199.5L321.5 190.5L331.5 186.5L331.5 161.5L329.5 158.5L329.5 151.5Z" fill="#ffac00"/><path d="M676.5 515.5L669.5 517.5L664.5 523.5L664.5 527.5L663.5 528.5L663.5 552.5L664.5 553.5L665.5 563.5L676.5 563.5ZM651.5 448.5L650.5 450.5L650.5 456.5L655.5 462.5L666.5 467.5L676.5 468.5L676.5 449.5L674.5 449.5L671.5 447.5L667.5 447.5L663.5 445.5L656.5 445.5ZM124.5 470.5L128.5 476.5L126.5 478.5L124.5 478.5L124.5 563.5L658.5 563.5L657.5 533.5L655.5 528.5L654.5 520.5L652.5 516.5L647.5 511.5L632.5 504.5L625.5 502.5L617.5 502.5L616.5 503.5L604.5 504.5L603.5 505.5L580.5 505.5L567.5 509.5L546.5 509.5L515.5 499.5L501.5 499.5L492.5 502.5L482.5 507.5L472.5 508.5L467.5 506.5L459.5 505.5L452.5 501.5L443.5 490.5L437.5 479.5L429.5 471.5L420.5 465.5L414.5 462.5L412.5 462.5L410.5 460.5L408.5 460.5L406.5 458.5L404.5 458.5L401.5 456.5L398.5 456.5L394.5 454.5L386.5 453.5L385.5 452.5L375.5 452.5L368.5 445.5L365.5 440.5L366.5 434.5L371.5 429.5L373.5 429.5L375.5 427.5L381.5 427.5L390.5 433.5L399.5 434.5L400.5 435.5L410.5 435.5L417.5 432.5L422.5 427.5L426.5 419.5L438.5 404.5L438.5 401.5L439.5 400.5L439.5 377.5L438.5 376.5L438.5 372.5L435.5 367.5L427.5 363.5L423.5 363.5L410.5 367.5L396.5 367.5L371.5 357.5L364.5 358.5L360.5 360.5L338.5 360.5L333.5 355.5L333.5 348.5L339.5 338.5L339.5 336.5L343.5 328.5L347.5 314.5L347.5 306.5L341.5 297.5L341.5 289.5L339.5 282.5L337.5 279.5L335.5 279.5L333.5 277.5L326.5 274.5L321.5 274.5L316.5 278.5L307.5 278.5L306.5 279.5L298.5 280.5L295.5 282.5L292.5 282.5L290.5 284.5L285.5 284.5L282.5 286.5L268.5 286.5L261.5 283.5L244.5 283.5L231.5 287.5L229.5 289.5L228.5 295.5L226.5 297.5L226.5 299.5L219.5 307.5L210.5 315.5L209.5 318.5L209.5 323.5L210.5 325.5L214.5 329.5L233.5 336.5L235.5 338.5L238.5 338.5L240.5 340.5L242.5 340.5L244.5 342.5L246.5 342.5L248.5 344.5L254.5 346.5L255.5 347.5L254.5 348.5L254.5 353.5L257.5 356.5L260.5 356.5L263.5 351.5L264.5 352.5L267.5 352.5L269.5 354.5L271.5 354.5L275.5 357.5L275.5 359.5L272.5 360.5L271.5 362.5L264.5 368.5L257.5 368.5L256.5 367.5L249.5 367.5L248.5 366.5L236.5 368.5L213.5 378.5L200.5 388.5L198.5 388.5L190.5 396.5L186.5 398.5L158.5 426.5L158.5 428.5L156.5 430.5L156.5 434.5L154.5 438.5L154.5 445.5L152.5 448.5L153.5 456.5L155.5 458.5L158.5 458.5L168.5 452.5L169.5 453.5L169.5 457.5L167.5 460.5L167.5 463.5L163.5 467.5L157.5 466.5L156.5 469.5L152.5 473.5L149.5 473.5L147.5 475.5L144.5 475.5L143.5 474.5L144.5 471.5L143.5 469.5L139.5 466.5L132.5 466.5ZM375.5 477.5L377.5 477.5L380.5 479.5L384.5 484.5L384.5 490.5L385.5 491.5L384.5 503.5L382.5 506.5L382.5 508.5L380.5 510.5L368.5 496.5L369.5 484.5L371.5 480.5ZM261.5 351.5L262.5 350.5L263.5 351.5L262.5 352.5ZM608.5 182.5L604.5 182.5L601.5 184.5L598.5 188.5L595.5 195.5L596.5 203.5L599.5 206.5L605.5 207.5L608.5 204.5L608.5 199.5L609.5 198.5L609.5 183.5ZM323.5 158.5L319.5 158.5L314.5 165.5L314.5 169.5L309.5 171.5L303.5 179.5L297.5 193.5L297.5 198.5L299.5 201.5L301.5 201.5L304.5 199.5L313.5 189.5L324.5 185.5L328.5 181.5L328.5 175.5L329.5 174.5L328.5 164.5ZM665.5 154.5L643.5 154.5L640.5 156.5L635.5 156.5L633.5 158.5L627.5 160.5L624.5 163.5L622.5 167.5L618.5 171.5L618.5 173.5L614.5 179.5L614.5 185.5L612.5 187.5L612.5 199.5L614.5 202.5L614.5 206.5L617.5 210.5L617.5 217.5L616.5 218.5L612.5 218.5L609.5 220.5L603.5 220.5L599.5 222.5L595.5 228.5L593.5 237.5L586.5 243.5L579.5 246.5L568.5 247.5L562.5 249.5L532.5 250.5L520.5 254.5L515.5 259.5L512.5 266.5L506.5 272.5L502.5 274.5L494.5 281.5L491.5 287.5L491.5 291.5L490.5 292.5L487.5 306.5L477.5 327.5L472.5 344.5L472.5 352.5L474.5 357.5L477.5 360.5L483.5 363.5L489.5 363.5L511.5 371.5L524.5 381.5L533.5 390.5L542.5 394.5L569.5 394.5L570.5 395.5L575.5 395.5L581.5 397.5L589.5 402.5L594.5 407.5L599.5 414.5L601.5 419.5L606.5 425.5L610.5 427.5L618.5 428.5L628.5 431.5L644.5 440.5L648.5 440.5L654.5 437.5L658.5 437.5L663.5 434.5L664.5 432.5L663.5 411.5L661.5 408.5L661.5 401.5L659.5 399.5L659.5 394.5L664.5 389.5L665.5 387.5L665.5 380.5L667.5 374.5L671.5 366.5L676.5 361.5L676.5 158.5L673.5 156.5L668.5 156.5Z" fill="#ffa200"/><path d="M676.5 522.5L673.5 522.5L668.5 526.5L665.5 534.5L665.5 547.5L670.5 560.5L670.5 563.5L676.5 563.5ZM656.5 450.5L655.5 452.5L655.5 457.5L659.5 461.5L663.5 463.5L673.5 463.5L676.5 462.5L676.5 453.5L674.5 453.5L666.5 449.5L658.5 449.5ZM124.5 479.5L124.5 563.5L654.5 563.5L654.5 539.5L653.5 538.5L653.5 533.5L651.5 526.5L645.5 516.5L641.5 513.5L627.5 507.5L618.5 506.5L617.5 507.5L609.5 507.5L608.5 508.5L594.5 509.5L593.5 510.5L584.5 510.5L583.5 511.5L574.5 512.5L569.5 514.5L563.5 514.5L562.5 515.5L547.5 515.5L546.5 514.5L541.5 514.5L529.5 510.5L526.5 510.5L522.5 508.5L513.5 507.5L512.5 506.5L501.5 506.5L500.5 507.5L496.5 507.5L482.5 511.5L464.5 511.5L457.5 509.5L444.5 509.5L438.5 507.5L433.5 501.5L433.5 485.5L429.5 477.5L419.5 467.5L413.5 463.5L399.5 457.5L391.5 456.5L390.5 455.5L383.5 455.5L376.5 460.5L373.5 466.5L373.5 468.5L371.5 470.5L367.5 465.5L368.5 448.5L365.5 443.5L365.5 434.5L371.5 428.5L375.5 426.5L382.5 426.5L394.5 430.5L406.5 430.5L415.5 427.5L421.5 422.5L436.5 405.5L437.5 396.5L438.5 395.5L437.5 386.5L433.5 375.5L430.5 372.5L423.5 369.5L413.5 369.5L412.5 370.5L396.5 369.5L376.5 361.5L372.5 361.5L371.5 360.5L366.5 360.5L360.5 362.5L341.5 362.5L340.5 361.5L337.5 361.5L331.5 354.5L331.5 348.5L343.5 319.5L344.5 308.5L343.5 307.5L343.5 304.5L339.5 297.5L339.5 291.5L336.5 282.5L331.5 278.5L326.5 276.5L322.5 276.5L317.5 279.5L300.5 280.5L297.5 282.5L282.5 287.5L266.5 287.5L265.5 286.5L250.5 284.5L249.5 285.5L241.5 286.5L231.5 291.5L224.5 304.5L213.5 315.5L211.5 321.5L213.5 326.5L224.5 333.5L227.5 333.5L229.5 335.5L233.5 335.5L235.5 337.5L238.5 337.5L240.5 339.5L242.5 339.5L244.5 341.5L246.5 341.5L248.5 343.5L254.5 345.5L256.5 347.5L255.5 350.5L257.5 352.5L260.5 352.5L262.5 350.5L266.5 351.5L268.5 353.5L274.5 355.5L276.5 357.5L276.5 359.5L273.5 363.5L265.5 370.5L262.5 371.5L257.5 371.5L256.5 370.5L240.5 370.5L239.5 371.5L236.5 371.5L233.5 373.5L217.5 378.5L209.5 382.5L196.5 391.5L181.5 404.5L160.5 425.5L157.5 430.5L156.5 438.5L155.5 439.5L155.5 445.5L154.5 446.5L154.5 452.5L156.5 455.5L159.5 456.5L164.5 453.5L166.5 453.5L168.5 451.5L170.5 453.5L170.5 457.5L168.5 459.5L168.5 462.5L166.5 465.5L162.5 468.5L157.5 468.5L152.5 474.5L148.5 474.5L146.5 476.5L144.5 476.5L142.5 473.5L139.5 471.5L134.5 471.5L130.5 474.5L128.5 478.5ZM372.5 474.5L375.5 474.5L383.5 480.5L385.5 486.5L385.5 490.5L386.5 491.5L385.5 505.5L381.5 511.5L378.5 511.5L372.5 507.5L366.5 501.5L364.5 496.5L365.5 495.5L368.5 480.5ZM606.5 185.5L603.5 185.5L598.5 191.5L597.5 198.5L600.5 201.5L604.5 201.5L606.5 199.5L607.5 196.5L607.5 187.5ZM323.5 164.5L317.5 165.5L315.5 170.5L311.5 173.5L309.5 177.5L308.5 185.5L304.5 189.5L303.5 194.5L306.5 192.5L307.5 189.5L311.5 185.5L320.5 183.5L325.5 179.5L326.5 177.5L326.5 169.5ZM662.5 154.5L644.5 155.5L640.5 157.5L636.5 157.5L628.5 161.5L621.5 169.5L616.5 178.5L615.5 185.5L613.5 190.5L615.5 205.5L618.5 210.5L618.5 217.5L604.5 225.5L600.5 230.5L595.5 240.5L591.5 244.5L580.5 250.5L577.5 250.5L568.5 253.5L564.5 253.5L563.5 254.5L544.5 256.5L530.5 260.5L519.5 267.5L509.5 276.5L497.5 289.5L493.5 300.5L490.5 305.5L490.5 307.5L482.5 322.5L482.5 324.5L479.5 329.5L475.5 340.5L475.5 349.5L478.5 354.5L482.5 357.5L503.5 362.5L514.5 366.5L538.5 381.5L547.5 385.5L571.5 390.5L582.5 394.5L588.5 398.5L599.5 409.5L604.5 417.5L609.5 422.5L615.5 425.5L631.5 430.5L645.5 437.5L650.5 437.5L651.5 436.5L658.5 435.5L660.5 434.5L663.5 430.5L663.5 419.5L662.5 418.5L662.5 413.5L660.5 408.5L660.5 403.5L658.5 399.5L658.5 394.5L662.5 387.5L663.5 380.5L668.5 368.5L670.5 365.5L676.5 360.5L676.5 159.5L670.5 156.5L666.5 156.5Z" fill="#ff9900"/><path d="M674.5 526.5L670.5 529.5L667.5 535.5L667.5 546.5L670.5 552.5L676.5 557.5L676.5 526.5ZM124.5 480.5L124.5 563.5L651.5 563.5L651.5 543.5L650.5 542.5L650.5 536.5L648.5 529.5L643.5 520.5L637.5 515.5L631.5 512.5L624.5 511.5L623.5 510.5L613.5 510.5L612.5 511.5L606.5 511.5L605.5 512.5L600.5 512.5L594.5 514.5L589.5 514.5L588.5 515.5L585.5 515.5L572.5 519.5L563.5 520.5L562.5 521.5L543.5 521.5L542.5 520.5L534.5 519.5L527.5 516.5L524.5 516.5L515.5 513.5L509.5 513.5L508.5 512.5L499.5 512.5L498.5 513.5L491.5 513.5L490.5 514.5L484.5 514.5L483.5 515.5L442.5 514.5L435.5 511.5L430.5 506.5L428.5 501.5L428.5 485.5L425.5 478.5L422.5 474.5L412.5 464.5L398.5 458.5L386.5 457.5L381.5 459.5L377.5 463.5L376.5 465.5L376.5 471.5L385.5 482.5L385.5 486.5L387.5 491.5L387.5 503.5L385.5 509.5L381.5 513.5L376.5 513.5L369.5 509.5L363.5 502.5L362.5 499.5L362.5 495.5L365.5 490.5L365.5 484.5L367.5 477.5L367.5 472.5L365.5 466.5L365.5 453.5L366.5 452.5L365.5 444.5L364.5 443.5L364.5 435.5L365.5 433.5L371.5 427.5L376.5 425.5L402.5 426.5L415.5 422.5L427.5 413.5L434.5 406.5L436.5 402.5L437.5 393.5L434.5 383.5L428.5 376.5L421.5 373.5L412.5 373.5L411.5 372.5L397.5 371.5L383.5 365.5L376.5 364.5L375.5 363.5L360.5 363.5L359.5 364.5L338.5 363.5L331.5 358.5L329.5 354.5L329.5 347.5L334.5 333.5L339.5 324.5L341.5 318.5L341.5 306.5L337.5 296.5L336.5 287.5L334.5 283.5L327.5 278.5L322.5 278.5L317.5 280.5L299.5 281.5L283.5 288.5L264.5 289.5L263.5 288.5L250.5 286.5L249.5 287.5L245.5 287.5L235.5 292.5L230.5 297.5L226.5 305.5L214.5 317.5L213.5 320.5L214.5 325.5L217.5 328.5L224.5 332.5L226.5 332.5L229.5 334.5L232.5 334.5L235.5 337.5L239.5 337.5L240.5 339.5L243.5 339.5L244.5 341.5L247.5 341.5L248.5 343.5L251.5 343.5L252.5 345.5L255.5 345.5L256.5 346.5L256.5 349.5L258.5 351.5L263.5 349.5L264.5 351.5L267.5 351.5L269.5 353.5L275.5 355.5L276.5 356.5L276.5 362.5L269.5 371.5L265.5 373.5L261.5 373.5L260.5 374.5L257.5 373.5L239.5 373.5L238.5 374.5L235.5 374.5L214.5 381.5L199.5 390.5L181.5 405.5L162.5 424.5L158.5 430.5L157.5 437.5L156.5 438.5L155.5 449.5L158.5 454.5L162.5 454.5L167.5 451.5L170.5 452.5L171.5 456.5L168.5 461.5L168.5 463.5L163.5 468.5L159.5 468.5L157.5 469.5L155.5 472.5L152.5 474.5L149.5 474.5L147.5 476.5L142.5 476.5L139.5 474.5L133.5 475.5L127.5 480.5ZM410.5 526.5L414.5 526.5L418.5 531.5L418.5 536.5L416.5 538.5L412.5 538.5L408.5 533.5L408.5 528.5ZM604.5 190.5L601.5 191.5L601.5 195.5L604.5 194.5ZM320.5 172.5L317.5 174.5L318.5 176.5L320.5 175.5ZM663.5 155.5L644.5 156.5L640.5 158.5L636.5 158.5L627.5 163.5L621.5 171.5L617.5 179.5L617.5 182.5L615.5 187.5L615.5 198.5L616.5 199.5L616.5 204.5L618.5 209.5L618.5 217.5L606.5 229.5L600.5 240.5L591.5 249.5L582.5 254.5L535.5 266.5L527.5 270.5L512.5 281.5L502.5 291.5L498.5 297.5L477.5 339.5L477.5 347.5L480.5 351.5L486.5 354.5L505.5 357.5L518.5 361.5L556.5 380.5L570.5 385.5L584.5 392.5L592.5 398.5L612.5 420.5L617.5 423.5L624.5 425.5L642.5 434.5L645.5 434.5L646.5 435.5L656.5 434.5L662.5 430.5L662.5 418.5L659.5 408.5L659.5 403.5L657.5 399.5L657.5 393.5L665.5 370.5L668.5 365.5L672.5 361.5L676.5 359.5L676.5 160.5L670.5 157.5L666.5 157.5Z" fill="#ff9000"/><path d="M675.5 529.5L671.5 532.5L669.5 536.5L669.5 545.5L671.5 549.5L676.5 552.5L676.5 529.5ZM124.5 481.5L124.5 563.5L648.5 563.5L648.5 545.5L647.5 544.5L647.5 538.5L645.5 531.5L638.5 520.5L634.5 517.5L626.5 514.5L617.5 513.5L616.5 514.5L603.5 515.5L591.5 519.5L588.5 519.5L572.5 525.5L560.5 527.5L559.5 528.5L542.5 528.5L528.5 524.5L519.5 520.5L510.5 519.5L509.5 518.5L451.5 519.5L450.5 518.5L442.5 518.5L435.5 515.5L427.5 507.5L424.5 500.5L424.5 485.5L421.5 478.5L415.5 469.5L411.5 465.5L401.5 460.5L386.5 459.5L378.5 464.5L377.5 466.5L378.5 471.5L385.5 480.5L387.5 490.5L388.5 491.5L388.5 507.5L386.5 511.5L380.5 516.5L373.5 516.5L368.5 513.5L362.5 506.5L360.5 501.5L360.5 496.5L364.5 490.5L364.5 482.5L365.5 481.5L364.5 447.5L363.5 446.5L363.5 436.5L364.5 433.5L371.5 426.5L375.5 424.5L378.5 424.5L379.5 423.5L402.5 422.5L403.5 421.5L407.5 421.5L419.5 416.5L430.5 409.5L434.5 405.5L434.5 403.5L436.5 400.5L436.5 392.5L433.5 385.5L428.5 380.5L421.5 377.5L398.5 373.5L382.5 366.5L378.5 366.5L377.5 365.5L339.5 365.5L338.5 364.5L335.5 364.5L329.5 359.5L327.5 355.5L327.5 345.5L331.5 333.5L334.5 329.5L339.5 318.5L339.5 307.5L337.5 303.5L334.5 287.5L332.5 283.5L328.5 280.5L302.5 281.5L296.5 283.5L285.5 289.5L277.5 290.5L276.5 291.5L262.5 291.5L256.5 289.5L248.5 289.5L242.5 292.5L238.5 296.5L234.5 303.5L229.5 308.5L219.5 314.5L215.5 319.5L215.5 325.5L218.5 328.5L220.5 328.5L223.5 331.5L233.5 334.5L236.5 337.5L239.5 337.5L241.5 339.5L243.5 339.5L245.5 341.5L247.5 341.5L249.5 343.5L255.5 345.5L258.5 350.5L263.5 349.5L265.5 351.5L268.5 351.5L270.5 353.5L272.5 353.5L275.5 355.5L277.5 358.5L277.5 365.5L275.5 369.5L270.5 374.5L263.5 377.5L257.5 377.5L250.5 375.5L236.5 376.5L232.5 378.5L215.5 382.5L199.5 391.5L182.5 405.5L159.5 429.5L157.5 435.5L157.5 445.5L156.5 448.5L157.5 451.5L161.5 454.5L168.5 450.5L171.5 452.5L171.5 458.5L169.5 460.5L168.5 464.5L164.5 468.5L159.5 469.5L153.5 474.5L150.5 474.5L148.5 476.5L145.5 477.5L139.5 476.5L132.5 478.5L127.5 481.5ZM407.5 522.5L412.5 521.5L417.5 524.5L422.5 532.5L422.5 537.5L419.5 541.5L417.5 542.5L411.5 542.5L408.5 539.5L404.5 531.5L404.5 526.5ZM663.5 156.5L651.5 156.5L650.5 157.5L645.5 157.5L644.5 158.5L637.5 159.5L630.5 162.5L625.5 167.5L618.5 179.5L618.5 183.5L616.5 188.5L617.5 202.5L619.5 209.5L619.5 217.5L611.5 228.5L602.5 245.5L595.5 252.5L585.5 258.5L571.5 263.5L568.5 263.5L564.5 265.5L557.5 266.5L553.5 268.5L550.5 268.5L538.5 272.5L528.5 277.5L516.5 285.5L504.5 296.5L497.5 305.5L492.5 313.5L482.5 334.5L480.5 336.5L478.5 342.5L478.5 345.5L480.5 348.5L482.5 349.5L491.5 350.5L492.5 351.5L503.5 351.5L504.5 352.5L513.5 353.5L534.5 359.5L547.5 365.5L591.5 394.5L615.5 419.5L622.5 423.5L624.5 423.5L631.5 427.5L633.5 427.5L642.5 432.5L645.5 432.5L646.5 433.5L655.5 433.5L661.5 430.5L661.5 417.5L656.5 399.5L656.5 390.5L658.5 386.5L658.5 383.5L661.5 374.5L666.5 365.5L672.5 359.5L676.5 358.5L676.5 161.5Z" fill="#ff8400"/><path d="M675.5 531.5L671.5 536.5L671.5 545.5L673.5 548.5L676.5 549.5L676.5 531.5ZM124.5 483.5L124.5 563.5L645.5 563.5L645.5 547.5L644.5 546.5L644.5 539.5L642.5 532.5L639.5 526.5L633.5 520.5L626.5 517.5L609.5 517.5L608.5 518.5L601.5 519.5L595.5 522.5L590.5 523.5L585.5 526.5L583.5 526.5L571.5 532.5L557.5 536.5L539.5 536.5L533.5 534.5L519.5 526.5L512.5 524.5L508.5 524.5L507.5 523.5L497.5 523.5L496.5 522.5L492.5 522.5L491.5 523.5L445.5 523.5L439.5 521.5L429.5 514.5L423.5 507.5L421.5 503.5L421.5 498.5L420.5 497.5L421.5 496.5L421.5 486.5L412.5 468.5L408.5 464.5L403.5 463.5L400.5 461.5L386.5 461.5L381.5 463.5L378.5 466.5L378.5 468.5L383.5 475.5L388.5 487.5L390.5 507.5L389.5 508.5L389.5 511.5L386.5 516.5L380.5 521.5L375.5 522.5L368.5 519.5L364.5 515.5L358.5 504.5L358.5 496.5L359.5 494.5L363.5 491.5L363.5 455.5L362.5 454.5L362.5 436.5L363.5 433.5L369.5 426.5L375.5 423.5L385.5 420.5L391.5 420.5L392.5 419.5L411.5 416.5L430.5 408.5L435.5 401.5L435.5 392.5L433.5 387.5L424.5 381.5L416.5 380.5L409.5 377.5L402.5 376.5L381.5 367.5L372.5 367.5L371.5 366.5L368.5 366.5L367.5 367.5L343.5 367.5L342.5 366.5L334.5 366.5L327.5 361.5L324.5 354.5L325.5 343.5L328.5 333.5L330.5 329.5L334.5 325.5L338.5 315.5L337.5 308.5L335.5 303.5L335.5 299.5L333.5 295.5L332.5 286.5L328.5 281.5L322.5 281.5L321.5 282.5L300.5 282.5L298.5 284.5L296.5 284.5L290.5 287.5L282.5 293.5L280.5 293.5L277.5 295.5L269.5 295.5L268.5 294.5L251.5 291.5L244.5 294.5L242.5 298.5L242.5 304.5L237.5 310.5L219.5 316.5L216.5 319.5L216.5 325.5L218.5 327.5L220.5 327.5L224.5 331.5L226.5 331.5L229.5 333.5L232.5 333.5L234.5 335.5L238.5 336.5L240.5 338.5L242.5 338.5L252.5 344.5L254.5 344.5L258.5 349.5L263.5 349.5L269.5 351.5L271.5 353.5L273.5 353.5L279.5 360.5L279.5 367.5L277.5 372.5L270.5 379.5L265.5 381.5L255.5 380.5L251.5 378.5L236.5 378.5L232.5 380.5L228.5 380.5L220.5 383.5L216.5 383.5L198.5 393.5L185.5 405.5L182.5 406.5L164.5 425.5L160.5 428.5L160.5 431.5L158.5 434.5L158.5 445.5L157.5 446.5L160.5 453.5L162.5 453.5L166.5 450.5L169.5 450.5L172.5 453.5L172.5 457.5L169.5 461.5L168.5 465.5L165.5 468.5L158.5 470.5L152.5 475.5L147.5 476.5L144.5 478.5L138.5 478.5L129.5 482.5ZM406.5 518.5L410.5 517.5L415.5 519.5L419.5 523.5L424.5 531.5L425.5 538.5L424.5 541.5L421.5 544.5L410.5 545.5L407.5 542.5L406.5 537.5L401.5 530.5L401.5 524.5ZM357.5 460.5L360.5 461.5L360.5 465.5L358.5 467.5L356.5 466.5L356.5 461.5ZM301.5 286.5L308.5 287.5L313.5 292.5L314.5 299.5L312.5 303.5L307.5 308.5L305.5 309.5L295.5 309.5L290.5 305.5L289.5 303.5L289.5 298.5L292.5 292.5ZM663.5 157.5L651.5 157.5L650.5 158.5L645.5 158.5L644.5 159.5L634.5 161.5L627.5 166.5L623.5 174.5L620.5 177.5L619.5 185.5L617.5 189.5L618.5 197.5L619.5 198.5L620.5 216.5L615.5 226.5L610.5 241.5L605.5 250.5L596.5 258.5L584.5 264.5L554.5 274.5L545.5 276.5L526.5 285.5L518.5 290.5L507.5 299.5L496.5 311.5L488.5 328.5L482.5 336.5L479.5 344.5L483.5 347.5L509.5 346.5L519.5 349.5L539.5 351.5L548.5 354.5L554.5 358.5L575.5 379.5L591.5 391.5L615.5 416.5L619.5 419.5L639.5 429.5L645.5 431.5L651.5 431.5L652.5 432.5L661.5 429.5L661.5 418.5L659.5 416.5L659.5 412.5L657.5 408.5L657.5 405.5L654.5 396.5L656.5 382.5L662.5 368.5L667.5 361.5L672.5 357.5L676.5 356.5L676.5 162.5L674.5 162.5Z" fill="#ff7800"/><path d="M675.5 533.5L672.5 537.5L672.5 544.5L676.5 547.5L676.5 533.5ZM124.5 484.5L124.5 563.5L642.5 563.5L641.5 539.5L638.5 530.5L631.5 522.5L627.5 520.5L609.5 520.5L600.5 523.5L576.5 536.5L574.5 538.5L570.5 539.5L563.5 543.5L553.5 545.5L552.5 546.5L547.5 546.5L546.5 547.5L535.5 547.5L530.5 545.5L524.5 539.5L519.5 531.5L516.5 531.5L512.5 529.5L507.5 529.5L500.5 527.5L453.5 527.5L452.5 528.5L443.5 528.5L436.5 524.5L419.5 508.5L416.5 501.5L416.5 495.5L419.5 488.5L411.5 473.5L411.5 469.5L406.5 464.5L402.5 464.5L400.5 462.5L387.5 462.5L384.5 464.5L381.5 464.5L379.5 466.5L382.5 470.5L384.5 476.5L386.5 478.5L390.5 490.5L390.5 498.5L392.5 501.5L392.5 510.5L390.5 513.5L389.5 519.5L386.5 525.5L379.5 532.5L376.5 533.5L371.5 533.5L369.5 532.5L364.5 527.5L358.5 514.5L358.5 511.5L355.5 504.5L355.5 498.5L357.5 494.5L362.5 490.5L362.5 480.5L361.5 479.5L361.5 474.5L362.5 473.5L361.5 436.5L362.5 433.5L367.5 428.5L368.5 425.5L370.5 425.5L372.5 423.5L374.5 423.5L376.5 421.5L378.5 421.5L381.5 419.5L394.5 416.5L398.5 414.5L406.5 414.5L409.5 412.5L419.5 411.5L421.5 409.5L426.5 409.5L428.5 407.5L430.5 407.5L434.5 401.5L434.5 392.5L433.5 389.5L430.5 386.5L427.5 386.5L425.5 384.5L414.5 383.5L405.5 378.5L401.5 378.5L399.5 376.5L392.5 374.5L390.5 372.5L388.5 372.5L386.5 370.5L384.5 370.5L381.5 368.5L366.5 368.5L363.5 370.5L358.5 370.5L355.5 368.5L337.5 368.5L335.5 369.5L329.5 367.5L325.5 364.5L322.5 359.5L322.5 353.5L321.5 352.5L322.5 344.5L325.5 336.5L326.5 329.5L334.5 322.5L336.5 316.5L335.5 308.5L333.5 305.5L333.5 298.5L331.5 296.5L331.5 287.5L328.5 282.5L323.5 282.5L320.5 284.5L300.5 283.5L298.5 285.5L292.5 287.5L282.5 296.5L280.5 296.5L278.5 298.5L268.5 298.5L265.5 296.5L261.5 296.5L259.5 294.5L255.5 294.5L254.5 293.5L247.5 294.5L244.5 298.5L245.5 300.5L245.5 307.5L240.5 313.5L236.5 315.5L222.5 316.5L217.5 320.5L217.5 325.5L218.5 326.5L220.5 326.5L225.5 330.5L227.5 330.5L229.5 332.5L232.5 332.5L237.5 336.5L239.5 336.5L241.5 338.5L243.5 338.5L245.5 340.5L247.5 340.5L249.5 342.5L255.5 344.5L258.5 348.5L263.5 348.5L265.5 350.5L269.5 350.5L271.5 352.5L273.5 352.5L279.5 357.5L283.5 364.5L281.5 369.5L281.5 373.5L279.5 377.5L271.5 385.5L267.5 387.5L260.5 386.5L258.5 384.5L253.5 383.5L249.5 380.5L236.5 380.5L233.5 382.5L225.5 382.5L222.5 384.5L217.5 384.5L215.5 386.5L213.5 386.5L207.5 389.5L204.5 392.5L202.5 392.5L195.5 398.5L193.5 398.5L185.5 406.5L182.5 407.5L165.5 424.5L164.5 427.5L161.5 429.5L161.5 431.5L159.5 434.5L159.5 445.5L158.5 446.5L160.5 452.5L163.5 452.5L166.5 449.5L169.5 449.5L173.5 453.5L173.5 457.5L169.5 462.5L169.5 464.5L164.5 469.5L158.5 471.5L153.5 475.5L150.5 475.5L144.5 479.5L141.5 479.5L135.5 482.5L131.5 482.5L128.5 484.5ZM406.5 512.5L412.5 513.5L422.5 524.5L422.5 526.5L426.5 531.5L426.5 535.5L428.5 539.5L428.5 544.5L425.5 547.5L418.5 547.5L416.5 546.5L413.5 548.5L408.5 548.5L405.5 545.5L405.5 537.5L398.5 529.5L398.5 522.5L401.5 516.5ZM355.5 479.5L357.5 479.5L361.5 483.5L361.5 488.5L358.5 491.5L355.5 491.5L352.5 488.5L352.5 483.5ZM359.5 454.5L362.5 457.5L362.5 470.5L355.5 478.5L350.5 471.5L350.5 462.5L354.5 455.5ZM425.5 389.5L429.5 389.5L434.5 395.5L434.5 399.5L429.5 405.5L423.5 405.5L419.5 400.5L419.5 394.5ZM224.5 325.5L226.5 323.5L229.5 323.5L231.5 324.5L233.5 327.5L231.5 329.5L228.5 329.5L225.5 327.5ZM324.5 308.5L319.5 317.5L309.5 324.5L303.5 326.5L284.5 326.5L274.5 323.5L268.5 319.5L264.5 315.5L262.5 311.5L258.5 307.5L254.5 306.5L248.5 299.5L250.5 296.5L254.5 296.5L256.5 297.5L261.5 303.5L265.5 303.5L272.5 300.5L278.5 300.5L284.5 297.5L286.5 294.5L293.5 287.5L295.5 287.5L296.5 285.5L299.5 285.5L301.5 283.5L308.5 283.5L319.5 288.5L322.5 291.5L324.5 295.5ZM662.5 158.5L651.5 158.5L650.5 159.5L646.5 159.5L645.5 160.5L641.5 160.5L637.5 162.5L634.5 162.5L626.5 169.5L624.5 175.5L620.5 180.5L620.5 186.5L618.5 189.5L620.5 193.5L620.5 201.5L621.5 202.5L620.5 205.5L620.5 219.5L616.5 232.5L614.5 247.5L611.5 254.5L607.5 258.5L593.5 266.5L575.5 272.5L567.5 276.5L564.5 276.5L561.5 278.5L558.5 278.5L555.5 280.5L552.5 280.5L549.5 282.5L546.5 282.5L543.5 284.5L536.5 286.5L515.5 298.5L498.5 312.5L489.5 331.5L482.5 339.5L482.5 341.5L480.5 343.5L481.5 345.5L483.5 345.5L484.5 344.5L488.5 344.5L500.5 339.5L510.5 339.5L515.5 342.5L518.5 342.5L519.5 343.5L527.5 343.5L528.5 342.5L531.5 342.5L536.5 340.5L542.5 340.5L543.5 339.5L548.5 339.5L557.5 342.5L564.5 350.5L568.5 362.5L577.5 375.5L622.5 419.5L624.5 419.5L626.5 421.5L628.5 421.5L630.5 423.5L632.5 423.5L643.5 429.5L650.5 429.5L653.5 431.5L660.5 428.5L660.5 418.5L658.5 416.5L658.5 412.5L655.5 405.5L655.5 401.5L653.5 398.5L653.5 384.5L655.5 381.5L655.5 378.5L657.5 375.5L657.5 373.5L659.5 371.5L659.5 369.5L663.5 365.5L663.5 363.5L671.5 355.5L673.5 355.5L676.5 353.5L676.5 164.5L674.5 164.5L670.5 161.5L668.5 161.5ZM658.5 420.5L659.5 421.5L659.5 424.5L658.5 425.5L657.5 424.5L657.5 421.5Z" fill="#ff7000"/><path d="M400.5 387.5L392.5 380.5L376.5 373.5L354.5 373.5L353.5 372.5L338.5 372.5L335.5 373.5L331.5 371.5L328.5 371.5L324.5 369.5L320.5 365.5L315.5 355.5L310.5 350.5L306.5 348.5L298.5 348.5L293.5 350.5L288.5 356.5L287.5 366.5L285.5 369.5L284.5 377.5L282.5 379.5L282.5 382.5L277.5 385.5L274.5 391.5L274.5 395.5L272.5 398.5L272.5 405.5L266.5 416.5L266.5 419.5L262.5 424.5L257.5 418.5L254.5 416.5L246.5 414.5L243.5 411.5L243.5 407.5L240.5 399.5L235.5 393.5L230.5 390.5L223.5 388.5L216.5 388.5L209.5 390.5L204.5 394.5L198.5 396.5L193.5 400.5L185.5 409.5L175.5 416.5L166.5 425.5L166.5 427.5L162.5 432.5L161.5 435.5L161.5 444.5L164.5 447.5L168.5 447.5L173.5 452.5L173.5 459.5L169.5 463.5L169.5 465.5L165.5 469.5L163.5 469.5L161.5 471.5L159.5 471.5L157.5 473.5L155.5 473.5L153.5 475.5L151.5 475.5L149.5 477.5L147.5 477.5L137.5 483.5L131.5 483.5L129.5 485.5L124.5 485.5L124.5 563.5L343.5 563.5L341.5 553.5L337.5 546.5L324.5 533.5L304.5 520.5L301.5 517.5L290.5 510.5L288.5 510.5L286.5 508.5L280.5 506.5L278.5 504.5L273.5 504.5L270.5 502.5L267.5 502.5L265.5 500.5L258.5 500.5L255.5 498.5L247.5 498.5L246.5 495.5L248.5 490.5L246.5 486.5L233.5 477.5L222.5 467.5L210.5 441.5L205.5 436.5L205.5 428.5L209.5 423.5L214.5 420.5L222.5 419.5L233.5 415.5L238.5 415.5L239.5 414.5L243.5 417.5L242.5 440.5L245.5 449.5L249.5 453.5L263.5 461.5L278.5 474.5L296.5 487.5L310.5 492.5L323.5 492.5L331.5 488.5L337.5 481.5L341.5 473.5L345.5 460.5L350.5 452.5L355.5 447.5L358.5 440.5L358.5 437.5L364.5 427.5L368.5 423.5L394.5 410.5L400.5 405.5L402.5 401.5L402.5 391.5ZM663.5 160.5L648.5 160.5L645.5 162.5L634.5 165.5L628.5 170.5L626.5 173.5L626.5 175.5L622.5 180.5L622.5 187.5L621.5 188.5L622.5 199.5L625.5 203.5L628.5 203.5L630.5 205.5L629.5 206.5L622.5 206.5L621.5 209.5L621.5 222.5L620.5 223.5L619.5 244.5L620.5 245.5L620.5 248.5L622.5 251.5L624.5 252.5L630.5 252.5L635.5 249.5L638.5 250.5L631.5 256.5L623.5 260.5L611.5 262.5L604.5 266.5L600.5 267.5L597.5 270.5L592.5 270.5L584.5 274.5L581.5 274.5L578.5 276.5L575.5 276.5L572.5 278.5L570.5 278.5L568.5 280.5L565.5 280.5L562.5 282.5L559.5 282.5L556.5 284.5L553.5 284.5L550.5 286.5L541.5 288.5L539.5 290.5L537.5 290.5L527.5 296.5L521.5 298.5L517.5 302.5L514.5 303.5L503.5 313.5L500.5 320.5L500.5 325.5L504.5 330.5L509.5 332.5L512.5 332.5L520.5 337.5L526.5 337.5L531.5 334.5L540.5 331.5L542.5 329.5L544.5 329.5L547.5 327.5L550.5 327.5L553.5 325.5L558.5 325.5L561.5 323.5L590.5 323.5L593.5 325.5L595.5 325.5L600.5 330.5L600.5 333.5L596.5 338.5L583.5 346.5L578.5 353.5L577.5 361.5L581.5 373.5L592.5 387.5L617.5 411.5L618.5 413.5L623.5 417.5L644.5 427.5L650.5 426.5L653.5 423.5L656.5 414.5L655.5 407.5L652.5 399.5L652.5 382.5L654.5 380.5L654.5 376.5L656.5 374.5L658.5 368.5L661.5 365.5L661.5 363.5L670.5 353.5L672.5 353.5L676.5 350.5L676.5 169.5L671.5 164.5L669.5 164.5ZM637.5 249.5L639.5 247.5L641.5 248.5L640.5 250.5ZM643.5 244.5L644.5 246.5L642.5 247.5L641.5 246.5ZM645.5 240.5L646.5 242.5L644.5 243.5L643.5 242.5ZM646.5 238.5L647.5 237.5L648.5 238.5L647.5 239.5ZM630.5 205.5L642.5 205.5L647.5 207.5L648.5 213.5L646.5 219.5L647.5 222.5L654.5 230.5L652.5 234.5L648.5 238.5L647.5 235.5L649.5 232.5L649.5 230.5L647.5 227.5L643.5 226.5L641.5 224.5L641.5 218.5L643.5 215.5L643.5 209.5L641.5 208.5L633.5 208.5L629.5 206.5Z" fill="#ff6700"/><path d="M124.5 486.5L124.5 563.5L325.5 563.5L324.5 555.5L320.5 545.5L312.5 534.5L293.5 515.5L278.5 506.5L272.5 505.5L263.5 501.5L258.5 501.5L253.5 499.5L247.5 499.5L244.5 496.5L241.5 489.5L229.5 480.5L220.5 471.5L214.5 459.5L211.5 449.5L203.5 435.5L203.5 426.5L205.5 422.5L211.5 417.5L219.5 413.5L224.5 407.5L224.5 404.5L225.5 403.5L224.5 402.5L224.5 399.5L219.5 393.5L210.5 392.5L205.5 395.5L203.5 395.5L193.5 404.5L192.5 407.5L187.5 412.5L175.5 419.5L168.5 426.5L164.5 434.5L164.5 441.5L174.5 452.5L172.5 461.5L164.5 470.5L162.5 470.5L160.5 472.5L158.5 472.5L156.5 474.5L140.5 482.5L131.5 484.5L128.5 486.5ZM300.5 359.5L295.5 361.5L291.5 365.5L283.5 383.5L279.5 387.5L275.5 397.5L274.5 406.5L268.5 419.5L263.5 425.5L258.5 426.5L255.5 428.5L253.5 433.5L253.5 438.5L256.5 445.5L266.5 455.5L285.5 469.5L300.5 476.5L303.5 476.5L304.5 477.5L317.5 477.5L327.5 473.5L337.5 463.5L352.5 441.5L358.5 430.5L365.5 422.5L384.5 411.5L390.5 405.5L392.5 401.5L392.5 393.5L390.5 389.5L385.5 384.5L378.5 380.5L371.5 378.5L362.5 378.5L361.5 377.5L347.5 377.5L346.5 376.5L334.5 377.5L333.5 376.5L329.5 376.5L321.5 372.5L309.5 361.5L304.5 359.5ZM624.5 207.5L622.5 212.5L623.5 242.5L627.5 248.5L630.5 249.5L636.5 248.5L641.5 245.5L643.5 240.5L646.5 236.5L646.5 230.5L643.5 228.5L639.5 223.5L640.5 211.5L637.5 209.5ZM662.5 161.5L653.5 161.5L645.5 165.5L638.5 167.5L632.5 170.5L627.5 175.5L624.5 180.5L623.5 191.5L624.5 192.5L625.5 199.5L630.5 203.5L633.5 204.5L647.5 205.5L649.5 209.5L650.5 218.5L655.5 228.5L654.5 234.5L647.5 241.5L644.5 248.5L632.5 258.5L625.5 262.5L607.5 267.5L596.5 272.5L593.5 272.5L583.5 276.5L574.5 278.5L569.5 281.5L566.5 281.5L557.5 285.5L554.5 285.5L551.5 287.5L543.5 289.5L527.5 297.5L514.5 306.5L510.5 310.5L506.5 318.5L507.5 324.5L512.5 329.5L522.5 333.5L530.5 332.5L542.5 327.5L548.5 326.5L552.5 324.5L556.5 324.5L560.5 322.5L592.5 322.5L596.5 324.5L601.5 329.5L602.5 333.5L598.5 341.5L590.5 349.5L585.5 358.5L585.5 363.5L584.5 365.5L585.5 366.5L585.5 372.5L587.5 375.5L587.5 377.5L594.5 387.5L617.5 410.5L624.5 416.5L641.5 424.5L648.5 424.5L652.5 420.5L654.5 409.5L651.5 399.5L651.5 385.5L655.5 372.5L657.5 370.5L657.5 368.5L659.5 366.5L661.5 361.5L669.5 352.5L676.5 348.5L676.5 171.5L670.5 165.5Z" fill="#ff5e00"/><path d="M124.5 487.5L124.5 563.5L313.5 563.5L312.5 552.5L306.5 538.5L292.5 518.5L286.5 512.5L276.5 507.5L268.5 505.5L262.5 502.5L247.5 500.5L243.5 498.5L239.5 493.5L228.5 486.5L217.5 475.5L213.5 467.5L208.5 449.5L202.5 438.5L201.5 431.5L200.5 430.5L200.5 422.5L201.5 419.5L205.5 415.5L214.5 410.5L217.5 406.5L217.5 399.5L212.5 395.5L209.5 395.5L202.5 398.5L198.5 402.5L196.5 409.5L192.5 414.5L175.5 421.5L169.5 428.5L167.5 432.5L166.5 439.5L167.5 442.5L174.5 451.5L174.5 459.5L171.5 462.5L170.5 465.5L165.5 470.5L163.5 470.5L161.5 472.5L159.5 472.5L157.5 474.5L141.5 482.5L139.5 482.5L137.5 484.5L132.5 484.5L129.5 486.5ZM377.5 385.5L371.5 383.5L367.5 383.5L366.5 382.5L356.5 382.5L355.5 381.5L328.5 381.5L327.5 380.5L324.5 380.5L320.5 378.5L309.5 368.5L305.5 366.5L299.5 366.5L292.5 371.5L290.5 376.5L281.5 388.5L278.5 395.5L277.5 404.5L274.5 414.5L270.5 421.5L261.5 430.5L260.5 433.5L261.5 439.5L269.5 448.5L279.5 456.5L294.5 465.5L301.5 467.5L316.5 467.5L322.5 465.5L329.5 461.5L338.5 452.5L355.5 428.5L362.5 421.5L383.5 407.5L386.5 402.5L387.5 397.5L385.5 392.5ZM625.5 209.5L624.5 211.5L624.5 220.5L627.5 228.5L627.5 242.5L629.5 245.5L631.5 246.5L637.5 246.5L641.5 243.5L644.5 237.5L644.5 232.5L643.5 230.5L637.5 225.5L637.5 212.5L634.5 210.5ZM661.5 162.5L654.5 163.5L644.5 169.5L632.5 173.5L627.5 178.5L625.5 184.5L625.5 192.5L627.5 197.5L633.5 202.5L647.5 204.5L650.5 208.5L652.5 215.5L658.5 227.5L658.5 231.5L656.5 235.5L648.5 242.5L644.5 250.5L632.5 261.5L623.5 266.5L617.5 267.5L610.5 270.5L607.5 270.5L600.5 273.5L593.5 274.5L589.5 276.5L582.5 277.5L570.5 282.5L542.5 291.5L532.5 296.5L520.5 304.5L514.5 309.5L510.5 316.5L510.5 321.5L511.5 323.5L515.5 327.5L519.5 329.5L531.5 329.5L559.5 321.5L571.5 321.5L572.5 320.5L590.5 320.5L598.5 323.5L604.5 330.5L604.5 338.5L590.5 361.5L589.5 374.5L591.5 380.5L595.5 386.5L619.5 410.5L627.5 416.5L643.5 423.5L648.5 422.5L650.5 420.5L652.5 414.5L652.5 404.5L650.5 398.5L650.5 389.5L651.5 388.5L651.5 382.5L654.5 373.5L663.5 356.5L671.5 348.5L676.5 346.5L676.5 173.5L667.5 165.5Z" fill="#ff5100"/><path d="M124.5 487.5L124.5 563.5L304.5 563.5L304.5 555.5L300.5 541.5L289.5 520.5L288.5 516.5L286.5 514.5L264.5 504.5L261.5 504.5L256.5 502.5L251.5 502.5L250.5 501.5L245.5 501.5L237.5 496.5L224.5 490.5L214.5 481.5L209.5 470.5L204.5 446.5L199.5 436.5L197.5 426.5L193.5 420.5L190.5 420.5L189.5 419.5L178.5 421.5L172.5 426.5L169.5 432.5L168.5 438.5L169.5 439.5L169.5 442.5L175.5 452.5L174.5 453.5L174.5 460.5L171.5 463.5L171.5 465.5L166.5 470.5L164.5 470.5L157.5 475.5L155.5 475.5L145.5 481.5L140.5 482.5L138.5 484.5L134.5 484.5L128.5 487.5ZM269.5 436.5L286.5 453.5L295.5 458.5L303.5 459.5L304.5 460.5L309.5 460.5L310.5 459.5L316.5 459.5L323.5 457.5L328.5 454.5L335.5 447.5L341.5 438.5L356.5 422.5L377.5 408.5L382.5 403.5L383.5 397.5L380.5 392.5L373.5 388.5L364.5 387.5L363.5 386.5L335.5 386.5L334.5 387.5L325.5 387.5L324.5 386.5L317.5 385.5L312.5 382.5L305.5 375.5L299.5 374.5L294.5 379.5L287.5 383.5L282.5 390.5L278.5 412.5L275.5 421.5L269.5 430.5ZM633.5 230.5L631.5 233.5L631.5 241.5L633.5 243.5L638.5 243.5L642.5 237.5L642.5 234.5L637.5 230.5ZM628.5 212.5L627.5 213.5L627.5 218.5L631.5 221.5L633.5 219.5L633.5 214.5L630.5 212.5ZM662.5 165.5L655.5 166.5L646.5 172.5L633.5 175.5L628.5 179.5L627.5 182.5L627.5 193.5L628.5 195.5L634.5 200.5L647.5 203.5L650.5 206.5L661.5 223.5L661.5 232.5L658.5 237.5L649.5 245.5L645.5 252.5L635.5 262.5L628.5 267.5L621.5 270.5L581.5 279.5L539.5 294.5L530.5 299.5L518.5 308.5L513.5 315.5L513.5 321.5L517.5 325.5L524.5 327.5L535.5 326.5L543.5 323.5L552.5 322.5L557.5 320.5L579.5 319.5L580.5 318.5L594.5 319.5L601.5 322.5L607.5 329.5L608.5 338.5L604.5 349.5L593.5 366.5L592.5 369.5L592.5 377.5L593.5 380.5L599.5 389.5L620.5 409.5L631.5 417.5L641.5 421.5L647.5 421.5L650.5 416.5L650.5 412.5L651.5 411.5L650.5 386.5L651.5 385.5L651.5 380.5L654.5 374.5L654.5 371.5L664.5 352.5L669.5 347.5L674.5 344.5L676.5 344.5L676.5 175.5L672.5 174.5L666.5 167.5Z" fill="#ff4500"/><path d="M124.5 488.5L124.5 563.5L297.5 563.5L295.5 546.5L287.5 525.5L287.5 521.5L285.5 515.5L263.5 505.5L260.5 505.5L256.5 503.5L243.5 502.5L235.5 499.5L221.5 496.5L214.5 492.5L210.5 488.5L205.5 479.5L205.5 475.5L204.5 474.5L204.5 459.5L203.5 458.5L202.5 447.5L193.5 426.5L188.5 422.5L180.5 422.5L176.5 424.5L171.5 431.5L170.5 440.5L175.5 450.5L175.5 454.5L174.5 455.5L174.5 461.5L172.5 462.5L172.5 464.5L170.5 467.5L168.5 468.5L167.5 470.5L165.5 470.5L163.5 472.5L159.5 473.5L156.5 476.5L154.5 476.5L144.5 482.5L135.5 484.5L132.5 486.5L130.5 486.5L128.5 488.5ZM284.5 441.5L287.5 446.5L291.5 450.5L298.5 453.5L309.5 453.5L310.5 452.5L314.5 452.5L324.5 449.5L330.5 443.5L333.5 438.5L343.5 430.5L354.5 419.5L375.5 406.5L380.5 401.5L380.5 397.5L377.5 394.5L370.5 391.5L341.5 391.5L331.5 394.5L304.5 396.5L301.5 395.5L293.5 386.5L288.5 385.5L286.5 386.5L284.5 390.5L284.5 400.5L280.5 413.5L280.5 425.5L281.5 426.5ZM662.5 174.5L653.5 174.5L643.5 177.5L632.5 177.5L629.5 180.5L628.5 190.5L630.5 195.5L639.5 200.5L647.5 202.5L663.5 217.5L667.5 225.5L666.5 231.5L663.5 236.5L649.5 250.5L646.5 255.5L637.5 264.5L629.5 270.5L620.5 274.5L612.5 275.5L611.5 276.5L592.5 278.5L588.5 280.5L579.5 281.5L555.5 289.5L550.5 292.5L545.5 293.5L530.5 301.5L525.5 306.5L521.5 308.5L515.5 315.5L515.5 320.5L518.5 323.5L521.5 324.5L534.5 324.5L535.5 323.5L539.5 323.5L544.5 321.5L549.5 321.5L550.5 320.5L554.5 320.5L560.5 318.5L572.5 318.5L573.5 317.5L593.5 317.5L594.5 318.5L601.5 319.5L607.5 323.5L612.5 331.5L612.5 335.5L613.5 336.5L612.5 344.5L607.5 355.5L596.5 368.5L594.5 372.5L594.5 378.5L599.5 387.5L621.5 408.5L630.5 415.5L642.5 420.5L646.5 420.5L648.5 418.5L649.5 410.5L650.5 409.5L649.5 387.5L651.5 384.5L651.5 377.5L653.5 375.5L653.5 372.5L658.5 362.5L658.5 360.5L664.5 349.5L670.5 343.5L676.5 341.5L676.5 180.5L671.5 179.5Z" fill="#ff3800"/><path d="M124.5 489.5L124.5 563.5L290.5 563.5L289.5 546.5L283.5 528.5L283.5 521.5L285.5 517.5L284.5 516.5L282.5 516.5L271.5 510.5L269.5 510.5L263.5 506.5L259.5 506.5L256.5 504.5L243.5 504.5L242.5 503.5L217.5 504.5L216.5 503.5L213.5 503.5L207.5 500.5L199.5 492.5L197.5 488.5L196.5 480.5L200.5 466.5L200.5 448.5L191.5 428.5L186.5 424.5L178.5 424.5L174.5 428.5L174.5 430.5L172.5 432.5L172.5 441.5L174.5 444.5L174.5 448.5L176.5 450.5L175.5 460.5L172.5 465.5L166.5 471.5L160.5 473.5L157.5 476.5L143.5 483.5L140.5 483.5L138.5 485.5L134.5 485.5L129.5 488.5ZM283.5 423.5L285.5 426.5L285.5 429.5L289.5 440.5L292.5 445.5L299.5 449.5L303.5 449.5L306.5 448.5L310.5 443.5L310.5 435.5L311.5 432.5L314.5 429.5L319.5 427.5L323.5 427.5L329.5 429.5L336.5 429.5L340.5 427.5L349.5 418.5L376.5 402.5L379.5 398.5L371.5 395.5L361.5 394.5L356.5 396.5L351.5 396.5L344.5 399.5L326.5 402.5L317.5 405.5L312.5 408.5L303.5 410.5L300.5 409.5L297.5 406.5L296.5 402.5L294.5 400.5L294.5 396.5L292.5 393.5L292.5 390.5L290.5 387.5L288.5 386.5L286.5 388.5L286.5 403.5L284.5 406.5L284.5 410.5L283.5 411.5ZM343.5 408.5L343.5 406.5L345.5 404.5L349.5 404.5L350.5 405.5L350.5 407.5L347.5 409.5L344.5 409.5ZM289.5 398.5L291.5 399.5L293.5 403.5L293.5 412.5L291.5 414.5L289.5 414.5L286.5 411.5L286.5 407.5ZM676.5 232.5L664.5 240.5L655.5 248.5L648.5 257.5L628.5 275.5L619.5 278.5L614.5 278.5L613.5 279.5L598.5 279.5L597.5 280.5L592.5 280.5L587.5 282.5L580.5 282.5L577.5 284.5L574.5 284.5L571.5 286.5L568.5 286.5L565.5 288.5L556.5 290.5L554.5 292.5L552.5 292.5L549.5 294.5L546.5 294.5L544.5 296.5L542.5 296.5L534.5 300.5L516.5 316.5L516.5 319.5L518.5 321.5L521.5 321.5L522.5 322.5L534.5 322.5L535.5 321.5L540.5 321.5L544.5 319.5L553.5 319.5L556.5 317.5L571.5 317.5L575.5 315.5L601.5 316.5L602.5 317.5L605.5 317.5L611.5 321.5L615.5 325.5L619.5 336.5L619.5 341.5L618.5 342.5L617.5 349.5L613.5 358.5L610.5 362.5L603.5 368.5L601.5 368.5L597.5 371.5L596.5 373.5L596.5 379.5L598.5 381.5L600.5 387.5L606.5 393.5L608.5 393.5L623.5 407.5L626.5 411.5L628.5 411.5L632.5 415.5L634.5 415.5L636.5 417.5L640.5 417.5L642.5 419.5L646.5 419.5L647.5 418.5L647.5 412.5L649.5 409.5L648.5 390.5L650.5 385.5L650.5 379.5L653.5 370.5L655.5 368.5L655.5 364.5L657.5 362.5L657.5 359.5L659.5 357.5L660.5 351.5L665.5 344.5L671.5 338.5L676.5 336.5ZM630.5 180.5L630.5 193.5L640.5 199.5L647.5 200.5L655.5 207.5L662.5 210.5L676.5 220.5L676.5 186.5L658.5 180.5L639.5 181.5L633.5 178.5Z" fill="#ff2b00"/><path d="M219.5 545.5L218.5 544.5L218.5 541.5L215.5 536.5L210.5 534.5L207.5 534.5L202.5 536.5L191.5 547.5L187.5 542.5L187.5 533.5L186.5 532.5L187.5 531.5L186.5 530.5L186.5 527.5L185.5 525.5L181.5 523.5L174.5 525.5L170.5 525.5L166.5 527.5L163.5 527.5L162.5 526.5L151.5 526.5L147.5 524.5L144.5 526.5L138.5 527.5L136.5 530.5L136.5 555.5L137.5 556.5L137.5 563.5L220.5 563.5ZM275.5 525.5L271.5 522.5L261.5 521.5L257.5 523.5L252.5 523.5L245.5 526.5L238.5 533.5L229.5 546.5L228.5 555.5L227.5 556.5L227.5 563.5L283.5 563.5L283.5 544.5L280.5 534.5ZM171.5 478.5L169.5 476.5L162.5 475.5L154.5 479.5L151.5 479.5L145.5 483.5L141.5 483.5L139.5 485.5L135.5 485.5L129.5 489.5L124.5 489.5L124.5 518.5L129.5 515.5L141.5 511.5L153.5 511.5L157.5 509.5L161.5 497.5L163.5 494.5L169.5 489.5L172.5 483.5ZM676.5 241.5L666.5 244.5L663.5 246.5L648.5 260.5L648.5 262.5L645.5 265.5L642.5 266.5L638.5 271.5L629.5 279.5L624.5 279.5L621.5 281.5L594.5 281.5L591.5 283.5L583.5 283.5L579.5 285.5L576.5 285.5L573.5 287.5L570.5 287.5L559.5 292.5L556.5 292.5L554.5 294.5L546.5 297.5L539.5 303.5L537.5 307.5L538.5 312.5L544.5 316.5L549.5 316.5L551.5 317.5L555.5 315.5L557.5 316.5L568.5 316.5L572.5 314.5L607.5 314.5L609.5 316.5L615.5 318.5L621.5 324.5L625.5 334.5L625.5 343.5L622.5 350.5L621.5 357.5L619.5 361.5L608.5 372.5L601.5 377.5L601.5 382.5L603.5 385.5L603.5 387.5L622.5 405.5L624.5 405.5L632.5 412.5L637.5 414.5L643.5 413.5L647.5 407.5L648.5 386.5L650.5 384.5L650.5 376.5L652.5 374.5L652.5 370.5L654.5 368.5L654.5 363.5L656.5 361.5L656.5 358.5L658.5 356.5L658.5 351.5L662.5 346.5L662.5 344.5L666.5 340.5L666.5 338.5L674.5 330.5L674.5 328.5L676.5 326.5ZM639.5 190.5L640.5 195.5L643.5 197.5L648.5 197.5L652.5 200.5L658.5 201.5L660.5 203.5L663.5 203.5L668.5 206.5L676.5 205.5L676.5 196.5L671.5 194.5L669.5 192.5L663.5 192.5L661.5 190.5L661.5 188.5L657.5 188.5L653.5 186.5L644.5 186.5Z" fill="#ff1e00"/><path d="M269.5 532.5L264.5 530.5L256.5 531.5L252.5 533.5L247.5 538.5L243.5 550.5L244.5 563.5L274.5 563.5L275.5 556.5L276.5 555.5L276.5 542.5L274.5 537.5ZM140.5 533.5L139.5 546.5L138.5 547.5L139.5 563.5L211.5 563.5L210.5 554.5L205.5 547.5L203.5 546.5L197.5 546.5L193.5 548.5L189.5 548.5L185.5 543.5L182.5 536.5L177.5 531.5L174.5 530.5L163.5 530.5L157.5 528.5L145.5 528.5L143.5 529.5ZM162.5 482.5L159.5 480.5L153.5 480.5L147.5 482.5L145.5 484.5L141.5 484.5L139.5 486.5L136.5 486.5L133.5 488.5L131.5 488.5L129.5 490.5L124.5 490.5L124.5 515.5L134.5 512.5L137.5 510.5L148.5 508.5L152.5 506.5L156.5 502.5L163.5 489.5L163.5 484.5ZM676.5 247.5L667.5 249.5L660.5 253.5L644.5 267.5L638.5 274.5L634.5 276.5L630.5 280.5L624.5 281.5L620.5 283.5L594.5 283.5L590.5 285.5L582.5 285.5L579.5 287.5L576.5 287.5L567.5 291.5L562.5 292.5L554.5 296.5L549.5 300.5L547.5 304.5L548.5 310.5L552.5 313.5L556.5 313.5L557.5 314.5L569.5 314.5L574.5 312.5L604.5 312.5L615.5 316.5L623.5 324.5L627.5 334.5L627.5 343.5L621.5 361.5L607.5 378.5L607.5 384.5L611.5 391.5L623.5 403.5L632.5 408.5L637.5 409.5L640.5 408.5L644.5 404.5L646.5 398.5L647.5 386.5L649.5 384.5L649.5 377.5L651.5 374.5L651.5 370.5L653.5 368.5L653.5 363.5L655.5 360.5L655.5 358.5L657.5 356.5L657.5 351.5L661.5 346.5L661.5 344.5L664.5 341.5L667.5 335.5L676.5 325.5ZM647.5 192.5L647.5 193.5L653.5 198.5L656.5 198.5L660.5 200.5L662.5 200.5L665.5 198.5L664.5 195.5L658.5 190.5L651.5 189.5Z" fill="#ff1200"/><path d="M141.5 547.5L141.5 551.5L140.5 552.5L141.5 563.5L203.5 563.5L203.5 557.5L200.5 552.5L188.5 550.5L182.5 544.5L180.5 540.5L176.5 536.5L172.5 534.5L168.5 534.5L167.5 533.5L149.5 533.5L146.5 535.5ZM159.5 484.5L157.5 482.5L150.5 482.5L144.5 485.5L141.5 485.5L138.5 487.5L136.5 487.5L133.5 489.5L124.5 491.5L124.5 513.5L142.5 507.5L150.5 503.5L155.5 498.5L160.5 489.5ZM676.5 252.5L668.5 253.5L658.5 258.5L648.5 266.5L639.5 275.5L628.5 282.5L621.5 284.5L598.5 284.5L597.5 285.5L581.5 287.5L558.5 296.5L553.5 300.5L551.5 304.5L552.5 309.5L557.5 312.5L606.5 311.5L616.5 315.5L624.5 322.5L627.5 327.5L629.5 334.5L628.5 346.5L625.5 353.5L625.5 356.5L621.5 364.5L611.5 377.5L611.5 386.5L615.5 393.5L623.5 401.5L631.5 405.5L638.5 405.5L642.5 402.5L644.5 398.5L645.5 390.5L648.5 384.5L649.5 375.5L652.5 368.5L653.5 361.5L656.5 356.5L657.5 350.5L665.5 336.5L671.5 328.5L676.5 324.5Z" fill="#ff0500"/><path d="M142.5 552.5L142.5 563.5L186.5 563.5L185.5 556.5L180.5 546.5L174.5 539.5L170.5 537.5L160.5 537.5L149.5 542.5L144.5 547.5ZM155.5 483.5L149.5 483.5L133.5 490.5L124.5 492.5L124.5 511.5L132.5 509.5L149.5 500.5L156.5 492.5L158.5 487.5ZM676.5 256.5L667.5 257.5L658.5 261.5L652.5 265.5L635.5 280.5L627.5 284.5L619.5 285.5L618.5 286.5L594.5 286.5L593.5 287.5L588.5 287.5L587.5 288.5L579.5 289.5L560.5 297.5L555.5 301.5L553.5 306.5L556.5 310.5L560.5 310.5L561.5 311.5L567.5 311.5L568.5 310.5L608.5 310.5L618.5 314.5L625.5 320.5L630.5 329.5L631.5 340.5L626.5 358.5L623.5 364.5L616.5 373.5L613.5 380.5L613.5 384.5L618.5 394.5L623.5 399.5L631.5 403.5L637.5 403.5L641.5 400.5L643.5 396.5L645.5 387.5L648.5 381.5L648.5 376.5L650.5 373.5L650.5 369.5L656.5 351.5L667.5 331.5L670.5 327.5L676.5 322.5Z" fill="#f50000"/><path d="M175.5 544.5L172.5 541.5L166.5 539.5L159.5 540.5L151.5 544.5L147.5 547.5L144.5 552.5L144.5 563.5L179.5 563.5L178.5 562.5L178.5 551.5ZM156.5 486.5L154.5 484.5L149.5 484.5L133.5 491.5L124.5 493.5L124.5 509.5L130.5 508.5L143.5 501.5L155.5 490.5ZM676.5 260.5L668.5 260.5L657.5 264.5L651.5 268.5L639.5 279.5L629.5 285.5L616.5 287.5L615.5 288.5L598.5 287.5L597.5 288.5L590.5 288.5L585.5 290.5L581.5 290.5L572.5 293.5L559.5 300.5L555.5 305.5L555.5 307.5L558.5 309.5L610.5 309.5L620.5 313.5L627.5 319.5L632.5 328.5L633.5 339.5L632.5 340.5L631.5 349.5L624.5 366.5L617.5 375.5L615.5 383.5L616.5 384.5L616.5 387.5L620.5 394.5L623.5 397.5L630.5 401.5L637.5 401.5L640.5 398.5L643.5 389.5L647.5 382.5L647.5 377.5L657.5 347.5L666.5 330.5L673.5 322.5L676.5 321.5Z" fill="#e40000"/><path d="M172.5 544.5L165.5 541.5L162.5 541.5L151.5 546.5L146.5 551.5L145.5 563.5L174.5 563.5L175.5 561.5L175.5 551.5ZM155.5 486.5L153.5 484.5L151.5 484.5L148.5 486.5L145.5 486.5L142.5 488.5L140.5 488.5L134.5 492.5L129.5 492.5L126.5 494.5L124.5 494.5L124.5 507.5L128.5 507.5L140.5 500.5L144.5 496.5L153.5 490.5ZM676.5 263.5L668.5 263.5L667.5 264.5L660.5 265.5L651.5 270.5L642.5 279.5L628.5 287.5L624.5 287.5L618.5 289.5L603.5 289.5L600.5 288.5L599.5 289.5L587.5 290.5L586.5 291.5L579.5 292.5L565.5 298.5L562.5 301.5L559.5 302.5L556.5 306.5L556.5 307.5L563.5 307.5L564.5 308.5L567.5 307.5L607.5 307.5L622.5 312.5L631.5 320.5L634.5 326.5L634.5 330.5L635.5 331.5L635.5 340.5L633.5 345.5L633.5 349.5L631.5 352.5L631.5 355.5L629.5 358.5L629.5 360.5L624.5 370.5L619.5 375.5L617.5 381.5L619.5 390.5L624.5 396.5L629.5 399.5L637.5 399.5L639.5 397.5L641.5 390.5L645.5 385.5L645.5 383.5L647.5 380.5L647.5 374.5L649.5 372.5L649.5 367.5L651.5 364.5L651.5 360.5L653.5 358.5L653.5 355.5L655.5 352.5L655.5 350.5L657.5 348.5L657.5 345.5L659.5 343.5L659.5 341.5L661.5 339.5L661.5 337.5L663.5 335.5L665.5 329.5L668.5 325.5L676.5 318.5Z" fill="#d40000"/><path d="M152.5 485.5L151.5 485.5L150.5 487.5L145.5 487.5L144.5 489.5L141.5 489.5L140.5 491.5L137.5 491.5L136.5 493.5L129.5 493.5L128.5 495.5L124.5 495.5L124.5 506.5L126.5 506.5L127.5 504.5L130.5 504.5L133.5 500.5L136.5 500.5L143.5 492.5L146.5 492.5L149.5 488.5L152.5 488.5ZM676.5 267.5L672.5 267.5L671.5 266.5L669.5 267.5L661.5 267.5L659.5 269.5L653.5 271.5L651.5 274.5L643.5 281.5L641.5 281.5L633.5 287.5L630.5 287.5L628.5 289.5L621.5 289.5L619.5 291.5L589.5 291.5L588.5 293.5L581.5 293.5L580.5 295.5L575.5 295.5L574.5 297.5L571.5 297.5L570.5 299.5L567.5 299.5L564.5 303.5L561.5 303.5L561.5 304.5L559.5 305.5L559.5 306.5L613.5 306.5L615.5 308.5L621.5 308.5L625.5 312.5L631.5 315.5L631.5 317.5L635.5 321.5L635.5 323.5L637.5 325.5L637.5 344.5L635.5 345.5L635.5 352.5L633.5 353.5L633.5 358.5L631.5 359.5L631.5 362.5L629.5 363.5L629.5 366.5L627.5 367.5L627.5 372.5L625.5 373.5L624.5 375.5L621.5 375.5L621.5 380.5L619.5 381.5L619.5 384.5L621.5 385.5L621.5 390.5L622.5 390.5L627.5 396.5L630.5 396.5L631.5 398.5L636.5 398.5L636.5 397.5L638.5 396.5L638.5 391.5L640.5 390.5L640.5 387.5L644.5 384.5L644.5 381.5L646.5 380.5L646.5 373.5L648.5 372.5L648.5 365.5L650.5 364.5L650.5 359.5L652.5 358.5L652.5 353.5L654.5 352.5L654.5 349.5L656.5 348.5L656.5 344.5L662.5 334.5L662.5 331.5L670.5 321.5L672.5 315.5L676.5 312.5Z" fill="#c50000"/><path d="M676.5 272.5L666.5 272.5L665.5 273.5L658.5 274.5L638.5 286.5L631.5 289.5L629.5 291.5L625.5 292.5L621.5 296.5L620.5 299.5L621.5 303.5L623.5 306.5L631.5 312.5L636.5 318.5L639.5 324.5L640.5 331.5L643.5 337.5L648.5 340.5L654.5 339.5L659.5 335.5L661.5 330.5L668.5 321.5L671.5 314.5L676.5 309.5Z" fill="#b50000"/><path d="M676.5 277.5L665.5 277.5L664.5 278.5L656.5 279.5L628.5 293.5L625.5 297.5L625.5 302.5L627.5 306.5L635.5 313.5L638.5 317.5L644.5 331.5L649.5 335.5L654.5 335.5L658.5 333.5L664.5 325.5L670.5 313.5L676.5 308.5Z" fill="#a90000"/><path d="M676.5 282.5L659.5 282.5L658.5 283.5L651.5 284.5L645.5 287.5L643.5 287.5L631.5 293.5L628.5 297.5L628.5 302.5L629.5 304.5L638.5 313.5L644.5 324.5L645.5 328.5L650.5 332.5L656.5 332.5L658.5 331.5L662.5 326.5L670.5 311.5L676.5 306.5Z" fill="#9c0000"/><path d="M676.5 287.5L672.5 287.5L671.5 286.5L655.5 286.5L654.5 287.5L650.5 287.5L640.5 290.5L631.5 295.5L630.5 297.5L630.5 302.5L641.5 313.5L645.5 320.5L647.5 327.5L651.5 330.5L657.5 330.5L661.5 326.5L670.5 308.5L676.5 303.5Z" fill="#8f0000"/><path d="M633.5 295.5L631.5 298.5L632.5 302.5L637.5 305.5L643.5 311.5L647.5 317.5L649.5 326.5L654.5 329.5L657.5 329.5L659.5 327.5L668.5 310.5L669.5 306.5L676.5 297.5L675.5 294.5L666.5 289.5L647.5 290.5L646.5 291.5L642.5 291.5L635.5 295.5Z" fill="#840000"/><path d="M633.5 297.5L633.5 300.5L642.5 305.5L650.5 315.5L650.5 323.5L651.5 326.5L653.5 326.5L656.5 328.5L660.5 323.5L660.5 321.5L666.5 311.5L667.5 304.5L669.5 302.5L669.5 296.5L666.5 292.5L647.5 292.5L646.5 293.5L642.5 293.5L635.5 297.5Z" fill="#790000"/></g>
<g><polygon points="287.2,102 291,100 294,101 294,110.2 287.2,110.2" fill="#0a14ff"/><polygon points="291,100 294,97.8 296.5,98.5 294.5,105.5 292.5,105.5" fill="#0068ff"/><polygon points="294,98 297,95.5 299,96 298.8,105.5 294,105.5" fill="#00ccff"/><polygon points="297.5,94 301,92 305,90.5 305,105.5 297.5,105.5" fill="#38f0c0"/></g><g fill="none" stroke="#000" stroke-width="1.1"><polyline points="288.2,101.8 293.4,109.5"/><polyline points="290.3,100.7 295.5,105.9"/><polyline points="297.5,93 299.6,105.4"/><polyline points="300.1,93 304.3,101.5 303.3,104.4"/><polyline points="352,55.2 360,56.4 372,56 376,55.2"/><polyline points="402,55.5 410,57 420,56.6 424,55.2"/><polyline points="458,55.4 468,57.2 478,56.8 486,55.4"/><polyline points="424,67 428.5,67"/></g><g stroke="#000" stroke-linecap="round"><line x1="618" y1="427.6" x2="620" y2="427.6" stroke-width="1.6"/><line x1="626.8" y1="431.6" x2="631.2" y2="432" stroke-width="1.8"/><line x1="638" y1="436" x2="648.3" y2="436.6" stroke-width="2"/></g>
<g fill="none" stroke="#000" stroke-width="1.25" stroke-linejoin="round"><polyline points="306.9,105.2 306.9,98.2 307.1,92.1 309.1,90.6 312.1,89.1 315.1,86.6 320.2,85.6 323.2,86.6 326.2,89.1 330.2,86.1 333.2,84.6 338,84.4 342.2,84.1 342.7,90.1 344.3,100.2 346.3,108.2 348.3,113.2 346.3,117.2 345,120 346.3,126.3 350,133.8 355,136.9 362.5,135 367.5,137.5 370,142.5 372.5,150 376.3,155 378.1,161.3 376.3,167.5 373.1,173.8 371.3,180 370,187.5 367.5,197"/><polyline points="311.1,120.2 310.6,102.2 313.1,99.7 318.2,97.3 322.2,98.2 327.2,100.2 329.2,103.2 329.2,105.7 334.2,109.2 330.2,114.2 327.2,119.2 326.2,122 324.2,122.3 326.2,128.3 330,129.4 335.6,128.8 338.8,132.5 339.4,138.8 338.8,145 342.5,146.9 346.3,146.9 350,153 353.8,154.4 360,153.8 366.3,155.6 370,158.8 369.4,160.6 365,163.1 363.8,170 364.4,178.8 362.5,187.5 360,192.5 358.8,197"/><polyline points="353.8,65.8 357.5,63.3 358.1,64.5 355,70.8 352.5,77 351.3,82 352.5,89.5 355,95.8 357.5,98.3 362.5,93.3 366.3,92 370,94.5 373.8,99.5 375,103.3 375,107 377.5,109.5 382.5,110.8 385.6,114.5 387.5,120.8 388.8,132.5 386.3,142.5 388.8,147.5 396.3,151.9 405,153.8 412.5,152.5 417.5,148.8 418.8,143.8 423.8,141.3 427.5,140 436.3,138.1 440,133.8 439.4,129.4 433.8,128.1 426.3,130.6 417.5,132.5 413,132 408.8,130 406.3,126.3 408.8,122.5 415,118.1 426.3,108.8 435,104.5 442.5,100.8 450,98.3"/><polyline points="363.8,75.1 368.8,71.4 375,69.5 382.5,68.9 388.8,70.8 392.5,74.5 390,77.6 383.8,78.3 377.5,78.9 372.5,80.1 368.8,78.9 365,78.3 363.8,75.1"/><polyline points="402.5,83.9 406.3,81.4 412.5,79.8 417.5,81.4 419.4,84.5 415,86 408.8,85.8 403.8,84.8 402.5,83.9"/><polyline points="401.5,139 403.5,137.5 406.5,140.5 407.5,144 404.5,144.4 401.5,142 401.5,139"/><polyline points="470,90 462.5,106.3 456.3,110 442.5,107.5 435,110 430,113.8 433.8,115.6 442.5,118.8 451.3,122.5 456.3,126.3 457.5,131.3 453.8,137.5 448.8,142.5 442.5,146.3 432.5,148.8 427.5,151.3 422.5,155 417.5,157.5 410,163.8 405,170 403.1,176.3 403.8,185 406.3,192.5 406.9,197"/><polyline points="333,74 337.2,72 342.2,70 347.3,67.5 350.5,66.5 353.8,65.8"/><polyline points="450,98.3 456,95 460,92 463.5,85 465.3,78 467,69.3 468.8,63.1 474,58.8 479.3,56.1 485,54"/><polyline points="425,102 426.3,99.5 430,93.3 435,88.3 439.4,82 437.5,79.5 430,78.9 424.4,77.6 425,75.1 431.3,72.6 437.5,67 442.5,62.6 450,61.4 456.8,63.8 459.3,70.1 456.8,77.6 450.6,83.9 445,90 439.4,95.6 432.5,99.4 426.3,101.3"/><polyline points="568,203 572.4,201.3 580.3,196 584.6,189 585.5,178.5 582,171.5 575,166.3 572.6,165.1 560.6,162 548.5,159 543,157 545.8,155 551,153.3 558,151.5 559.8,147.1 552.8,142.8 544,137.5 535.3,130.5 528.3,123.5 523.9,116.5 522.1,111.3 524.8,106 530,103.4 537,102.5 541,102.3 546,102.2 553.1,104.2 560.1,104.2 564.1,101.2 565.1,96.2 563.1,90.2 558.1,84.1 552,80.1 546,77.6 535.3,78.9 526.5,78 517.8,75.4 509,71 502,65.8 497.6,61.4 495.9,59.6 492.4,63.1 488,67.5 484.5,72.8 486.3,78.9 482.8,81.5 479.3,86.8 475.8,93.8 472,100.5 464.8,110.5 454.3,117.5 457.8,121 464.8,128 470,133.3 471.8,140.3 475.3,149 480.5,157.8 487.5,162.1 494.5,164.8 495.4,167.4 491,169.1 485,170 480.5,170 470,165.6 457.8,161.3 447.3,158.6 438.5,159.5 431.5,163.9 424.5,169.1 421,172.6 424.5,176.1 435,178.8 445.5,180.5 452.5,182.3 454.3,185.8 450.8,189.3 445.5,192.8 442,199.8 441.1,204.2 440.1,210.2 432,214.3 430,215.2"/><polyline points="497,54 498.5,55.3 503.8,58.8 512.5,64 521.3,67.5 530,69.3 535.3,66.6 540,65.6 546,66.1 549.5,67.1 551,70.6 555.1,73.1 562.1,77.1 570.1,83.1 576.1,88.1 581.2,93.2 581.2,97.2 578.2,102.2 573.1,108.2 569.1,114 565,121.8 558,124.4 549.3,124.4 545.8,127 551,130.5 558,134 566,136 573.8,134 582.5,128.8 591.3,123.5 596,121.6 600.2,122.7 605.5,126.9 611.8,129 616,126.9 621.2,121.6 627.5,118 634.9,116.4 641.2,117.4 645.4,120.6 647.5,126.9 649.6,133.2 653.8,138.5 660.1,142.7 667.5,145.3 674.9,146.9 678,147.5"/><polyline points="487,54 486.3,57 482.8,62.3 477.5,69.3 473.1,78 470.5,88.5 470,90"/><polyline points="541,54 541.5,55.5 545,59 549,61.5 552,65 556,69.6 560,73.1 566.1,77.1 573.1,82.1 578.2,86.1 582.2,90.2 587.2,93.2 591.2,96.2 592.2,98.2 590.2,101.2 587.2,103.2 584.2,106.2 587,110 590.9,110.3 596,109 604.4,112.7 611.8,114.8 618.1,114.8 623.3,112.2 627.5,108.5 632.8,106.9 640.2,106.9 648.6,108 655.9,110.1 659.1,113.2 658,119.5 655.9,125.9 659.1,126.4 665.4,125.3 674.9,124.8 678,124.8"/><polyline points="562.1,54 562.1,55.3 557.1,56.5 555.1,58.5 556.1,62.5 559.6,65.6 564.1,69.1 569.1,73.1 574.1,77.1 580.2,81.1 586.2,84.6 592.2,87.1 596,92.2 602.3,94.3 607.6,97.5 609.7,103.8 612.8,109 617,110.6 621.2,109 625.4,104.8 630.7,101.7 638.1,99.6 646.5,98.5 654.9,98.5 661.2,99.6 667.5,102.2 674.9,104.8 678,105.5"/><polyline points="570.1,67.6 573.1,72.1 578.2,76.1 583.2,79.1 589.2,82.1 595.2,84.6 596,91.2 606.5,94.8 620.2,97.5 629.6,94.8 638.1,92.2 638.6,88 639.9,89.3 646.1,88.5 655.5,88.5 660.1,88 665.4,89.1 674.9,90.1 678,90.3"/><polyline points="573.1,61.5 580.2,62 589.2,62.8 587.2,61.5 580.2,60.2 574.1,59.2"/><polyline points="639.9,54 639.9,55.1 637.6,61.3 636,67.5 636.8,71.4 643,73.8 652.3,76.9 661.7,80.7 667.9,83.1 678,84.6"/><polyline points="573.1,54 573.1,55.5 582.2,57 590.2,58.5 596.2,59.5 602.2,59 610.3,58.5 614.3,59 614.8,62 612.8,66.1 611.8,70.1 616.3,71.1 618.2,71.4 624.4,69.1 629.8,67.5 632.1,61.3 631.4,54"/><polyline points="579.2,71.1 583.2,69.6 590.2,70.1 596.2,71.6 599.7,74.6 597.2,78.1 594.7,81.1 590.2,80.6 585.2,78.6 580.2,74.1 579.2,71.1"/><polyline points="678,129.5 674.9,129.5 665.4,130.6 660.7,134.3 661.2,136.9 665.4,139.5 669.6,136.9 674.9,135.8 678,135.8"/><polyline points="568,203 573.3,203 582,197.8 590.8,190.8 596,180.3 597.8,166.3 597.8,157.5 603,151.4 606.5,150 617,149 627.5,148.5 633.9,146.9 634.9,140.6 634.4,134.3 637,130.6 641.2,131.1 645.4,134.3 649.6,139.5 654.9,143.7 661.2,146.4 669.6,148.5 678,149.5"/><polyline points="358.8,197 354.3,208.2 349.3,218.2 348.3,228.2 346.3,233.3 340.3,234.3 336.3,238.3 330.2,245.3 322.2,246.3 318.2,242.3 317.2,234.3 320.2,228.2 325.2,222.2 326.2,214.2 323.2,208.2 318.2,205.1 315,205 312.2,205.1 306.1,208.2 300.1,214.2 296.1,222.2 296.1,228.2 290.1,232.2 282,234.3 274,232.2 273,228.2 278,225.2 282,220.2 286.1,210.2 289.1,196.1 290.1,186.1 292.1,178 294.1,172 296.6,172 297.6,169.2 300.2,166.7 303.2,164.2 306.2,161.2 308.2,157.2 308.7,150.2 309.2,140.1 309.2,130.1 309.7,122 311.2,117.5 311.1,112 310.6,102.2"/><polyline points="315.2,144.6 322.2,145.1 328.3,146.1 327.8,150.2 328.3,155.2 329.3,160.2 330.3,166.2 330.3,172 329.2,178 330.2,185.1 322,188 314.2,190.1 310.2,194.1 306.1,198.1 300.1,204.1 296.1,210.2 294.1,211.2 293.1,206.1 294.1,194.1 296.1,184.1 298.1,178 302.1,173 305.2,172 307.2,168.7 311.2,167.7 312.2,164.2 313.7,158.2 314.2,150.2 315.2,144.6"/><polyline points="367.5,197 366.4,196.1 364.4,202.1 365.4,206.1 368.4,208.2 369.4,213.2 370.4,218.2 378,220 386.5,219.2 392.5,216.2 398.5,210.2 403.5,204.1 408.6,199.1 407,196.5"/><polyline points="270,275.4 282,274.4 296.1,270.4 297.1,266.4 294.1,262.4 289.1,259.4 288.1,256.3 290.1,254.3 296.1,252.3 304.1,252.3 312.2,254.3 322.2,258.4 334.3,261.4 344.3,256.3 354.3,250.3 364.4,244.3 374.4,238.3 384.5,236.3 390,236 396.5,236.3 404.5,232.2 410.6,226.2 416.6,220.2 422.6,217.2 430,215.2"/><polyline points="274.5,357.4 267.5,353 258.8,347.8 250,344.3 237.8,339 225.5,334.6 215,332 204.5,328.5 200.1,324.1 201.9,317.1 208,311 216.8,305.8 223.8,298.8 226.4,290 223.8,283.9 227.3,278.6 236,275.7 244,274.3 250,273.8 256.3,275.6 262.5,280 268.8,283.1 275,283.8 285,282.5 295,279.4 302.5,277.5 310,276.3 316.3,275 317.5,270 320,268.1 325,271.3 333,275 340.3,274.4 350.3,270.4 360.4,266.4 370.4,262.4 374.4,263.4 372.4,268.4 364.4,274.4 354.3,280.4 350,285 345,287.5 342.5,291.3 343.1,296.3 346.3,300 350.1,300.1 352.1,310.2 350.1,320.2 346.1,330.2 340,340.3 334,348.3 333,352.3 336,356.3 339,358 347,358.5 355.1,358.4 366.1,353.3 380.2,349.3 394.3,347.3 407.3,346.7 410.3,349.3 416.3,351.3 426.4,352.3 436.4,354.3 442.4,358.4 445.5,366.4 446.5,378.4 448.3,386.1 446.3,398.1 440.2,404.1 432.2,412.2 426.2,422.2 426.2,428.2 424.2,434.3 418.2,438.3 410,440 402.1,439.3 390,436.3 382,432.2 380.6,428.2 370.5,429.2 366.5,434.2 365.5,440.2 372.5,445.3 382.5,447.5 395,452.5 407.5,457.5 420,462.5 432.5,468.8 445,476.3 455,483.8 462.5,491.3 468.8,498.8 472,503 478,503.5"/><polyline points="304.2,156.2 302.2,159.2 299.1,163.2 296.6,166.2"/><polyline points="580,241.4 572.6,242.4 560.6,243.4 548.5,242.4 536.5,240.4 524.4,239.4 512.4,240.4 500.3,242.4 488.3,243.4 476.2,241.4 464.6,242.4 456,242 448.1,243.4 440.1,246.4 436.1,252.4 436.1,259.4 440.1,264.5 450.1,263.5 464.2,260.4 478.2,258.4 492.3,259.4 506.3,261.4 508.4,263.5 504.3,266.5 496.3,270.5 490.3,274.1 478.6,282 472.6,290.1 470.6,302.1 464.5,314.2 458.5,326.2 455.5,336.3 454.5,350.3 455.4,374 454.3,390.1 456.3,420.2 458.3,440.3 464.3,454.3 474.4,462.4 482,470 486,478 490,486 491,494 486,500 478,503.5"/><polyline points="580,241.4 589,236.3 590.8,227.5 589.9,218.8 592.5,211.8 597.8,210 607.4,217 615,216 615.3,210.9 611.8,204.8 610,196 610,187.3 613.5,175 618.8,166.3 624,159.3 632.8,154.9 645,152.3 659,152.3 669.5,154 675.6,155.8 678,156.5"/><polyline points="678,169 676.5,168 673,164.5 664.3,159.3 653.8,157.5 643.3,159.3 632.8,162.8 625.8,169.8 620.5,178.5 618.8,189 620.5,199.5 625.8,204.8 634.5,205.6 645,206.5 646.8,210 641.5,218.8 641,224 646.8,224 651.1,229.3 648.5,234.5 643.3,241.5 639.8,248.2"/><polyline points="678,193 675.6,192.5 669.5,190.8 662.5,189 659,186.4 652,184.6 645,182.9 639.8,185.5 636.3,183.8 632.8,178.5 629.3,182 629.3,189 631,192.5 639.8,197.8 652,199.5 662.5,204.8 669.5,209.1 675.6,213.5 678,215"/><polyline points="124,484.3 136,481.5 143.1,477.2 151.1,473.2 158.1,470.2 164.2,467.2 168.2,463.2 171.2,458.2 171.2,451.1 168.2,448.1 164.2,449.1 161.1,452.1 159.1,449.1 158.1,442.1 158.1,435.1 160.1,428 161.1,428.2 161.1,428.2 166.2,421.2 174.2,413.1 184.2,405.1 194.3,397.1 204,391 216.4,384.2 232.4,381.2 240,380.4 245.2,379.8 251,383 255.5,384.9 259.4,390.1 263.3,395.3 266.5,399.2 267.2,403 264.6,408.2 262.6,412.1 262,417.3 263.9,418.6 262,422.5 262,419.9 263.3,416 265.9,412.1 267.8,406.9 270.4,401.7 271,394 271.7,387.5 274.9,383.6 280.1,381 281.4,375.9 282.7,368.1 284.5,364 283,361 278.1,356.7 272.5,352.2 264.6,349.3 256.6,346.5 247.6,342 239.6,337.5 231.7,332.9 222,328.5 215.9,324.1 216.8,319.8 223.8,315.4 230,315.5 236.9,315.4 243,312.8 246.5,305.8 244.8,298.8 246.5,294.4 252,292.8 258.8,295 266.3,297.5 273.8,298.8 280,296.3 285,291.3 290,287.5 296.3,283.8 302.5,281.9 310,282.5 317.5,283.8 322.5,281.9 327.5,282.8 329.4,286.3 330.6,293.8 331.3,300 333.1,307.5 335,313.8 332.5,321.3 325,325 321.3,327.3"/><polyline points="248.3,271.6 241.3,271.6 240,271 229,272.4 220.8,276.5 212.5,283.4 204.3,286.1 193.3,287.5 185,289.6 179.5,292.3 178.8,298.5 175.4,305.4 174,308.8 178.1,310.2 185,310.9 187.8,315 192.6,316.4 193.3,321.9 190.5,326 187.8,330.2 193.3,332.9 201.5,335 212.5,337 223.5,338.4 231.7,342 240.8,347.1 234,349.9 224.9,353.3 217,357.8 209.1,362.4 200.3,366.1 192.3,372.1 187.3,380 182.2,388 176.2,395.1 167.2,400.1 162.2,405.1 159.1,410.1 158.1,414.1 153.1,416.1 149,418 146,421 143.1,420.2 142.1,425.2 141.1,430.2 139.1,429.2"/><polyline points="248.3,271.6 260,274.4 270,275.4"/><polyline points="218.4,228.2 224.4,227.2 236.5,228.2 244.5,227.2 252.5,224.2 260.6,222.6"/><polyline points="196,251 200.3,246.3 208.4,236.3 214.4,233.9 226.4,232.7 240.5,232.2 248.5,230.2 256.5,226.2 264.6,223.8 280,221.8"/><polyline points="192,262 194.3,255.3 196.3,252.3 204.3,246.3 214.4,241.3 224.4,239.3 232.4,239.3 236.1,241.3 232.4,244.3 229.4,248.3 226.4,252.3 220.4,254.3 210.4,255.3 200.3,256.3 194.3,255.3"/><polyline points="218.4,263.4 224.4,260.4 232.4,258.4 244.5,257.3 243.5,259.4 236.5,261.4 232.4,264.4 224.4,265.4 219.4,264.4 218.4,263.4"/><polyline points="209.4,269.5 212,268.4 215.4,269.8 212,271.4 209.4,269.5"/><polyline points="178.2,276.4 180.2,270.4 184.3,265.4 186.3,268.4 184.3,274.4 179.2,278.4 178.2,276.4"/><polyline points="321.3,327.3 323.5,331 322.3,338 319.3,350.1 320.3,360.1 324.3,366.1 334.3,369.2 347.1,368.4 354,369 361.1,369.4 370.2,368.4 382.2,368.8 390.2,372.4 398.3,376.4 406.3,379.4 414.3,384.5 424.4,384.5 430.2,386.1 434.2,394.1 432.2,404.1 424.2,408.2 412.1,410.2 400.1,412.2"/><polyline points="428.4,322.2 429.4,314.2 428.4,306.1 432.4,298.1 439.4,291.1 445.5,288.1 442.4,287.1 434.4,288.1 424.4,294.1 414.3,302.1 410.3,308.2 414.3,309.2 422.4,310.2 426.4,316.2 427.4,322.2"/><polyline points="639.8,248.2 636,249.7 630.7,253.9 622.3,257 611.8,258.6 602.3,263.3 596,267 587.5,269.5 575,274.5 562.5,279.5 550,283.3 537.5,287 525,293.3 512.5,302 500,310.8 490.1,330.4 482,338.4 480,344.4 490.1,340.4 500,334.5 512.5,333.9 516.3,339.3 525,339.3 537.5,332 550,327 562.5,323.9 573.8,323 580,323 586.9,323.3 594.6,326.1 598.4,329.9 596.1,333.7 587.1,338.2 578.1,342.7 572,348.7 569.8,354.8 571.3,362.3 575.1,368.3 579.6,376 587.1,383.6 596.1,392.6 605.2,401.6 614.2,410.7 623.3,418.2 633.8,424.2 644.3,428 653.4,429.5 659.4,427.2 659.4,418.2 656.4,407.7 652.5,397 651,389.9 653.6,378.2 657.5,369.2 662.7,361.4 669.2,354.9 675.6,349.8 678,348"/><polyline points="678,238.5 674.9,238.6 667.5,239.7 661.2,243.4 654.9,249.7 648.6,257 642.3,264.4 636,270.7 629.6,276 627,278.1 615,279.5 604.4,280.2 600,279.5 593.8,280.1 581.3,282.6 568.8,286.4 556.3,290.8 543.8,295.1 531.3,302 521.3,310.8 515,317 516.3,318.3 520,320.8 531.3,320.1 543.8,318.3 556.3,316.4 568.8,315.1 583,314.5 594.5,314.3 605.2,314.8 614.2,318.6 620.2,324.6 623.3,333.7 623.3,342.7 620.2,353.3 615.7,362.3 609.7,368.3 599.2,372.8 597.7,370 596.1,377.5 600.7,385.1 608.2,392.6 617.2,401.6 626.3,409.2 635.3,415.2 644.3,418.9 646.6,415.2 647.2,403 648.5,387.3 651,374.3 654.9,361.4 658.8,351 665.3,340.7 671.7,332.9 675.6,326.5 678,324"/><polyline points="678,265.5 674.9,265.4 669.6,264.9 663.3,265.4 657,267.5 650.7,271.8 643.3,278.1 636,283.3 627.5,287.5 617,289.1 606.5,289.6 600,288.9 593.8,289.5 581.3,292 568.8,297.6 558.8,303.3 556.3,305.1 562.5,306.4 575,306.4 587.5,305.8 594,305.5 600.7,305.1 609.7,306.6 620.2,308.1 624.5,311.5 629,314.5 632.8,318.3 635,323.5 635.3,332 635.3,342.7 634.2,345.9 630.3,358.8 625.2,369.2 620.2,374.3 618,382 620.2,389.6 626.3,395.6 633.8,398.6 636.8,397.6 639.8,390 643.5,384.7 647.5,371.7 651,358.8 654.5,349.8 658.5,339.4 662,332 665,326.5 669,320 672.5,314.5 675.5,309.3 678,308"/><polyline points="650.8,325.8 650.4,322 649.6,316 647.8,310.8 644,307 639.5,303.3 635,301 631.3,299.9 631.3,296.5 635,295 642.5,292.8 650,291.6 657.5,291.3 663.5,292 666.5,293.5 668,297.3 667.3,302.5 665.8,308.5 663.5,314.5 660.5,319.8 658.3,325 655,327 650.8,325.8"/><polyline points="678,362 675.6,362.7 671.7,367.9 667.9,375.6 665.3,384.7 667.9,386 671.7,378.2 675.6,371.7 678,370"/><polyline points="267.8,362 266.8,363.5 261.2,365.2 254.4,364.1 247.6,362.9 240.8,362.9 234,364.6 224.9,368 215.9,372.6 209.1,377.1 204,382 194.3,390 184.2,398.1 174.2,407.1 166.2,415.1 159.1,422.2 156.1,425 154.1,432 152.1,440.1 150.1,448.1 148.6,455.1 150.1,462.2 153.1,467.2 154.1,470.2 149.1,472.2 143.1,474.2"/><polyline points="126,476 124,476"/><polyline points="124,488.5 135,484.5 146,480 156,475 165,470 171.2,465.2 174.2,458.2 175.2,450.1 173.2,442.1 171.7,435.1 174.2,428 179.2,424 184.2,424 188.3,427 192.3,435.1 196.3,442.1 198.3,450.1 198.3,460.2 196.3,465.2 192.3,470.2 188.3,476.2 184.2,480.5 173.7,486.6 166.2,492.6 160.1,500.1 159.4,507.7 155.6,512.2 152,512 141,511.5 130,515.2 124,519.7"/><polyline points="287.2,386 290.2,392 294.2,406.1 298.2,420.2 302.2,432.2 306.3,444.3 300,446 294.2,444.3 288.2,432.2 284.2,420.2 285.2,400.1 287.2,386"/><polyline points="158.6,464.2 160.1,458.2 163.2,453.6 167.2,452.6 167.7,456.1 165.2,461.2 162.2,465.2 159.1,466.2 158.6,464.2"/><polyline points="124,494.1 133,491.1 143.6,486.6 152.6,483.6 154.9,485.8 146.6,491.1 136,498.6 127,504.6 124,506.9"/><polyline points="222,564 221,555 223,543.5 228,537 234.6,533 236.1,530.4 240.7,524.3 249.7,519.8 263.3,518.3 278.3,518.3 283.6,516.8 278.3,515.3 267.8,509.3 255.7,504.8 245,503 239,503 233,504 229.4,506.1 220.4,510.7 211.3,518.2 203.8,525.7 197.8,533.3 193.3,542.3 190.3,545.3 187.3,542.3 188,533.3 191.8,524.2 196.3,515.2 200.8,509.2 199.3,505.4 194.8,503.9 188.8,507.7 181.2,515.2 173.7,521.2 164.7,525 155.6,523.5 146.6,522.7 137.6,524.2 134.5,527.2 133,537.8 133.8,548.3 135.3,557.3 136,564"/><polyline points="146.6,564 145.8,557.3 146.6,551.3 151.1,545.3 160.1,542.3 169.2,543.8 172.2,549.8 170.7,560.4 169.2,564"/><polyline points="226.8,422.6 220.1,422.6 214.1,422.3 209.1,424.6 205.5,430.1 207,436.2 212.1,441.2 215.1,446 219.6,456.6 224.1,465.6 231.6,471.6 242.2,479.2 252.7,483.7 259.5,486.7 258.7,490.5 251.2,494.2 246.7,495.7 262.5,498 280.5,503.6 296.3,511.5 312,520.5 327.8,528.4 341.3,536.3 352.5,545.3 361.5,554.3 366,561 367.1,565"/><polyline points="226.8,422.6 233.6,422.6 234.2,428.1 233.1,434.2 233.1,440.2 234.7,445.2 232.1,448.2 229.1,452.2 230.1,458.1 239.2,459.6 251.2,459.6 260.2,464.1 267.8,470.1 275.3,477.6 284.3,485.2 289.5,491.3 303,500.3 318.8,505.9 332.3,507 339,508.1 348,516 354.8,520.5 357,525"/><polyline points="336,426 340.4,422.2 346.4,416.1 356.5,410.1 368.5,404.1 378.6,398.1 364.5,396.1 352.4,398.1 340.4,401.1 330.4,406.1 320.3,410.1 316.3,414.1 317.3,417.1 322.3,419.2 326.3,414.1 331.4,416.1 332.4,424.2 336,426"/><polyline points="400,411.1 380.6,418.2 368.5,424.2 361.5,432.2 359.5,442.2 360.5,452.3 362.5,464.3 360.5,476.4 362.5,484.4 361,489 357,491.3 353.6,495.8 354.5,504.1 354.8,507 357,518.3 357,525"/><polyline points="436,565 436,561 434,550 430.5,540.4 425,529.4 419.5,519.8 412.6,510.1 407.1,503.3 403,500.5 400.3,503.3 401.6,508.8 397.5,517 394.8,523.9 397.5,530.8 403.7,536.3 403,543.1 397.5,548.6 390.6,551.4 387.9,548.6 390.6,540.4 387.9,533.5 389.3,522.5 392,508.8 391.9,505 390,492.5 386.3,480 382.5,471.3 377.5,465.6 383.1,463.5 390,461 396.3,461.3 408.8,465.6 410,472.5 413.8,482.5 417.5,487.5 413.8,491.3 412.5,498.8 415,505 421.3,512.3 430,521 438.8,528.5 445,531 453.8,528.5 460,527.3 470,527.6 490,528 508,530 518,533 520,538 516,542 504,547 490,549 480,549 484,551 494,554 507,558 513,560 520,558 536,554 552,550 560,547 562.8,548"/><polyline points="488,366 486,370.4 483.6,380 481.2,390.8 480,400 478.4,402.1 476.4,418.2 478.4,428.2 486.4,436.3 494.5,444.3 500.5,454.3 506.5,466.4 512.5,478.4 520.6,494.1"/><polyline points="488,366 492,370.4 494.4,382.4 498,393.2 501.6,399.2 506.4,396.8 511.2,399.2 512.5,400.1 516.3,405 522.5,413.8 528.8,422.5 536.1,432.1 550.1,445.2 562.2,448.2 567.2,454.2 570.2,464.3 580.2,468.3 596.3,472.3 608.4,475.3 618.4,478.3 622,482 614.4,482.3 600.3,480.3 588.3,482.3 576.2,486.3 570.2,490.4 574.2,494.4 575.2,499.4 568.2,503.4 556.1,504.4 540.1,502.4 528,496.4 520.6,494.1"/><polyline points="549,400 543.8,405 547.5,413.8 556.3,418.8 568.8,423.8 581.3,428.8 593.8,435 600.3,437 610,444.4 615.3,448.6 621.6,451.8 628.9,458.1 636.3,464.4 642.6,471.8 646.8,480 650.3,486 655.5,497.8 658.1,513.5 659,527.5 659,548 659,564"/><polyline points="549,400 556.9,402.5 565,407.5 575,413.8 585,421.3 595,430 600,433.8 606,437 611.8,440 618.8,442.6 627.5,447.9 638,454 652,462.8 662.5,468 674.8,472.4 678,473.5"/><polyline points="678,406 672.5,401 669.2,397.6 666.6,392.4 662.7,391.2 660.1,393.7 661.4,400 662,405 664.7,415 666.8,421.3 671,427.6 672,432.9 666.8,436 656.3,437.6 650,439.7 655.2,441.3 665.7,443.4 675.2,445.5 678,446"/><polyline points="562.8,548 575,539.8 587.3,531 599.5,524 613.5,519.6 625.8,520.5 634.5,525.8 638,534.5 640.6,548 641,564"/><polyline points="678,530 672,536 671,542 675,546 678,546"/><polyline points="403.7,565 403.7,555.5 409.9,548.6 416.8,546.6 425,550 430.5,556.9 433.3,565"/><polyline points="375,477.9 381.3,482.3 383.1,491 381.9,499.8 379.4,508.5 378.1,506 379.4,498.5 378.1,491 373.1,486 372.5,481 375,477.9"/><polyline points="600,564 602,559.5 607,557.5 611,560 613,564"/></g>
<polygon points="349.0,54.0 347.3,63.0 344.3,63.0 336.2,67.5 333.2,71.0 326.2,76.6 319.2,80.1 313.1,84.1 305.1,89.1 298.1,93.1 294.1,97.1 287.5,100.7 287.0,109.7 294.1,109.7 294.1,105.7 311.1,105.7 312.2,110.0 312.2,117.5 308.2,117.5 308.2,122.0 305.2,122.0 305.2,148.2 308.2,148.2 308.2,156.2 304.2,156.2 294.1,170.2 293.1,172.0 290.0,172.0 287.0,175.0 286.1,180.0 286.1,210.2 282.0,218.2 270.0,221.2 260.6,223.2 242.5,224.2 240.5,228.2 220.4,228.2 212.4,231.2 208.4,234.3 200.3,238.3 195.3,241.3 192.3,248.3 190.3,254.3 186.3,260.4 182.2,264.4 178.2,270.4 174.2,278.4 168.2,284.5 162.2,290.5 159.6,293.0 153.4,301.3 148.6,305.4 147.9,310.9 148.6,317.8 150.6,326.0 149.3,332.9 147.9,337.0 148.6,345.0 149.0,350.0 146.1,360.1 144.1,380.2 142.0,385.0 138.6,393.0 138.1,400.1 138.1,428.2 142.1,432.2 142.1,446.1 138.1,449.1 134.0,453.1 131.0,458.2 128.0,462.2 125.0,467.2 124.0,468.2 120.0,468.2 120.0,50.0 349.0,50.0" fill="#fff"/><g fill="none" stroke="#000" stroke-width="1.1" stroke-linejoin="round"><polyline points="124.6,144.0 133.7,148.5 142.1,148.3 149.5,151.6 160.0,151.6 166.7,150.1 161.7,146.0 166.3,141.5 170.5,135.2 176.8,138.4 182.1,142.6 189.0,140.9 193.2,134.8 205.2,128.9 212.6,127.2 218.9,123.6 224.6,119.4 231.5,117.7 238.5,115.4 246.2,117.3 253.2,115.6 259.9,118.8 264.7,119.0 270.0,121.0 278.1,125.1 284.1,130.1 288.1,136.1 289.6,143.1 289.1,154.2 283.1,154.7 284.6,159.2 288.1,162.2 292.1,164.7 288.6,171.2 289.0,180.0 288.1,194.1 285.0,208.0 282.0,214.2 270.0,220.2 260.6,222.6 244.5,223.2 228.4,224.6 216.4,227.2 204.3,230.2 194.3,234.3 192.3,239.3 188.3,246.3 186.3,258.4 176.2,266.4 168.2,274.4 160.2,282.4 155.1,294.1 152.0,294.4 150.6,301.3 146.5,302.6 143.8,304.0 143.1,309.5 145.1,315.0 147.9,321.9 146.5,328.8 143.8,334.3 147.9,337.0 147.9,345.0 146.1,350.0 144.1,360.1 140.1,380.2 136.6,390.0 136.0,401.1 134.0,410.1 136.0,418.2 137.1,430.0 139.1,437.1 137.1,442.1 132.0,450.1 127.0,456.1 124.0,459.2"/><polyline points="124.0,404.0 135.1,403.3 136.0,401.1"/><polyline points="182.2,258.4 170.2,264.4 160.2,272.4 159.2,280.4 161.6,264.1 179.5,261.4"/><polyline points="190.3,189.1 200.3,191.1 210.4,196.1 202.3,202.1 200.3,210.2 204.3,217.2 215.4,219.2 214.4,226.2 200.3,229.2 192.3,232.2 186.3,230.2 184.3,226.2 186.3,218.2 180.2,212.2 177.2,204.1 178.2,197.1 184.3,193.1 190.3,189.1"/><polyline points="186.3,230.2 174.2,233.3 169.2,238.3 167.2,245.3 165.8,251.3 176.2,248.3 184.3,245.3 187.3,246.3 189.3,239.3"/><polyline points="349.3,55.0 340.2,60.0 330.2,68.0 320.2,75.1 310.1,82.1 300.1,88.1 295.1,92.1 290.0,97.1 285.0,102.2 280.0,108.2"/><polyline points="351.0,55.5 342.2,61.0 331.2,69.5 320.2,77.0 310.1,83.6 299.1,90.6 295.1,93.6 290.5,98.5"/><polyline points="288.5,54.8 282.5,64.3 280.2,73.8 280.2,92.8 290.9,96.4 288.5,101.1 281.3,108.3 283.7,113.0 292.0,109.5 298.0,113.0 300.4,121.3"/><polyline points="280.1,110.0 284.1,115.0 289.1,111.5 295.1,115.0 301.2,112.5 299.7,120.0 302.7,129.1 302.2,136.1 299.1,145.1 296.1,153.2 288.1,154.2"/><polyline points="312.3,64.3 319.4,57.1 324.1,59.5 328.9,55.9 326.5,64.3 321.8,67.8 314.6,69.0 309.9,73.8 315.8,78.5"/></g>
<g stroke="#a8a8a8" stroke-width="1.3" stroke-dasharray="2 4.5"><line x1="194.8" y1="55" x2="194.8" y2="563"/><line x1="265.4" y1="55" x2="265.4" y2="563"/><line x1="336.1" y1="55" x2="336.1" y2="563"/><line x1="406.7" y1="55" x2="406.7" y2="563"/><line x1="477.4" y1="55" x2="477.4" y2="563"/><line x1="548.0" y1="55" x2="548.0" y2="563"/><line x1="618.7" y1="55" x2="618.7" y2="563"/><line x1="125" y1="105.3" x2="676" y2="105.3"/><line x1="125" y1="189.9" x2="676" y2="189.9"/><line x1="125" y1="274.5" x2="676" y2="274.5"/><line x1="125" y1="359.1" x2="676" y2="359.1"/><line x1="125" y1="443.7" x2="676" y2="443.7"/><line x1="125" y1="528.3" x2="676" y2="528.3"/></g>
<g><rect x="331.9" y="73.2" width="15.9" height="10.8" fill="#fff"/><rect x="347.9" y="62.6" width="6.8" height="10.8" fill="#fff"/><rect x="347.2" y="150.0" width="6.8" height="10.8" fill="#fff"/><rect x="314.2" y="180.6" width="15.9" height="10.8" fill="#fff"/><rect x="311.8" y="198.3" width="6.8" height="10.8" fill="#fff"/><rect x="370.6" y="214.8" width="15.9" height="10.8" fill="#fff"/><rect x="389.6" y="230.6" width="6.8" height="10.8" fill="#fff"/><rect x="409.6" y="101.0" width="15.9" height="10.8" fill="#fff"/><rect x="410.6" y="127.4" width="6.8" height="10.8" fill="#fff"/><rect x="481.5" y="165.1" width="6.8" height="10.8" fill="#fff"/><rect x="538.0" y="96.7" width="6.8" height="10.8" fill="#fff"/><rect x="557.9" y="130.8" width="15.9" height="10.8" fill="#fff"/><rect x="583.8" y="105.4" width="6.8" height="10.8" fill="#fff"/><rect x="566.2" y="57.1" width="6.8" height="10.8" fill="#fff"/><rect x="566.4" y="197.6" width="6.8" height="10.8" fill="#fff"/><rect x="607.3" y="211.2" width="15.9" height="10.8" fill="#fff"/><rect x="634.2" y="218.2" width="13.0" height="10.8" fill="#fff"/><rect x="448.4" y="236.5" width="15.9" height="10.8" fill="#fff"/><rect x="324.9" y="272.3" width="15.9" height="10.8" fill="#fff"/><rect x="241.4" y="265.4" width="6.8" height="10.8" fill="#fff"/><rect x="188.4" y="257.0" width="6.8" height="10.8" fill="#fff"/><rect x="223.9" y="310.4" width="13.0" height="10.8" fill="#fff"/><rect x="420.1" y="321.8" width="15.9" height="10.8" fill="#fff"/><rect x="339.1" y="356.0" width="15.9" height="10.8" fill="#fff"/><rect x="347.6" y="366.0" width="13.0" height="10.8" fill="#fff"/><rect x="480.4" y="359.3" width="15.9" height="10.8" fill="#fff"/><rect x="604.7" y="277.1" width="22.1" height="10.8" fill="#fff"/><rect x="588.1" y="300.0" width="13.0" height="10.8" fill="#fff"/><rect x="572.5" y="308.2" width="22.1" height="10.8" fill="#fff"/><rect x="573.9" y="317.6" width="13.0" height="10.8" fill="#fff"/><rect x="640.1" y="325.6" width="22.1" height="10.8" fill="#fff"/><rect x="267.9" y="357.0" width="15.9" height="10.8" fill="#fff"/><rect x="245.0" y="373.1" width="13.0" height="10.8" fill="#fff"/><rect x="145.5" y="416.8" width="6.8" height="10.8" fill="#fff"/><rect x="220.1" y="416.0" width="13.0" height="10.8" fill="#fff"/><rect x="293.6" y="447.1" width="22.1" height="10.8" fill="#fff"/><rect x="325.3" y="425.8" width="22.1" height="10.8" fill="#fff"/><rect x="402.2" y="435.4" width="15.9" height="10.8" fill="#fff"/><rect x="383.2" y="454.9" width="13.0" height="10.8" fill="#fff"/><rect x="540.5" y="394.0" width="15.9" height="10.8" fill="#fff"/><rect x="615.2" y="480.2" width="15.9" height="10.8" fill="#fff"/><rect x="127.0" y="471.1" width="15.9" height="10.8" fill="#fff"/><rect x="130.2" y="506.4" width="22.1" height="10.8" fill="#fff"/><rect x="233.8" y="497.5" width="22.1" height="10.8" fill="#fff"/><rect x="351.1" y="520.2" width="13.0" height="10.8" fill="#fff"/><rect x="470.1" y="499.6" width="15.9" height="10.8" fill="#fff"/><rect x="507.0" y="554.1" width="13.0" height="10.8" fill="#fff"/></g><g class="t" font-size="12" fill="#000" text-anchor="middle" style="letter-spacing:-0.15px"><text x="339.8" y="83.0">8.5</text><text x="351.3" y="72.4">8</text><text x="350.6" y="159.8">9</text><text x="322.2" y="190.4">9.5</text><text x="315.2" y="208.1">9</text><text x="378.5" y="224.6">8.5</text><text x="393.0" y="240.4">9</text><text x="417.5" y="110.8">7.5</text><text x="414.0" y="137.2">8</text><text x="484.9" y="174.9">9</text><text x="541.4" y="106.5">9</text><text x="565.9" y="140.6">8.5</text><text x="587.2" y="115.2">8</text><text x="569.6" y="66.9">7</text><text x="569.8" y="207.4">9</text><text x="615.3" y="221.0">9.5</text><text x="640.7" y="228.0">10</text><text x="456.4" y="246.3">9.5</text><text x="332.8" y="282.1">9.5</text><text x="244.8" y="275.2">9</text><text x="191.8" y="266.8">9</text><text x="230.4" y="320.2">10</text><text x="428.0" y="331.6">9.5</text><text x="347.0" y="365.8">9.5</text><text x="354.1" y="375.8">10</text><text x="488.4" y="369.1">9.5</text><text x="615.7" y="286.9">10.5</text><text x="594.6" y="309.8">11</text><text x="583.5" y="318.0">10.5</text><text x="580.4" y="327.4">10</text><text x="651.1" y="335.4">11.5</text><text x="275.9" y="366.8">9.5</text><text x="251.5" y="382.9">10</text><text x="148.9" y="426.6">9</text><text x="226.6" y="425.8">10</text><text x="304.7" y="456.9">10.5</text><text x="336.4" y="435.6">10.5</text><text x="410.2" y="445.2">9.5</text><text x="389.7" y="464.7">10</text><text x="548.5" y="403.8">9.5</text><text x="623.2" y="490.0">9.5</text><text x="135.0" y="480.9">9.5</text><text x="141.3" y="516.2">10.5</text><text x="244.8" y="507.3">10.5</text><text x="357.6" y="530.0">10</text><text x="478.0" y="509.4">9.5</text><text x="513.5" y="563.9">10</text></g>
<g fill="#333" stroke="#fff" stroke-width="0.45"><text class="t" font-size="20.3" transform="translate(146.12,109.10) scale(0.9818,1)" >Z</text><text class="t" font-size="20.3" transform="translate(174.54,109.10) scale(1.3600,1)" >=</text><text class="t" font-size="20.3" transform="translate(205.77,109.10) scale(1.2308,1)" >2.5</text><text class="t" font-size="20.3" transform="translate(255.85,109.10) scale(1.1533,1)" >m</text></g>
</g>
<rect x="124.3" y="54.8" width="551.9" height="508.4" fill="none" stroke="#000" stroke-width="1.7"/>
<g stroke="#000" stroke-width="1.4"><line x1="124.1" y1="563" x2="124.1" y2="567.5"/><line x1="194.8" y1="563" x2="194.8" y2="567.5"/><line x1="265.4" y1="563" x2="265.4" y2="567.5"/><line x1="336.1" y1="563" x2="336.1" y2="567.5"/><line x1="406.7" y1="563" x2="406.7" y2="567.5"/><line x1="477.4" y1="563" x2="477.4" y2="567.5"/><line x1="548.0" y1="563" x2="548.0" y2="567.5"/><line x1="618.7" y1="563" x2="618.7" y2="567.5"/><line x1="119.5" y1="105.3" x2="124" y2="105.3"/><line x1="119.5" y1="189.9" x2="124" y2="189.9"/><line x1="119.5" y1="274.5" x2="124" y2="274.5"/><line x1="119.5" y1="359.1" x2="124" y2="359.1"/><line x1="119.5" y1="443.7" x2="124" y2="443.7"/><line x1="119.5" y1="528.3" x2="124" y2="528.3"/></g>
<g class="t" font-size="12.5" font-weight="bold" fill="#000"><text x="124.1" y="578.8" text-anchor="middle">28.5</text><text x="194.8" y="578.8" text-anchor="middle">29</text><text x="265.4" y="578.8" text-anchor="middle">29.5</text><text x="336.1" y="578.8" text-anchor="middle">30</text><text x="406.7" y="578.8" text-anchor="middle">30.5</text><text x="477.4" y="578.8" text-anchor="middle">31</text><text x="548.0" y="578.8" text-anchor="middle">31.5</text><text x="618.7" y="578.8" text-anchor="middle">32</text><text x="117.6" y="109.9" text-anchor="end">45.5</text><text x="117.6" y="194.5" text-anchor="end">45</text><text x="117.6" y="279.1" text-anchor="end">44.5</text><text x="117.6" y="363.7" text-anchor="end">44</text><text x="117.6" y="448.3" text-anchor="end">43.5</text><text x="117.6" y="532.9" text-anchor="end">43</text></g>
<g shape-rendering="crispEdges"><rect x="709" y="62.00" width="14" height="6.47" fill="#760000"/><rect x="709" y="68.17" width="14" height="6.47" fill="#810000"/><rect x="709" y="74.34" width="14" height="6.47" fill="#8c0000"/><rect x="709" y="80.51" width="14" height="6.47" fill="#990000"/><rect x="709" y="86.69" width="14" height="6.47" fill="#a50000"/><rect x="709" y="92.86" width="14" height="6.47" fill="#b20000"/><rect x="709" y="99.03" width="14" height="6.47" fill="#c00000"/><rect x="709" y="105.20" width="14" height="6.47" fill="#d00000"/><rect x="709" y="111.37" width="14" height="6.47" fill="#e00000"/><rect x="709" y="117.54" width="14" height="6.47" fill="#f10000"/><rect x="709" y="123.71" width="14" height="6.47" fill="#ff0200"/><rect x="709" y="129.88" width="14" height="6.47" fill="#ff0e00"/><rect x="709" y="136.06" width="14" height="6.47" fill="#ff1b00"/><rect x="709" y="142.23" width="14" height="6.47" fill="#ff2800"/><rect x="709" y="148.40" width="14" height="6.47" fill="#ff3500"/><rect x="709" y="154.57" width="14" height="6.47" fill="#ff4100"/><rect x="709" y="160.74" width="14" height="6.47" fill="#ff4e00"/><rect x="709" y="166.91" width="14" height="6.47" fill="#ff5b00"/><rect x="709" y="173.08" width="14" height="6.47" fill="#ff6500"/><rect x="709" y="179.25" width="14" height="6.47" fill="#ff6e00"/><rect x="709" y="185.43" width="14" height="6.47" fill="#ff7600"/><rect x="709" y="191.60" width="14" height="6.47" fill="#ff8200"/><rect x="709" y="197.77" width="14" height="6.47" fill="#ff8e00"/><rect x="709" y="203.94" width="14" height="6.47" fill="#ff9900"/><rect x="709" y="210.11" width="14" height="6.47" fill="#ffa200"/><rect x="709" y="216.28" width="14" height="6.47" fill="#ffac00"/><rect x="709" y="222.45" width="14" height="6.47" fill="#ffba00"/><rect x="709" y="228.62" width="14" height="6.47" fill="#ffc900"/><rect x="709" y="234.80" width="14" height="6.47" fill="#ffda00"/><rect x="709" y="240.97" width="14" height="6.47" fill="#ffeb00"/><rect x="709" y="247.14" width="14" height="6.47" fill="#fffe00"/><rect x="709" y="253.31" width="14" height="6.47" fill="#f6ff0c"/><rect x="709" y="259.48" width="14" height="6.47" fill="#ecff19"/><rect x="709" y="265.65" width="14" height="6.47" fill="#d8ff22"/><rect x="709" y="271.82" width="14" height="6.47" fill="#c3ff2b"/><rect x="709" y="277.99" width="14" height="6.47" fill="#b1fe39"/><rect x="709" y="284.17" width="14" height="6.47" fill="#a1fb4c"/><rect x="709" y="290.34" width="14" height="6.47" fill="#91f85f"/><rect x="709" y="296.51" width="14" height="6.47" fill="#84f56c"/><rect x="709" y="302.68" width="14" height="6.47" fill="#77f279"/><rect x="709" y="308.85" width="14" height="6.47" fill="#6bf085"/><rect x="709" y="315.02" width="14" height="6.47" fill="#5ef092"/><rect x="709" y="321.19" width="14" height="6.47" fill="#51f09f"/><rect x="709" y="327.36" width="14" height="6.47" fill="#45f0ab"/><rect x="709" y="333.54" width="14" height="6.47" fill="#38f0b8"/><rect x="709" y="339.71" width="14" height="6.47" fill="#2bf0c5"/><rect x="709" y="345.88" width="14" height="6.47" fill="#1ef0d2"/><rect x="709" y="352.05" width="14" height="6.47" fill="#12f0de"/><rect x="709" y="358.22" width="14" height="6.47" fill="#0bf0eb"/><rect x="709" y="364.39" width="14" height="6.47" fill="#04f0f7"/><rect x="709" y="370.56" width="14" height="6.47" fill="#00edff"/><rect x="709" y="376.73" width="14" height="6.47" fill="#00e4ff"/><rect x="709" y="382.91" width="14" height="6.47" fill="#00dcff"/><rect x="709" y="389.08" width="14" height="6.47" fill="#00d3ff"/><rect x="709" y="395.25" width="14" height="6.47" fill="#00caff"/><rect x="709" y="401.42" width="14" height="6.47" fill="#00bfff"/><rect x="709" y="407.59" width="14" height="6.47" fill="#00b3ff"/><rect x="709" y="413.76" width="14" height="6.47" fill="#00a6ff"/><rect x="709" y="419.93" width="14" height="6.47" fill="#009cff"/><rect x="709" y="426.10" width="14" height="6.47" fill="#0094ff"/><rect x="709" y="432.28" width="14" height="6.47" fill="#008cff"/><rect x="709" y="438.45" width="14" height="6.47" fill="#0084ff"/><rect x="709" y="444.62" width="14" height="6.47" fill="#007cff"/><rect x="709" y="450.79" width="14" height="6.47" fill="#0072ff"/><rect x="709" y="456.96" width="14" height="6.47" fill="#0068ff"/><rect x="709" y="463.13" width="14" height="6.47" fill="#005eff"/><rect x="709" y="469.30" width="14" height="6.47" fill="#0053ff"/><rect x="709" y="475.47" width="14" height="6.47" fill="#0047ff"/><rect x="709" y="481.65" width="14" height="6.47" fill="#003bff"/><rect x="709" y="487.82" width="14" height="6.47" fill="#002efe"/><rect x="709" y="493.99" width="14" height="6.47" fill="#0021f8"/><rect x="709" y="500.16" width="14" height="6.47" fill="#0014f2"/><rect x="709" y="506.33" width="14" height="6.47" fill="#000be2"/><rect x="709" y="512.50" width="14" height="6.47" fill="#0005ce"/><rect x="709" y="518.67" width="14" height="6.47" fill="#0000bd"/><rect x="709" y="524.84" width="14" height="6.47" fill="#0000b3"/><rect x="709" y="531.02" width="14" height="6.47" fill="#0000a9"/><rect x="709" y="537.19" width="14" height="6.47" fill="#00009f"/><rect x="709" y="543.36" width="14" height="6.47" fill="#000093"/><rect x="709" y="549.53" width="14" height="6.47" fill="#000086"/></g>
<g class="t" font-size="14" fill="#000"><text transform="translate(734.20,73.2) scale(1.1,1)">11.5</text><text transform="translate(734.20,188.9) scale(1.1,1)">10.0</text><text transform="translate(734.20,310.7) scale(1.1,1)">8.36</text><text transform="translate(734.20,432.6) scale(1.1,1)">6.72</text><text transform="translate(734.20,555.0) scale(1.1,1)">5.08</text></g>
<g fill="#000" stroke="#fff" stroke-width="0.4"><text class="t" font-size="25" transform="translate(24.00,41.70) scale(0.9993,1)" >Temperature</text><text class="t" font-size="25" transform="translate(179.01,41.70) scale(0.9926,1)" >(Celsius).</text><text class="t" font-size="25" transform="translate(296.90,41.70) scale(0.9250,1)" >Date</text><text class="t" font-size="25" transform="translate(361.17,41.70) scale(1.0318,1)" >2026.01.06.</text><text class="t" font-size="25" transform="translate(514.60,41.70) scale(0.9056,1)" >Time</text><text class="t" font-size="25" transform="translate(578.53,41.70) scale(1.0742,1)" >00(h):00(m)</text><text class="t" font-size="25" transform="translate(733.73,41.70) scale(0.7741,1)" >GMT</text></g><g stroke="#fff" stroke-width="0.3"><text class="t" font-size="19.5" transform="translate(322.93,605.20) scale(1.0738,1)" >Longitude (East)</text></g><g transform="translate(81.7,0) rotate(-90)" stroke="#fff" stroke-width="0.3"><text class="t" font-size="19.5" transform="translate(-384.21,0.00) scale(1.1060,1)" >Latitude (North)</text></g>
</svg>
</body></html>
